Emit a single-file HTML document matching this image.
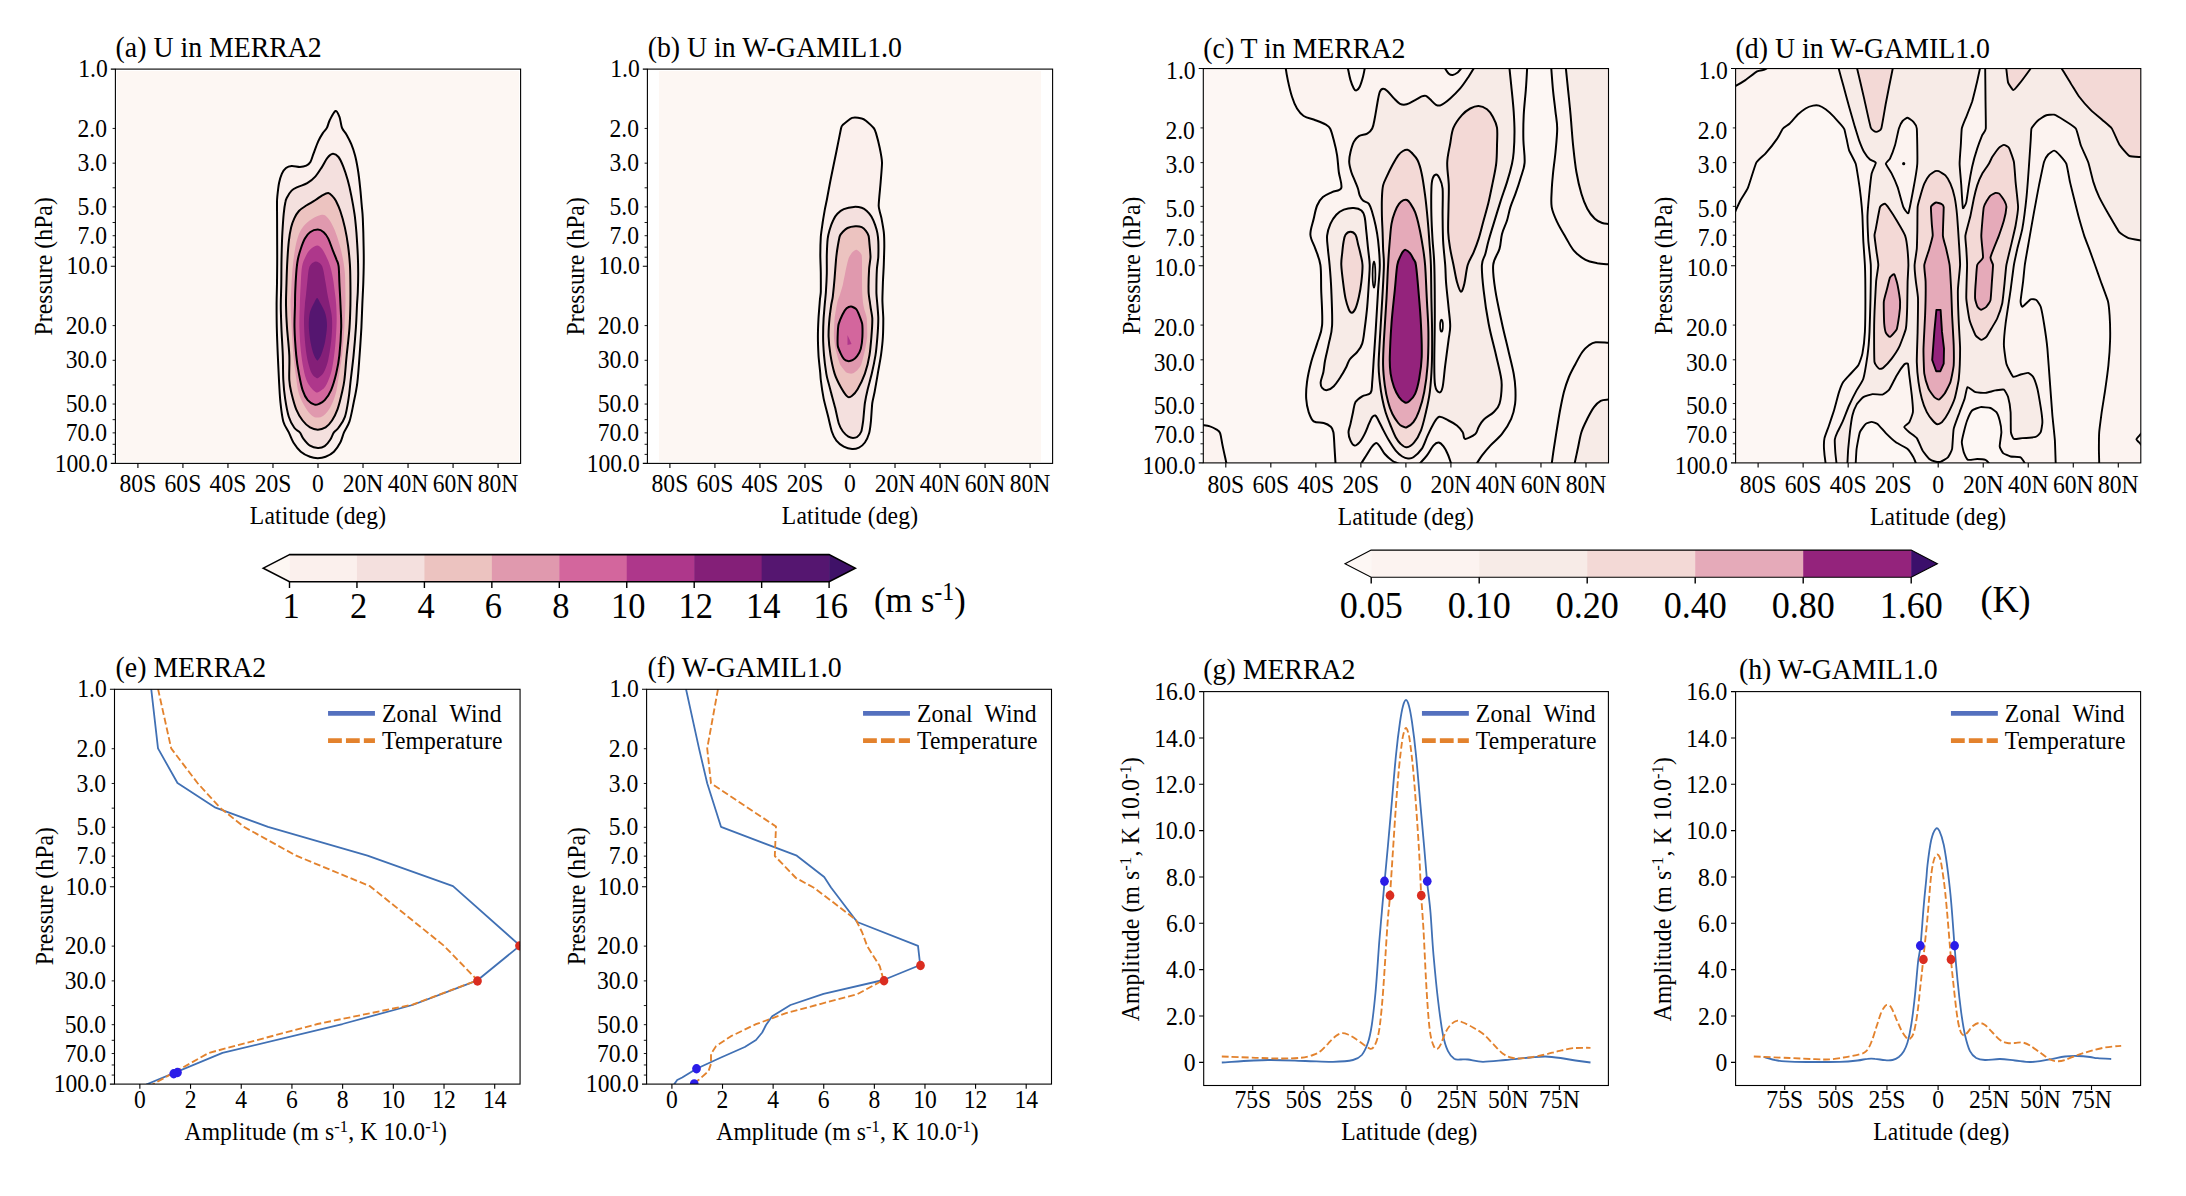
<!DOCTYPE html>
<html><head><meta charset="utf-8"><title>Figure</title>
<style>html,body{margin:0;padding:0;background:#fff}svg{display:block}</style></head>
<body>
<svg width="2186" height="1196" viewBox="0 0 2186 1196" font-family="Liberation Serif, serif" fill="#000">
<rect width="2186" height="1196" fill="#fff"/>
<clipPath id="clipa"><rect x="115.4" y="69.1" width="405.20000000000005" height="394.29999999999995"/></clipPath>
<g clip-path="url(#clipa)">
<rect x="117.05" y="71.05" width="401.90000000000003" height="390.65" fill="#fdf7f3"/>
<path d="M335.5,111.0C337.1,110.4 338.4,114.3 339.4,116.6C340.3,118.9 340.7,122.7 341.2,124.8C341.7,126.9 341.7,127.3 342.6,129.0C343.5,130.7 345.2,132.4 346.7,134.9C348.1,137.4 349.9,140.7 351.3,144.1C352.7,147.5 353.9,151.0 355.0,155.2C356.1,159.3 356.9,163.6 357.8,169.0C358.7,174.4 359.5,181.4 360.1,187.4C360.8,193.4 361.2,199.8 361.7,205.0C362.1,210.2 362.5,211.6 362.8,218.4C363.1,225.2 363.5,237.9 363.6,246.0C363.8,254.1 363.8,261.0 363.7,267.1C363.6,273.2 363.5,276.5 363.3,282.8C363.1,289.1 362.6,297.5 362.3,305.0C362.0,312.5 361.8,319.2 361.4,327.6C360.9,336.0 360.3,346.0 359.6,355.2C358.9,364.4 358.3,374.8 357.3,382.8C356.3,390.8 354.9,396.6 353.6,403.0C352.3,409.4 351.1,416.5 349.5,421.4C347.9,426.3 345.5,428.9 344.0,432.4C342.5,435.9 342.0,439.3 340.3,442.5C338.6,445.7 336.3,449.3 333.9,451.7C331.4,454.1 328.3,455.7 325.6,456.8C322.9,457.9 320.4,458.2 317.8,458.2C315.2,458.2 312.8,457.9 310.0,456.8C307.2,455.7 303.6,454.1 300.8,451.7C298.0,449.3 295.4,445.7 293.4,442.5C291.4,439.3 290.5,435.9 288.8,432.4C287.1,428.9 284.7,426.3 283.3,421.4C281.9,416.5 281.2,409.4 280.5,403.0C279.8,396.6 279.6,390.8 279.1,382.8C278.7,374.8 278.2,364.4 277.8,355.2C277.4,346.0 277.0,336.0 276.8,327.6C276.6,319.2 276.6,312.5 276.6,305.0C276.6,297.5 276.9,291.1 277.0,282.8C277.1,274.5 277.2,264.4 277.2,255.2C277.2,246.0 277.1,236.0 277.1,227.6C277.1,219.2 277.0,210.2 277.0,205.0C277.0,199.8 276.9,200.3 277.3,196.6C277.7,192.9 278.3,186.6 279.1,182.8C279.9,179.0 280.8,176.1 281.9,173.6C283.0,171.1 284.4,169.3 286.0,168.0C287.6,166.7 289.3,166.1 291.6,165.9C293.9,165.7 297.4,166.9 299.8,166.9C302.2,166.9 304.5,166.5 306.3,165.7C308.1,164.9 309.2,164.2 310.4,162.1C311.6,160.0 312.3,156.8 313.6,153.3C314.9,149.9 316.7,144.8 318.2,141.4C319.7,138.0 321.3,135.4 322.8,133.1C324.3,130.8 325.9,129.8 327.0,127.6C328.1,125.4 328.3,123.0 329.7,120.2C331.1,117.4 333.9,111.6 335.5,111.0Z" fill="#fbf0ed" stroke="#000" stroke-width="2" stroke-linejoin="round"/>
<path d="M332.9,153.8C334.8,153.7 336.8,154.9 338.5,157.0C340.2,159.1 341.6,162.4 343.1,166.2C344.6,170.0 346.3,175.1 347.7,180.0C349.1,184.9 350.2,190.0 351.3,195.6C352.4,201.2 353.6,207.7 354.5,213.8C355.4,219.9 355.8,225.3 356.4,232.2C356.9,239.1 357.5,248.3 357.8,255.2C358.1,262.1 358.2,267.5 358.2,273.6C358.2,279.7 358.0,286.8 357.8,292.0C357.6,297.2 357.3,299.1 357.0,305.0C356.7,310.9 356.5,319.2 355.9,327.6C355.3,336.0 354.5,346.0 353.6,355.2C352.7,364.4 351.2,375.6 350.4,382.8C349.6,390.0 349.5,392.7 348.6,398.4C347.7,404.1 346.6,411.9 344.9,416.8C343.2,421.7 340.3,425.2 338.5,427.8C336.7,430.4 335.3,430.4 333.9,432.4C332.5,434.4 331.7,437.5 330.2,439.8C328.7,442.1 326.8,444.8 324.7,446.2C322.6,447.6 320.2,448.1 317.8,448.0C315.4,447.9 312.4,447.2 310.0,445.7C307.6,444.2 305.2,441.1 303.5,438.9C301.8,436.7 301.3,434.2 299.8,432.4C298.3,430.5 296.1,430.4 294.3,427.8C292.5,425.2 290.3,421.7 288.8,416.8C287.3,411.9 286.0,404.5 285.1,398.4C284.2,392.3 283.7,387.2 283.3,380.0C282.9,372.8 283.1,363.9 282.8,355.2C282.5,346.5 281.7,336.0 281.4,327.6C281.1,319.2 280.8,312.5 280.8,305.0C280.8,297.5 281.2,291.1 281.3,282.8C281.4,274.5 281.4,263.6 281.6,255.2C281.8,246.8 282.0,239.1 282.4,232.2C282.8,225.3 283.2,218.8 283.7,213.8C284.2,208.8 284.8,204.7 285.4,202.0C285.9,199.3 286.0,199.4 287.0,197.5C288.0,195.6 289.8,192.4 291.6,190.6C293.4,188.8 295.4,188.1 298.0,186.9C300.6,185.7 304.3,185.0 307.2,183.2C310.1,181.4 313.1,179.0 315.5,176.3C317.9,173.6 319.9,170.2 321.9,167.1C323.9,164.0 325.6,160.1 327.4,157.9C329.2,155.7 331.0,154.0 332.9,153.8Z" fill="#f4e0de" stroke="#000" stroke-width="2" stroke-linejoin="round"/>
<path d="M328.3,192.9C330.1,193.1 331.6,195.2 332.9,196.6C334.2,197.9 334.8,198.6 336.0,201.0C337.2,203.4 338.8,206.6 340.3,211.0C341.8,215.4 343.6,221.8 344.9,227.6C346.2,233.4 347.3,239.9 348.1,246.0C348.9,252.1 349.5,258.3 349.9,264.4C350.3,270.5 350.3,276.0 350.4,282.8C350.5,289.6 350.5,297.5 350.4,305.0C350.2,312.5 350.1,319.2 349.5,327.6C348.9,336.0 347.6,346.5 346.7,355.2C345.8,363.9 345.2,373.6 344.4,380.0C343.6,386.4 342.8,388.9 341.7,393.8C340.6,398.7 339.1,404.9 337.5,409.4C335.9,413.8 334.0,417.5 332.0,420.5C330.0,423.5 328.0,425.9 325.6,427.4C323.2,428.9 320.4,429.7 317.8,429.7C315.2,429.7 312.5,428.9 310.0,427.4C307.5,425.9 304.9,423.5 302.6,420.5C300.3,417.5 298.0,413.8 296.2,409.4C294.4,404.9 292.8,398.7 291.6,393.8C290.5,388.9 289.7,386.4 289.3,380.0C288.9,373.6 289.7,363.9 289.3,355.2C288.9,346.5 287.6,336.0 287.0,327.6C286.4,319.2 286.1,312.5 286.0,305.0C285.9,297.5 286.3,290.3 286.5,282.8C286.7,275.3 287.0,266.7 287.4,259.8C287.8,252.9 288.2,246.8 288.8,241.4C289.4,236.0 290.2,231.4 291.1,227.6C292.0,223.8 293.0,221.2 294.3,218.4C295.6,215.6 296.9,213.2 298.9,211.0C300.9,208.8 303.5,207.3 306.3,205.5C309.1,203.7 312.9,201.7 315.5,200.0C318.1,198.3 319.8,196.8 321.9,195.6C324.0,194.4 326.5,192.7 328.3,192.9Z" fill="#ecc3c0" stroke="#000" stroke-width="2" stroke-linejoin="round"/>
<path d="M321.9,214.7C324.9,214.4 326.1,215.8 328.3,218.4C330.5,221.0 333.0,226.0 334.8,230.3C336.6,234.6 338.0,239.2 339.4,244.1C340.8,249.0 342.2,254.9 343.1,259.8C344.0,264.7 344.5,268.2 344.9,273.6C345.3,279.0 345.3,286.8 345.4,292.0C345.5,297.2 345.6,299.1 345.4,305.0C345.2,310.9 344.9,319.2 344.4,327.6C343.8,336.0 343.1,346.8 342.1,355.2C341.1,363.6 339.6,371.8 338.5,378.2C337.4,384.6 337.1,388.9 335.7,393.8C334.3,398.7 332.2,404.0 330.2,407.6C328.2,411.2 325.8,413.8 323.7,415.4C321.6,417.0 319.3,417.5 317.3,417.5C315.3,417.5 313.8,417.0 311.8,415.4C309.8,413.8 307.5,411.2 305.4,407.6C303.2,404.0 300.4,398.7 298.9,393.8C297.4,388.9 297.1,384.6 296.2,378.2C295.3,371.8 294.2,363.6 293.4,355.2C292.6,346.8 292.1,336.0 291.6,327.6C291.1,319.2 290.7,310.9 290.6,305.0C290.5,299.1 290.8,298.0 291.1,292.0C291.4,286.0 291.9,275.9 292.5,269.0C293.1,262.1 293.9,256.0 294.8,250.6C295.7,245.2 296.7,240.6 298.0,236.8C299.3,233.0 300.6,230.4 302.6,227.6C304.6,224.8 306.8,222.3 310.0,220.2C313.2,218.0 318.8,215.0 321.9,214.7Z" fill="#e099ae" stroke="none"/>
<path d="M317.8,229.6C320.1,229.6 321.9,230.7 323.7,232.2C325.4,233.7 326.8,235.5 328.3,238.6C329.8,241.7 331.5,247.1 332.9,250.6C334.3,254.1 335.7,257.2 336.6,259.8C337.6,262.4 338.1,262.4 338.6,266.2C339.1,270.0 339.1,276.3 339.4,282.8C339.7,289.3 340.2,297.5 340.5,305.0C340.8,312.5 341.4,319.2 341.2,327.6C341.0,336.0 340.2,347.5 339.4,355.2C338.6,362.9 337.6,367.8 336.2,373.6C334.8,379.4 333.0,385.7 331.1,390.1C329.2,394.5 326.7,397.9 324.7,400.2C322.7,402.5 320.8,403.2 319.1,403.9C317.4,404.6 316.5,405.2 314.6,404.6C312.7,404.0 309.7,402.6 307.7,400.2C305.7,397.8 304.1,394.5 302.6,390.1C301.1,385.7 300.0,379.4 298.9,373.6C297.8,367.8 296.9,362.9 296.2,355.2C295.5,347.5 294.7,336.0 294.5,327.6C294.3,319.2 294.9,310.9 295.0,305.0C295.1,299.1 295.0,297.2 295.2,292.0C295.4,286.8 295.8,279.0 296.2,273.6C296.6,268.2 297.0,264.0 297.8,259.8C298.6,255.7 299.6,252.2 300.8,248.7C302.0,245.2 303.4,241.3 304.9,238.6C306.4,235.8 307.9,233.7 310.0,232.2C312.1,230.7 315.5,229.6 317.8,229.6Z" fill="#d3669d" stroke="#000" stroke-width="2" stroke-linejoin="round"/>
<path d="M316.9,245.5C318.9,245.3 320.3,246.8 321.9,248.7C323.5,250.6 325.1,254.1 326.5,257.0C327.9,259.9 329.1,262.7 330.2,266.2C331.3,269.7 332.1,273.9 332.9,278.2C333.7,282.5 334.2,287.5 334.8,292.0C335.4,296.5 335.9,299.8 336.2,305.0C336.5,310.2 336.8,316.2 336.6,323.0C336.4,329.8 336.0,338.3 335.2,346.0C334.4,353.7 333.4,362.6 332.0,369.0C330.6,375.4 328.3,381.0 326.5,384.6C324.7,388.2 322.8,389.4 321.0,390.6C319.2,391.8 317.7,393.3 315.5,392.0C313.3,390.7 309.7,386.6 307.7,382.8C305.7,379.0 304.6,374.4 303.5,369.0C302.4,363.6 301.5,357.5 300.8,350.6C300.1,343.7 299.6,335.2 299.4,327.6C299.2,320.0 299.6,312.5 299.8,305.0C300.0,297.5 300.4,289.3 300.8,282.8C301.2,276.3 301.3,270.5 302.1,266.2C302.9,261.9 304.1,259.8 305.4,257.0C306.7,254.2 308.1,251.6 310.0,249.7C311.9,247.8 314.9,245.7 316.9,245.5Z" fill="#ae378b" stroke="none"/>
<path d="M315.9,261.6C317.6,261.6 319.8,263.0 321.0,264.4C322.2,265.8 322.5,266.8 323.3,269.9C324.1,273.0 324.8,278.4 325.6,282.8C326.4,287.2 327.2,292.9 327.9,296.6C328.6,300.3 329.0,301.4 329.7,305.0C330.4,308.6 331.7,313.1 332.0,318.4C332.3,323.7 332.2,329.9 331.6,336.8C331.0,343.7 329.6,353.8 328.3,359.8C327.0,365.8 325.2,369.7 323.7,372.6C322.2,375.5 320.3,376.3 319.1,377.2C317.9,378.1 317.6,378.6 316.4,378.0C315.2,377.4 313.2,376.2 311.8,373.6C310.4,371.0 309.2,367.1 308.1,362.5C307.0,357.9 306.1,352.6 305.4,346.0C304.7,339.4 304.1,329.8 304.0,323.0C303.9,316.2 304.6,309.4 304.9,305.0C305.2,300.6 305.4,300.3 305.8,296.6C306.2,292.9 306.7,287.2 307.2,282.8C307.7,278.4 308.0,273.0 308.6,269.9C309.2,266.8 309.7,265.8 310.9,264.4C312.1,263.0 314.2,261.6 315.9,261.6Z" fill="#841f78" stroke="none"/>
<path d="M317.1,297.9C318.2,297.9 319.3,301.3 320.3,303.0C321.3,304.7 322.1,306.1 323.0,308.0C323.9,309.9 324.9,311.6 325.6,314.5C326.3,317.4 327.1,321.2 327.0,325.7C326.9,330.2 326.0,336.6 325.1,341.4C324.2,346.2 322.5,351.3 321.4,354.3C320.3,357.3 319.4,358.3 318.7,359.3C317.9,360.3 317.8,361.0 316.9,360.2C316.0,359.4 314.7,357.4 313.6,354.3C312.5,351.2 311.2,346.2 310.4,341.4C309.6,336.6 308.9,330.2 308.8,325.7C308.7,321.2 309.1,317.4 309.5,314.5C309.9,311.6 310.8,309.9 311.5,308.0C312.2,306.1 313.1,304.7 314.0,303.0C314.9,301.3 316.1,297.9 317.1,297.9Z" fill="#551670" stroke="none"/>
</g>
<rect x="115.40" y="69.10" width="405.20" height="394.30" fill="none" stroke="#000" stroke-width="1.1"/>
<text transform="translate(107.70,77.20) scale(1,1.03)" font-size="23.6" text-anchor="end" >1.0</text>
<text transform="translate(107.70,274.35) scale(1,1.03)" font-size="23.6" text-anchor="end" >10.0</text>
<text transform="translate(107.70,471.50) scale(1,1.03)" font-size="23.6" text-anchor="end" >100.0</text>
<path d="M115.40,69.10h-4.6M115.40,266.25h-4.6M115.40,463.40h-4.6" stroke="#000" stroke-width="1.1" fill="none"/>
<text transform="translate(107.00,136.55) scale(1,1.03)" font-size="23.6" text-anchor="end" >2.0</text>
<text transform="translate(107.00,171.26) scale(1,1.03)" font-size="23.6" text-anchor="end" >3.0</text>
<text transform="translate(107.00,215.00) scale(1,1.03)" font-size="23.6" text-anchor="end" >5.0</text>
<text transform="translate(107.00,243.81) scale(1,1.03)" font-size="23.6" text-anchor="end" >7.0</text>
<text transform="translate(107.00,333.70) scale(1,1.03)" font-size="23.6" text-anchor="end" >20.0</text>
<text transform="translate(107.00,368.41) scale(1,1.03)" font-size="23.6" text-anchor="end" >30.0</text>
<text transform="translate(107.00,412.15) scale(1,1.03)" font-size="23.6" text-anchor="end" >50.0</text>
<text transform="translate(107.00,440.96) scale(1,1.03)" font-size="23.6" text-anchor="end" >70.0</text>
<path d="M115.40,128.45h-2.8M115.40,163.16h-2.8M115.40,206.90h-2.8M115.40,235.71h-2.8M115.40,325.60h-2.8M115.40,360.31h-2.8M115.40,404.05h-2.8M115.40,432.86h-2.8M115.40,187.80h-2.8M115.40,222.51h-2.8M115.40,247.14h-2.8M115.40,257.23h-2.8M115.40,384.95h-2.8M115.40,419.66h-2.8M115.40,444.29h-2.8M115.40,454.38h-2.8" stroke="#000" stroke-width="0.9" fill="none"/>
<text transform="translate(137.91,491.70) scale(1,1.03)" font-size="23.6" text-anchor="middle" >80S</text>
<text transform="translate(182.93,491.70) scale(1,1.03)" font-size="23.6" text-anchor="middle" >60S</text>
<text transform="translate(227.96,491.70) scale(1,1.03)" font-size="23.6" text-anchor="middle" >40S</text>
<text transform="translate(272.98,491.70) scale(1,1.03)" font-size="23.6" text-anchor="middle" >20S</text>
<text transform="translate(318.00,491.70) scale(1,1.03)" font-size="23.6" text-anchor="middle" >0</text>
<text transform="translate(363.02,491.70) scale(1,1.03)" font-size="23.6" text-anchor="middle" >20N</text>
<text transform="translate(408.04,491.70) scale(1,1.03)" font-size="23.6" text-anchor="middle" >40N</text>
<text transform="translate(453.07,491.70) scale(1,1.03)" font-size="23.6" text-anchor="middle" >60N</text>
<text transform="translate(498.09,491.70) scale(1,1.03)" font-size="23.6" text-anchor="middle" >80N</text>
<path d="M137.91,463.40v4.6M182.93,463.40v4.6M227.96,463.40v4.6M272.98,463.40v4.6M318.00,463.40v4.6M363.02,463.40v4.6M408.04,463.40v4.6M453.07,463.40v4.6M498.09,463.40v4.6" stroke="#000" stroke-width="1.1" fill="none"/>
<text transform="translate(318.00,523.80) scale(1,1.03)" font-size="23.6" text-anchor="middle" letter-spacing="0.15">Latitude (deg)</text>
<text transform="translate(115.60,57.30) scale(1,1.03)" font-size="27.8" text-anchor="start" >(a) U in MERRA2</text>
<text transform="translate(51.80,266.25) rotate(-90) scale(1,1.06)" font-size="23.6" text-anchor="middle" letter-spacing="0.1">Pressure (hPa)</text>
<clipPath id="clipb"><rect x="647.4" y="69.1" width="405.19999999999993" height="394.29999999999995"/></clipPath>
<g clip-path="url(#clipb)">
<rect x="659" y="71.05" width="382" height="390.65" fill="#fdf7f3"/>
<path d="M852.1,117.9C854.0,117.3 860.3,118.1 861.7,118.4C863.1,118.7 864.7,119.7 865.9,120.7C867.1,121.7 872.7,126.8 873.7,128.0C874.7,129.2 875.4,131.1 876.0,133.1C876.6,135.1 879.1,144.9 879.7,147.8C880.3,150.7 881.9,159.0 882.0,162.5C882.1,166.0 880.9,178.5 880.6,182.8C880.3,187.1 878.6,202.1 878.7,205.7C878.8,209.3 881.0,215.8 881.5,218.4C882.0,221.1 883.5,229.4 883.8,232.2C884.1,235.0 884.3,242.8 884.3,246.0C884.3,249.2 883.9,260.7 883.8,264.4C883.7,268.1 883.0,279.2 882.9,282.8C882.8,286.4 882.4,296.4 882.4,300.0C882.4,303.6 883.2,314.7 883.3,318.4C883.3,322.1 883.1,333.1 882.9,336.8C882.7,340.5 881.5,351.5 881.0,355.2C880.5,358.9 878.4,369.9 877.8,373.6C877.2,377.3 875.1,389.1 874.6,392.0C874.1,394.9 872.7,400.1 872.3,403.0C871.9,405.9 871.2,418.4 870.9,421.4C870.6,424.4 869.7,431.2 869.1,433.3C868.5,435.4 865.9,441.1 864.9,442.5C863.9,443.9 860.3,447.0 859.0,447.6C857.7,448.2 853.6,449.1 852.1,449.0C850.6,448.9 845.4,447.5 843.8,446.7C842.2,445.9 837.6,442.2 836.4,440.7C835.2,439.2 832.6,433.9 831.8,431.5C831.0,429.1 829.0,420.1 828.2,416.8C827.4,413.5 824.3,402.1 823.6,398.4C822.9,394.7 821.1,382.5 820.8,380.0C820.5,377.5 820.5,376.1 820.3,373.6C820.1,371.1 818.7,358.9 818.5,355.2C818.3,351.5 817.9,340.5 817.9,336.8C817.9,333.1 818.3,322.1 818.5,318.4C818.7,314.7 819.7,302.6 819.9,300.0C820.1,297.4 820.7,294.6 820.8,292.0C820.9,289.4 820.8,277.3 820.8,273.6C820.8,269.9 820.3,258.9 820.3,255.2C820.3,251.5 820.6,240.0 820.8,236.8C821.0,233.6 822.2,225.8 822.6,223.0C823.0,220.2 824.5,211.5 824.9,209.2C825.3,206.9 826.2,203.1 826.8,200.0C827.4,196.9 829.9,183.0 830.9,178.2C831.9,173.3 835.4,156.5 836.4,151.5C837.4,146.5 840.4,131.2 841.0,128.5C841.6,125.8 841.8,125.9 842.9,124.8C844.0,123.7 850.2,118.5 852.1,117.9Z" fill="#fbf0ed" stroke="#000" stroke-width="2" stroke-linejoin="round"/>
<path d="M853.9,206.9C855.7,206.8 860.4,207.4 861.7,207.8C863.0,208.2 865.8,210.1 866.8,211.0C867.8,211.9 870.6,215.2 871.4,216.6C872.2,218.0 874.5,223.2 875.1,224.8C875.7,226.5 877.1,231.4 877.4,233.1C877.7,234.8 878.2,239.0 878.3,241.4C878.4,243.8 878.4,254.2 878.3,257.0C878.2,259.8 877.1,265.5 876.9,269.0C876.7,272.5 876.4,288.4 876.4,292.0C876.4,295.6 877.2,302.4 877.4,305.0C877.6,307.6 878.3,315.2 878.3,318.4C878.3,321.6 877.7,333.1 877.4,336.8C877.1,340.5 876.1,351.5 875.5,355.2C874.9,358.9 872.6,370.2 871.8,373.6C871.0,377.0 868.4,386.3 867.7,389.2C867.0,392.1 865.4,399.8 864.9,403.0C864.4,406.2 863.5,418.5 863.1,421.4C862.7,424.2 861.9,429.9 861.3,431.5C860.7,433.1 857.9,436.4 857.1,437.0C856.3,437.6 853.9,437.9 853.0,437.9C852.1,437.9 849.4,437.2 848.4,436.6C847.4,436.0 843.9,432.8 842.9,431.5C841.9,430.2 839.5,425.6 838.7,423.2C837.9,420.8 835.9,410.7 835.1,407.6C834.3,404.5 831.6,394.8 830.9,392.0C830.2,389.2 828.2,381.8 827.7,380.0C827.2,378.2 826.7,376.1 826.3,373.6C825.9,371.1 824.3,358.9 824.0,355.2C823.7,351.5 823.1,340.5 823.1,336.8C823.1,333.1 823.4,321.6 823.6,318.4C823.8,315.2 824.5,307.6 824.7,305.0C824.9,302.4 825.7,295.1 825.9,292.0C826.1,288.9 826.7,277.3 826.8,273.6C826.9,269.9 826.7,258.7 826.8,255.2C826.9,251.7 827.4,241.1 827.7,238.6C828.0,236.1 829.0,232.1 829.5,230.3C830.0,228.5 832.4,221.8 833.2,220.2C834.0,218.5 836.3,214.9 837.4,213.8C838.5,212.7 842.1,209.9 843.8,209.2C845.4,208.5 852.1,207.0 853.9,206.9Z" fill="#f4e0de" stroke="#000" stroke-width="2" stroke-linejoin="round"/>
<path d="M855.3,226.2C856.7,226.1 860.6,226.6 861.7,227.1C862.8,227.6 865.2,229.9 865.9,230.8C866.6,231.7 868.2,234.6 868.6,235.9C869.0,237.2 869.3,242.0 869.5,244.1C869.7,246.2 870.5,254.5 870.5,257.0C870.5,259.5 869.3,265.5 869.1,269.0C868.9,272.5 868.5,288.6 868.6,292.0C868.7,295.4 869.8,301.4 870.0,303.0C870.2,304.6 870.5,306.5 870.7,308.0C870.9,309.5 872.2,315.5 872.3,318.4C872.4,321.3 871.7,333.1 871.4,336.8C871.1,340.5 870.1,351.5 869.5,355.2C868.9,358.9 866.1,370.2 864.9,373.6C863.7,377.0 858.9,387.0 857.6,389.2C856.3,391.4 853.1,395.0 852.1,395.8C851.1,396.6 848.8,397.6 847.7,396.8C846.6,396.0 842.3,389.7 841.0,387.4C839.7,385.1 835.6,376.8 834.6,373.6C833.6,370.4 831.1,358.9 830.5,355.2C829.9,351.5 828.7,340.5 828.6,336.8C828.5,333.1 829.2,321.6 829.5,318.4C829.8,315.2 830.9,307.2 831.2,305.0C831.5,302.8 832.5,299.3 832.8,296.6C833.1,293.9 834.3,281.9 834.6,278.2C834.9,274.5 835.7,263.0 836.0,259.8C836.3,256.6 837.4,248.3 837.8,246.0C838.2,243.7 839.2,237.7 839.7,236.3C840.2,234.9 842.1,232.5 842.9,231.7C843.7,230.9 846.3,228.6 847.5,228.0C848.7,227.4 853.9,226.3 855.3,226.2Z" fill="#ecc3c0" stroke="#000" stroke-width="2" stroke-linejoin="round"/>
<path d="M856.7,249.7C857.7,250.0 861.2,252.8 861.7,255.2C862.2,257.6 862.0,269.9 862.0,273.6C862.0,277.3 862.1,289.1 862.2,292.0C862.3,294.9 862.9,301.2 863.1,303.0C863.3,304.8 864.1,308.5 864.5,310.0C864.9,311.5 866.5,315.7 866.8,318.4C867.1,321.1 867.4,333.6 867.2,336.8C867.0,340.0 865.5,347.8 864.9,350.6C864.3,353.4 862.1,362.4 861.3,364.4C860.5,366.4 857.6,369.9 856.7,370.8C855.8,371.7 853.1,373.4 852.1,373.6C851.1,373.8 847.8,373.5 846.6,372.6C845.4,371.7 841.2,366.6 840.1,364.4C839.0,362.2 836.6,353.4 836.0,350.6C835.4,347.8 834.0,340.0 833.9,336.8C833.8,333.6 834.2,321.9 834.6,318.4C835.0,314.9 836.9,304.4 837.4,302.0C837.9,299.6 839.6,296.0 840.1,294.3C840.6,292.6 842.4,287.0 842.9,284.6C843.4,282.2 845.1,273.4 845.6,270.8C846.1,268.2 847.8,260.7 848.4,258.9C849.0,257.1 851.3,253.3 852.1,252.4C852.9,251.5 855.7,249.4 856.7,249.7Z" fill="#e099ae" stroke="none"/>
<path d="M851.1,306.4C852.1,306.5 855.4,308.3 856.2,309.2C857.0,310.1 858.8,314.1 859.4,315.6C860.0,317.1 861.9,321.8 862.2,323.9C862.5,326.0 862.5,334.3 862.4,336.8C862.3,339.3 861.3,346.8 860.8,348.7C860.3,350.6 857.9,355.0 857.1,356.1C856.3,357.2 853.4,359.7 852.5,360.2C851.6,360.7 848.8,361.2 847.9,361.1C847.0,361.0 844.5,359.7 843.8,358.9C843.1,358.1 841.2,354.6 840.6,353.3C840.0,352.0 838.1,348.1 837.8,346.0C837.5,343.9 837.7,334.4 837.8,332.2C837.9,330.0 838.2,325.6 838.7,323.9C839.2,322.1 841.6,316.3 842.4,314.7C843.2,313.1 845.7,309.1 846.6,308.3C847.5,307.5 850.1,306.3 851.1,306.4Z" fill="#d3669d" stroke="#000" stroke-width="2" stroke-linejoin="round"/>
<path d="M847.5,334.9C847.5,334.9 851.6,344.1 851.6,344.1C851.6,344.1 847.5,345.1 847.5,345.1C847.5,345.1 847.5,334.9 847.5,334.9Z" fill="#ae378b" stroke="none"/>
</g>
<rect x="647.40" y="69.10" width="405.20" height="394.30" fill="none" stroke="#000" stroke-width="1.1"/>
<text transform="translate(639.70,77.20) scale(1,1.03)" font-size="23.6" text-anchor="end" >1.0</text>
<text transform="translate(639.70,274.35) scale(1,1.03)" font-size="23.6" text-anchor="end" >10.0</text>
<text transform="translate(639.70,471.50) scale(1,1.03)" font-size="23.6" text-anchor="end" >100.0</text>
<path d="M647.40,69.10h-4.6M647.40,266.25h-4.6M647.40,463.40h-4.6" stroke="#000" stroke-width="1.1" fill="none"/>
<text transform="translate(639.00,136.55) scale(1,1.03)" font-size="23.6" text-anchor="end" >2.0</text>
<text transform="translate(639.00,171.26) scale(1,1.03)" font-size="23.6" text-anchor="end" >3.0</text>
<text transform="translate(639.00,215.00) scale(1,1.03)" font-size="23.6" text-anchor="end" >5.0</text>
<text transform="translate(639.00,243.81) scale(1,1.03)" font-size="23.6" text-anchor="end" >7.0</text>
<text transform="translate(639.00,333.70) scale(1,1.03)" font-size="23.6" text-anchor="end" >20.0</text>
<text transform="translate(639.00,368.41) scale(1,1.03)" font-size="23.6" text-anchor="end" >30.0</text>
<text transform="translate(639.00,412.15) scale(1,1.03)" font-size="23.6" text-anchor="end" >50.0</text>
<text transform="translate(639.00,440.96) scale(1,1.03)" font-size="23.6" text-anchor="end" >70.0</text>
<path d="M647.40,128.45h-2.8M647.40,163.16h-2.8M647.40,206.90h-2.8M647.40,235.71h-2.8M647.40,325.60h-2.8M647.40,360.31h-2.8M647.40,404.05h-2.8M647.40,432.86h-2.8M647.40,187.80h-2.8M647.40,222.51h-2.8M647.40,247.14h-2.8M647.40,257.23h-2.8M647.40,384.95h-2.8M647.40,419.66h-2.8M647.40,444.29h-2.8M647.40,454.38h-2.8" stroke="#000" stroke-width="0.9" fill="none"/>
<text transform="translate(669.91,491.70) scale(1,1.03)" font-size="23.6" text-anchor="middle" >80S</text>
<text transform="translate(714.93,491.70) scale(1,1.03)" font-size="23.6" text-anchor="middle" >60S</text>
<text transform="translate(759.96,491.70) scale(1,1.03)" font-size="23.6" text-anchor="middle" >40S</text>
<text transform="translate(804.98,491.70) scale(1,1.03)" font-size="23.6" text-anchor="middle" >20S</text>
<text transform="translate(850.00,491.70) scale(1,1.03)" font-size="23.6" text-anchor="middle" >0</text>
<text transform="translate(895.02,491.70) scale(1,1.03)" font-size="23.6" text-anchor="middle" >20N</text>
<text transform="translate(940.04,491.70) scale(1,1.03)" font-size="23.6" text-anchor="middle" >40N</text>
<text transform="translate(985.07,491.70) scale(1,1.03)" font-size="23.6" text-anchor="middle" >60N</text>
<text transform="translate(1030.09,491.70) scale(1,1.03)" font-size="23.6" text-anchor="middle" >80N</text>
<path d="M669.91,463.40v4.6M714.93,463.40v4.6M759.96,463.40v4.6M804.98,463.40v4.6M850.00,463.40v4.6M895.02,463.40v4.6M940.04,463.40v4.6M985.07,463.40v4.6M1030.09,463.40v4.6" stroke="#000" stroke-width="1.1" fill="none"/>
<text transform="translate(850.00,523.80) scale(1,1.03)" font-size="23.6" text-anchor="middle" letter-spacing="0.15">Latitude (deg)</text>
<text transform="translate(647.70,57.30) scale(1,1.03)" font-size="27.8" text-anchor="start" >(b) U in W-GAMIL1.0</text>
<text transform="translate(583.80,266.25) rotate(-90) scale(1,1.06)" font-size="23.6" text-anchor="middle" letter-spacing="0.1">Pressure (hPa)</text>
<clipPath id="clipc"><rect x="1203.3" y="68.55" width="405.20000000000005" height="394.34999999999997"/></clipPath>
<g clip-path="url(#clipc)">
<rect x="1203.3" y="68.55" width="405.20000000000005" height="394.34999999999997" fill="#fdf7f4"/>
<path d="M1285.8,66.0C1285.8,66.5 1285.5,66.4 1285.8,68.7C1286.1,71.0 1286.8,75.4 1287.8,80.1C1288.8,84.8 1290.5,92.1 1292.0,96.8C1293.5,101.5 1295.0,105.3 1297.0,108.5C1299.0,111.7 1300.6,114.0 1303.7,116.0C1306.8,118.0 1311.8,118.8 1315.4,120.2C1319.0,121.6 1323.0,123.0 1325.4,124.4C1327.9,125.8 1328.7,125.8 1330.1,128.5C1331.5,131.2 1332.6,135.8 1333.8,140.3C1335.0,144.8 1336.3,150.0 1337.1,155.3C1337.9,160.6 1338.1,166.6 1338.8,172.0C1339.5,177.4 1342.4,184.6 1341.3,187.9C1340.2,191.2 1335.2,190.6 1332.1,192.1C1329.0,193.6 1325.4,194.9 1322.9,197.1C1320.4,199.3 1318.6,201.9 1317.1,205.5C1315.6,209.1 1314.8,213.9 1313.7,218.8C1312.6,223.7 1310.1,229.7 1310.4,234.7C1310.7,239.7 1313.7,243.8 1315.4,248.9C1317.1,254.0 1319.4,258.1 1320.4,265.0C1321.4,271.9 1320.9,280.1 1321.2,290.1C1321.5,300.1 1322.8,316.3 1322.1,325.2C1321.4,334.1 1318.9,337.5 1317.1,343.6C1315.3,349.7 1312.9,355.6 1311.2,362.0C1309.5,368.4 1307.8,376.0 1307.0,382.1C1306.2,388.2 1305.9,393.8 1306.2,398.8C1306.5,403.8 1307.5,408.4 1308.7,412.2C1310.0,416.0 1311.2,419.6 1313.7,421.4C1316.2,423.2 1320.9,422.2 1323.7,423.0C1326.5,423.8 1328.8,424.9 1330.4,426.4C1332.0,427.9 1332.7,428.4 1333.4,432.2C1334.1,435.9 1334.2,443.7 1334.6,448.9C1334.9,454.1 1335.3,460.3 1335.5,463.2C1335.7,466.1 1335.6,465.5 1335.6,466.0L1335.6,466.0L1475.0,466.0L1475.0,466.0C1475.3,465.5 1475.8,464.9 1476.9,463.2C1478.1,461.5 1479.7,458.6 1481.9,455.7C1484.1,452.8 1487.0,449.2 1490.3,445.6C1493.6,442.0 1498.5,438.4 1502.0,433.9C1505.5,429.4 1509.0,423.8 1511.2,418.8C1513.4,413.8 1514.4,408.8 1515.1,403.8C1515.8,398.8 1515.6,393.7 1515.4,388.7C1515.2,383.7 1514.8,379.8 1513.7,373.7C1512.6,367.6 1510.7,360.4 1508.7,352.0C1506.8,343.6 1504.2,333.8 1502.0,323.5C1499.8,313.2 1496.8,299.9 1495.3,290.1C1493.8,280.4 1492.5,271.9 1493.2,265.0C1493.9,258.1 1498.0,254.1 1499.5,248.9C1501.0,243.7 1500.8,238.6 1502.0,233.9C1503.2,229.2 1505.6,225.0 1507.0,220.5C1508.4,216.0 1509.0,211.5 1510.4,207.1C1511.8,202.7 1513.7,198.5 1515.4,193.8C1517.1,189.1 1518.9,183.9 1520.4,178.7C1521.9,173.5 1524.1,169.2 1524.6,162.8C1525.1,156.4 1523.6,148.2 1523.4,140.3C1523.2,132.4 1523.3,123.6 1523.7,115.2C1524.1,106.8 1525.2,97.8 1525.8,90.1C1526.4,82.3 1526.9,72.7 1527.1,68.7C1527.3,64.7 1527.2,66.5 1527.2,66.0Z" fill="#fcf3f0"/>
<path d="M1347.5,66.0C1347.6,66.5 1347.5,66.4 1348.0,68.7C1348.5,71.0 1349.5,76.8 1350.5,80.1C1351.5,83.4 1352.8,86.7 1353.8,88.4C1354.8,90.1 1355.4,90.7 1356.4,90.4C1357.4,90.1 1358.6,89.0 1359.7,86.7C1360.8,84.4 1362.2,79.7 1363.0,76.7C1363.8,73.7 1364.3,70.5 1364.7,68.7C1365.1,66.9 1365.1,66.5 1365.2,66.0Z" fill="#fdf7f4"/>
<path d="M1443.0,66.0C1443.4,66.5 1444.3,67.5 1445.2,68.7C1446.1,69.9 1447.2,72.4 1448.5,73.4C1449.8,74.5 1451.2,75.2 1452.7,75.0C1454.2,74.8 1456.3,73.5 1457.7,72.5C1459.1,71.5 1460.1,69.8 1461.0,68.7C1461.9,67.6 1462.7,66.5 1463.0,66.0Z" fill="#fdf7f4"/>
<path d="M1359.5,466.0C1359.8,465.5 1360.1,465.2 1361.4,463.2C1362.7,461.2 1365.4,456.8 1367.2,454.0C1369.0,451.2 1370.7,448.2 1372.2,446.4C1373.7,444.6 1375.1,443.1 1376.4,443.1C1377.7,443.1 1378.4,444.6 1379.8,446.4C1381.2,448.2 1382.7,451.6 1384.8,454.0C1386.9,456.4 1390.2,459.2 1392.3,460.7C1394.4,462.2 1395.7,462.4 1397.3,463.2C1398.9,464.0 1401.2,465.1 1402.0,465.5Z" fill="#fdf7f4"/>
<path d="M1417.5,466.0C1417.9,465.5 1418.5,464.9 1420.1,463.2C1421.6,461.5 1424.6,458.6 1426.8,455.7C1429.0,452.8 1431.5,447.8 1433.4,445.6C1435.4,443.4 1436.8,442.5 1438.5,442.6C1440.2,442.7 1442.0,444.5 1443.5,446.4C1445.0,448.3 1446.5,451.2 1447.7,454.0C1449.0,456.8 1450.3,461.2 1451.0,463.2C1451.7,465.2 1451.8,465.5 1452.0,466.0Z" fill="#fdf7f4"/>
<path d="M1551.1,66.0C1551.1,66.5 1551.0,64.7 1551.3,68.7C1551.6,72.7 1552.3,82.9 1553.0,90.1C1553.7,97.3 1554.8,105.4 1555.5,111.8C1556.2,118.2 1557.2,121.8 1557.2,128.5C1557.2,135.2 1556.2,144.5 1555.5,152.0C1554.8,159.5 1553.6,167.3 1553.0,173.7C1552.4,180.1 1551.9,184.8 1551.7,190.4C1551.5,196.0 1550.8,201.8 1551.7,207.1C1552.6,212.4 1554.9,217.2 1557.2,222.2C1559.5,227.2 1562.8,232.5 1565.6,237.2C1568.4,241.9 1570.6,246.8 1573.9,250.6C1577.2,254.4 1581.7,257.7 1585.6,259.8C1589.5,261.9 1593.5,262.4 1597.3,263.2C1601.1,263.9 1605.8,264.1 1608.2,264.3C1610.7,264.5 1611.4,264.5 1612.0,264.5L1612.0,60.0Z" fill="#fcf3f0"/>
<path d="M1612.0,342.9C1611.4,342.9 1610.9,342.9 1608.2,342.8C1605.5,342.7 1598.9,341.9 1595.7,342.3C1592.5,342.7 1591.2,343.7 1589.0,345.3C1586.8,346.9 1584.5,348.9 1582.3,352.0C1580.1,355.1 1577.8,359.5 1575.6,363.7C1573.4,367.9 1570.9,372.3 1568.9,377.0C1567.0,381.7 1565.4,386.2 1563.9,392.1C1562.4,398.0 1561.0,405.5 1559.7,412.2C1558.5,418.9 1557.4,426.1 1556.4,432.2C1555.4,438.3 1554.6,443.7 1553.8,448.9C1553.0,454.1 1552.2,460.3 1551.8,463.2C1551.4,466.1 1551.5,465.5 1551.4,466.0L1612.0,466.0Z" fill="#fcf3f0"/>
<path d="M1200.0,425.0C1200.6,425.0 1202.0,425.0 1203.7,425.2C1205.4,425.4 1207.8,425.6 1210.0,426.4C1212.2,427.1 1215.0,428.6 1216.7,429.7C1218.4,430.8 1219.1,430.5 1220.1,433.1C1221.1,435.8 1221.5,440.6 1222.6,445.6C1223.6,450.6 1225.7,459.8 1226.4,463.2C1227.1,466.6 1226.9,465.5 1227.0,466.0L1200.0,466.0Z" fill="#fcf3f0"/>
<path d="M1475.5,66.0C1475.2,66.5 1474.8,66.9 1473.6,68.7C1472.4,70.5 1470.8,73.4 1468.6,76.7C1466.4,80.0 1463.3,84.8 1460.2,88.4C1457.1,92.0 1453.4,95.6 1450.2,98.4C1447.0,101.2 1443.4,104.0 1441.0,105.1C1438.6,106.2 1437.8,105.8 1436.0,104.8C1434.2,103.8 1431.8,100.8 1430.1,99.3C1428.4,97.8 1427.3,96.4 1425.9,95.9C1424.5,95.4 1423.5,95.7 1421.7,96.4C1419.9,97.1 1417.6,98.8 1415.1,100.1C1412.6,101.4 1409.2,103.7 1406.7,104.3C1404.2,104.9 1402.1,104.8 1400.0,103.8C1397.9,102.8 1396.1,100.6 1394.0,98.4C1391.9,96.2 1389.1,92.5 1387.3,90.9C1385.5,89.3 1384.3,88.6 1383.1,88.7C1381.8,88.8 1380.8,89.3 1379.8,91.8C1378.8,94.3 1378.1,99.0 1377.3,103.5C1376.5,108.0 1375.5,114.3 1374.7,118.5C1373.9,122.7 1373.5,126.0 1372.2,128.5C1371.0,131.0 1369.4,132.3 1367.2,133.6C1365.0,134.9 1361.1,134.7 1358.9,136.1C1356.7,137.5 1355.2,139.2 1353.8,141.9C1352.4,144.6 1351.3,148.7 1350.5,152.0C1349.7,155.3 1349.1,158.7 1349.2,162.0C1349.3,165.3 1350.4,168.9 1351.3,172.0C1352.2,175.1 1353.6,177.6 1354.7,180.4C1355.8,183.2 1357.2,186.2 1358.0,188.7C1358.8,191.2 1358.9,193.4 1359.7,195.4C1360.5,197.4 1361.5,199.1 1363.0,200.5C1364.5,201.9 1367.4,201.9 1368.9,203.8C1370.4,205.8 1371.1,208.6 1372.2,212.2C1373.3,215.8 1374.6,220.8 1375.6,225.5C1376.6,230.2 1377.4,234.0 1378.1,240.6C1378.8,247.2 1379.8,256.8 1379.8,265.0C1379.8,273.2 1378.8,279.0 1378.1,290.1C1377.4,301.2 1376.3,320.8 1375.6,331.9C1374.9,343.0 1374.5,348.6 1373.9,357.0C1373.3,365.4 1372.8,376.1 1372.2,382.1C1371.7,388.1 1372.3,390.5 1370.6,392.9C1368.9,395.3 1364.7,394.8 1362.2,396.3C1359.7,397.8 1357.0,399.5 1355.5,402.1C1354.0,404.8 1353.8,408.6 1353.0,412.2C1352.2,415.8 1351.2,420.6 1350.5,423.9C1349.8,427.2 1348.5,429.4 1348.5,432.2C1348.5,435.0 1349.5,438.4 1350.5,440.6C1351.5,442.8 1353.2,445.3 1354.7,445.6C1356.2,445.9 1358.0,444.1 1359.7,442.2C1361.4,440.2 1363.2,436.9 1364.7,433.9C1366.2,430.8 1367.7,426.7 1368.9,423.9C1370.2,421.1 1371.1,418.6 1372.2,417.2C1373.3,415.8 1374.3,415.1 1375.3,415.5C1376.3,415.9 1376.8,417.3 1378.1,419.7C1379.4,422.1 1381.3,426.2 1383.1,429.7C1384.9,433.2 1386.9,437.1 1389.0,440.6C1391.1,444.1 1393.5,448.0 1395.7,450.6C1397.9,453.2 1400.2,455.2 1402.3,456.5C1404.3,457.8 1406.2,458.4 1408.0,458.5C1409.8,458.6 1411.1,458.9 1413.4,457.3C1415.7,455.7 1419.3,452.5 1421.7,448.9C1424.1,445.3 1425.6,439.8 1427.6,435.6C1429.5,431.4 1431.5,427.0 1433.4,423.9C1435.4,420.8 1436.8,417.4 1439.3,416.8C1441.8,416.2 1445.6,419.1 1448.5,420.5C1451.4,421.9 1454.5,423.6 1456.9,425.5C1459.3,427.4 1461.3,430.0 1462.7,432.2C1464.1,434.4 1463.1,438.6 1465.2,438.9C1467.3,439.2 1473.1,435.8 1475.3,433.9C1477.5,431.9 1477.2,429.6 1478.6,427.2C1480.0,424.8 1481.1,422.2 1483.6,419.7C1486.1,417.2 1490.9,414.8 1493.6,412.2C1496.2,409.6 1498.2,408.3 1499.5,403.8C1500.8,399.3 1501.6,390.4 1501.7,385.4C1501.8,380.4 1501.4,379.3 1500.3,373.7C1499.2,368.1 1497.2,360.4 1495.3,352.0C1493.3,343.6 1490.5,333.8 1488.6,323.5C1486.6,313.2 1484.7,299.9 1483.6,290.1C1482.5,280.4 1481.6,271.0 1481.9,265.0C1482.2,259.0 1484.2,258.1 1485.3,254.0C1486.4,249.9 1487.2,245.6 1488.6,240.6C1490.0,235.6 1491.6,230.3 1493.6,223.9C1495.5,217.5 1498.1,209.1 1500.3,202.1C1502.5,195.1 1505.0,188.5 1507.0,182.1C1509.0,175.7 1510.9,168.7 1512.0,163.7C1513.1,158.7 1513.3,157.3 1513.7,152.0C1514.1,146.7 1514.5,138.6 1514.5,131.9C1514.5,125.2 1514.2,119.6 1513.7,111.8C1513.2,104.0 1511.9,92.3 1511.2,85.1C1510.5,77.9 1509.8,71.9 1509.5,68.7C1509.2,65.5 1509.3,66.5 1509.3,66.0Z" fill="#f7ebe7"/>
<path d="M1436.0,174.5C1437.1,174.4 1438.2,175.5 1439.3,177.9C1440.4,180.3 1442.0,182.4 1442.6,188.7C1443.1,195.0 1442.5,206.8 1442.6,215.5C1442.7,224.2 1442.7,232.3 1443.1,240.6C1443.5,248.8 1444.7,258.1 1445.2,265.0C1445.7,271.9 1445.5,274.7 1446.0,281.7C1446.5,288.7 1447.8,299.4 1448.5,306.8C1449.2,314.2 1450.2,320.4 1450.2,326.0C1450.2,331.6 1449.3,333.8 1448.5,340.3C1447.7,346.9 1446.2,357.5 1445.2,365.3C1444.2,373.1 1443.6,382.6 1442.6,387.1C1441.6,391.6 1440.5,392.7 1439.3,392.4C1438.0,392.1 1435.9,389.9 1435.1,385.4C1434.3,380.9 1434.3,377.0 1434.3,365.3C1434.2,353.6 1434.8,331.9 1434.8,315.2C1434.8,298.5 1434.7,277.4 1434.3,265.0C1433.9,252.6 1433.1,248.8 1432.6,240.6C1432.1,232.3 1431.6,224.2 1431.4,215.5C1431.2,206.8 1431.2,194.8 1431.4,188.7C1431.6,182.6 1431.8,181.1 1432.6,178.7C1433.4,176.3 1434.9,174.6 1436.0,174.5Z" fill="#fcf3f0"/>
<path d="M1353.8,208.0C1356.7,208.2 1359.6,209.0 1361.4,210.5C1363.2,212.0 1363.9,213.6 1364.7,217.2C1365.5,220.8 1365.8,226.9 1366.4,232.2C1367.0,237.5 1367.5,243.4 1368.1,248.9C1368.6,254.4 1369.6,259.5 1369.7,265.0C1369.8,270.5 1369.3,274.7 1368.9,281.7C1368.5,288.7 1367.9,299.0 1367.2,306.8C1366.5,314.6 1365.5,322.4 1364.7,328.5C1363.9,334.6 1363.5,339.7 1362.2,343.6C1361.0,347.5 1359.3,349.4 1357.2,352.0C1355.1,354.6 1351.5,357.0 1349.7,359.5C1347.9,362.0 1347.8,364.1 1346.3,367.0C1344.8,369.9 1342.6,373.8 1340.5,377.0C1338.4,380.2 1336.0,384.0 1333.8,386.2C1331.6,388.4 1329.0,389.8 1327.1,390.1C1325.1,390.4 1323.2,389.2 1322.1,387.9C1321.0,386.6 1320.5,384.8 1320.7,382.1C1320.9,379.5 1322.7,375.6 1323.4,372.0C1324.1,368.4 1324.2,365.0 1325.1,360.3C1326.0,355.6 1327.6,349.5 1328.8,343.6C1330.0,337.8 1331.7,334.1 1332.1,325.2C1332.5,316.3 1331.7,300.1 1331.3,290.1C1330.9,280.1 1330.2,271.9 1329.6,265.0C1329.0,258.1 1328.3,253.8 1327.9,248.9C1327.5,244.0 1326.7,239.8 1327.1,235.6C1327.5,231.4 1328.9,227.4 1330.4,223.9C1331.9,220.4 1334.1,217.1 1336.3,214.7C1338.5,212.3 1340.9,210.7 1343.8,209.6C1346.7,208.5 1350.9,207.8 1353.8,208.0Z" fill="#f7ebe7"/>
<path d="M1565.7,66.0C1565.7,66.5 1565.5,64.7 1565.9,68.7C1566.3,72.7 1567.3,82.3 1568.1,90.1C1568.9,97.8 1569.8,106.0 1570.6,115.2C1571.4,124.4 1572.1,135.8 1573.1,145.3C1574.1,154.8 1575.0,163.9 1576.4,172.0C1577.8,180.1 1579.6,187.7 1581.4,193.8C1583.2,199.9 1585.1,204.6 1587.3,208.8C1589.5,213.0 1592.3,216.4 1594.8,218.8C1597.3,221.2 1600.1,222.2 1602.3,223.0C1604.5,223.8 1606.6,223.7 1608.2,223.9C1609.8,224.1 1611.4,224.0 1612.0,224.0L1612.0,60.0Z" fill="#f7ebe7"/>
<path d="M1612.0,399.4C1611.4,399.4 1610.1,399.4 1608.2,399.6C1606.3,399.8 1603.1,399.6 1600.7,400.8C1598.3,402.1 1596.2,404.1 1594.0,407.1C1591.8,410.1 1589.4,414.6 1587.3,418.8C1585.2,423.0 1582.9,427.4 1581.4,432.2C1579.9,436.9 1579.2,442.1 1578.1,447.3C1577.0,452.5 1575.3,460.1 1574.7,463.2C1574.1,466.3 1574.4,465.5 1574.3,466.0L1612.0,466.0Z" fill="#f7ebe7"/>
<path d="M1407.5,149.8C1409.0,150.1 1410.0,151.1 1411.7,152.8C1413.4,154.6 1415.9,156.8 1417.6,160.3C1419.3,163.8 1420.5,167.8 1421.7,173.7C1423.0,179.5 1424.1,187.9 1425.1,195.4C1426.1,202.9 1426.9,211.3 1427.6,218.8C1428.3,226.3 1428.8,232.9 1429.3,240.6C1429.8,248.3 1430.6,255.4 1430.9,265.0C1431.2,274.6 1431.2,287.2 1431.4,298.4C1431.6,309.5 1432.0,320.8 1432.1,331.9C1432.2,343.0 1432.2,355.3 1431.8,365.3C1431.4,375.3 1430.8,384.3 1429.8,392.1C1428.8,399.9 1427.4,405.8 1425.9,412.2C1424.4,418.6 1422.9,425.6 1420.9,430.6C1419.0,435.6 1416.6,439.5 1414.2,442.3C1411.8,445.1 1409.0,447.0 1406.7,447.3C1404.5,447.6 1402.5,445.6 1400.7,443.9C1398.9,442.2 1397.4,440.3 1395.7,437.2C1394.0,434.1 1392.3,429.7 1390.6,425.5C1388.9,421.3 1387.0,416.6 1385.6,412.2C1384.2,407.8 1383.3,403.8 1382.3,398.8C1381.3,393.8 1380.4,387.7 1379.8,382.1C1379.2,376.5 1378.6,372.3 1378.6,365.3C1378.6,358.3 1379.2,351.5 1379.8,340.3C1380.4,329.1 1381.6,310.9 1382.3,298.4C1383.0,285.8 1383.8,273.2 1383.9,265.0C1384.0,256.8 1383.3,254.4 1383.1,248.9C1382.9,243.4 1382.8,237.8 1382.6,232.2C1382.4,226.6 1382.0,221.1 1381.9,215.5C1381.8,209.9 1381.7,203.8 1381.9,198.8C1382.1,193.8 1382.2,189.3 1383.1,185.4C1384.0,181.5 1385.8,178.8 1387.3,175.4C1388.8,172.1 1390.5,168.7 1392.3,165.3C1394.1,162.0 1396.4,157.7 1398.2,155.3C1400.0,152.9 1401.5,151.9 1403.0,151.0C1404.5,150.1 1406.0,149.5 1407.5,149.8Z" fill="#f3d9d6"/>
<path d="M1478.6,106.0C1481.4,106.1 1484.6,107.5 1487.0,109.3C1489.4,111.1 1491.1,113.7 1492.8,116.8C1494.5,119.9 1496.3,123.0 1497.0,127.7C1497.7,132.5 1497.1,139.3 1497.0,145.3C1496.9,151.3 1496.9,157.6 1496.2,163.7C1495.5,169.8 1494.1,175.7 1492.8,182.1C1491.5,188.5 1490.1,195.7 1488.6,202.1C1487.1,208.5 1485.3,214.4 1483.6,220.5C1481.9,226.6 1480.3,233.6 1478.6,238.9C1476.9,244.2 1475.4,248.0 1473.6,252.3C1471.8,256.7 1469.2,259.8 1467.7,265.0C1466.2,270.2 1465.5,278.9 1464.4,283.4C1463.3,287.9 1462.2,292.1 1461.0,291.8C1459.8,291.5 1458.2,286.2 1456.9,281.7C1455.7,277.2 1454.6,270.5 1453.5,265.0C1452.4,259.5 1451.1,254.4 1450.2,248.9C1449.3,243.4 1448.5,239.2 1448.2,232.2C1447.9,225.2 1448.4,214.9 1448.5,207.1C1448.6,199.3 1449.0,192.8 1448.8,185.4C1448.6,178.0 1447.0,169.8 1447.2,162.8C1447.4,155.8 1449.2,149.4 1450.2,143.6C1451.2,137.8 1451.5,132.4 1453.5,127.7C1455.5,123.0 1459.1,118.4 1461.9,115.2C1464.7,112.0 1467.4,110.0 1470.2,108.5C1473.0,107.0 1475.8,105.9 1478.6,106.0Z" fill="#f3d9d6"/>
<path d="M1350.5,231.7C1352.2,231.7 1354.2,232.7 1355.5,234.7C1356.8,236.7 1357.2,240.7 1358.0,243.9C1358.8,247.1 1359.8,250.5 1360.5,254.0C1361.2,257.5 1362.3,260.4 1362.5,265.0C1362.7,269.6 1362.0,276.4 1361.4,281.7C1360.8,287.0 1359.9,292.3 1358.9,296.8C1357.9,301.3 1356.7,305.9 1355.5,308.5C1354.3,311.1 1352.9,312.6 1351.8,312.7C1350.7,312.8 1349.8,311.7 1348.8,309.3C1347.8,306.9 1346.5,303.0 1345.5,298.4C1344.5,293.8 1343.7,287.3 1343.0,281.7C1342.3,276.1 1341.5,269.6 1341.3,265.0C1341.1,260.4 1341.7,257.8 1342.1,254.0C1342.5,250.2 1342.9,245.5 1343.5,242.3C1344.1,239.1 1344.3,236.5 1345.5,234.7C1346.7,232.9 1348.8,231.7 1350.5,231.7Z" fill="#f3d9d6"/>
<path d="M1407.0,200.0C1408.1,200.5 1408.7,201.0 1410.0,203.0C1411.3,205.0 1413.6,208.2 1415.1,212.2C1416.6,216.2 1418.0,221.6 1419.2,227.2C1420.5,232.8 1421.6,239.3 1422.6,245.6C1423.6,251.9 1424.4,256.2 1425.1,265.0C1425.8,273.8 1426.2,287.2 1426.8,298.4C1427.3,309.5 1428.3,320.8 1428.4,331.9C1428.5,343.0 1428.3,355.3 1427.6,365.3C1426.9,375.3 1425.6,384.6 1424.2,392.1C1422.8,399.6 1421.0,405.5 1419.2,410.5C1417.4,415.5 1415.5,419.4 1413.4,422.2C1411.3,425.0 1408.6,426.5 1406.7,427.2C1404.8,427.9 1403.4,426.9 1402.0,426.2C1400.6,425.5 1399.8,425.1 1398.2,423.0C1396.6,420.9 1394.0,417.3 1392.3,413.8C1390.6,410.3 1389.3,406.8 1388.1,402.1C1386.8,397.4 1385.6,391.5 1384.8,385.4C1384.0,379.3 1383.2,372.8 1383.1,365.3C1382.9,357.8 1383.3,351.5 1383.9,340.3C1384.5,329.1 1385.8,310.9 1386.5,298.4C1387.2,285.8 1387.5,274.6 1388.1,265.0C1388.6,255.4 1389.2,247.4 1389.8,240.6C1390.4,233.8 1390.7,228.6 1391.5,223.9C1392.3,219.2 1393.5,215.5 1394.8,212.2C1396.0,208.8 1397.5,205.8 1399.0,203.8C1400.5,201.8 1402.2,200.8 1403.5,200.2C1404.8,199.6 1405.9,199.5 1407.0,200.0Z" fill="#e5aab9"/>
<path d="M1405.5,249.9C1406.7,250.2 1408.7,251.6 1410.0,253.1C1411.3,254.6 1412.4,257.0 1413.4,259.0C1414.4,261.0 1415.1,259.8 1415.9,265.0C1416.7,270.2 1417.6,280.4 1418.4,290.1C1419.2,299.9 1420.4,312.4 1420.9,323.5C1421.5,334.6 1422.0,347.8 1421.7,357.0C1421.4,366.2 1420.3,372.6 1419.2,378.7C1418.1,384.8 1416.8,390.0 1415.1,393.8C1413.4,397.6 1410.9,399.9 1409.2,401.3C1407.5,402.8 1406.7,403.2 1405.0,402.5C1403.3,401.8 1400.8,399.7 1399.0,397.1C1397.2,394.5 1395.4,391.0 1394.0,387.1C1392.6,383.2 1391.3,378.7 1390.6,373.7C1389.9,368.7 1389.6,365.4 1389.8,357.0C1390.0,348.6 1390.7,334.6 1391.5,323.5C1392.3,312.4 1393.8,299.9 1394.8,290.1C1395.8,280.4 1396.3,270.8 1397.3,265.0C1398.3,259.2 1399.8,257.9 1400.7,255.6C1401.7,253.3 1402.2,252.4 1403.0,251.5C1403.8,250.6 1404.3,249.6 1405.5,249.9Z" fill="#94237c"/>
<path d="M1285.8,66.0C1285.8,66.5 1285.5,66.4 1285.8,68.7C1286.1,71.0 1286.8,75.4 1287.8,80.1C1288.8,84.8 1290.5,92.1 1292.0,96.8C1293.5,101.5 1295.0,105.3 1297.0,108.5C1299.0,111.7 1300.6,114.0 1303.7,116.0C1306.8,118.0 1311.8,118.8 1315.4,120.2C1319.0,121.6 1323.0,123.0 1325.4,124.4C1327.9,125.8 1328.7,125.8 1330.1,128.5C1331.5,131.2 1332.6,135.8 1333.8,140.3C1335.0,144.8 1336.3,150.0 1337.1,155.3C1337.9,160.6 1338.1,166.6 1338.8,172.0C1339.5,177.4 1342.4,184.6 1341.3,187.9C1340.2,191.2 1335.2,190.6 1332.1,192.1C1329.0,193.6 1325.4,194.9 1322.9,197.1C1320.4,199.3 1318.6,201.9 1317.1,205.5C1315.6,209.1 1314.8,213.9 1313.7,218.8C1312.6,223.7 1310.1,229.7 1310.4,234.7C1310.7,239.7 1313.7,243.8 1315.4,248.9C1317.1,254.0 1319.4,258.1 1320.4,265.0C1321.4,271.9 1320.9,280.1 1321.2,290.1C1321.5,300.1 1322.8,316.3 1322.1,325.2C1321.4,334.1 1318.9,337.5 1317.1,343.6C1315.3,349.7 1312.9,355.6 1311.2,362.0C1309.5,368.4 1307.8,376.0 1307.0,382.1C1306.2,388.2 1305.9,393.8 1306.2,398.8C1306.5,403.8 1307.5,408.4 1308.7,412.2C1310.0,416.0 1311.2,419.6 1313.7,421.4C1316.2,423.2 1320.9,422.2 1323.7,423.0C1326.5,423.8 1328.8,424.9 1330.4,426.4C1332.0,427.9 1332.7,428.4 1333.4,432.2C1334.1,435.9 1334.2,443.7 1334.6,448.9C1334.9,454.1 1335.3,460.3 1335.5,463.2C1335.7,466.1 1335.6,465.5 1335.6,466.0" fill="none" stroke="#000" stroke-width="2.0" stroke-linejoin="round" stroke-linecap="butt"/>
<path d="M1527.2,66.0C1527.2,66.5 1527.3,64.7 1527.1,68.7C1526.9,72.7 1526.4,82.3 1525.8,90.1C1525.2,97.8 1524.1,106.8 1523.7,115.2C1523.3,123.6 1523.2,132.4 1523.4,140.3C1523.6,148.2 1525.1,156.4 1524.6,162.8C1524.1,169.2 1521.9,173.5 1520.4,178.7C1518.9,183.9 1517.1,189.1 1515.4,193.8C1513.7,198.5 1511.8,202.7 1510.4,207.1C1509.0,211.5 1508.4,216.0 1507.0,220.5C1505.6,225.0 1503.2,229.2 1502.0,233.9C1500.8,238.6 1501.0,243.7 1499.5,248.9C1498.0,254.1 1493.9,258.1 1493.2,265.0C1492.5,271.9 1493.8,280.4 1495.3,290.1C1496.8,299.9 1499.8,313.2 1502.0,323.5C1504.2,333.8 1506.8,343.6 1508.7,352.0C1510.7,360.4 1512.6,367.6 1513.7,373.7C1514.8,379.8 1515.2,383.7 1515.4,388.7C1515.6,393.7 1515.8,398.8 1515.1,403.8C1514.4,408.8 1513.4,413.8 1511.2,418.8C1509.0,423.8 1505.5,429.4 1502.0,433.9C1498.5,438.4 1493.6,442.0 1490.3,445.6C1487.0,449.2 1484.1,452.8 1481.9,455.7C1479.7,458.6 1478.1,461.5 1476.9,463.2C1475.8,464.9 1475.3,465.5 1475.0,466.0" fill="none" stroke="#000" stroke-width="2.0" stroke-linejoin="round" stroke-linecap="butt"/>
<path d="M1347.5,66.0C1347.6,66.5 1347.5,66.4 1348.0,68.7C1348.5,71.0 1349.5,76.8 1350.5,80.1C1351.5,83.4 1352.8,86.7 1353.8,88.4C1354.8,90.1 1355.4,90.7 1356.4,90.4C1357.4,90.1 1358.6,89.0 1359.7,86.7C1360.8,84.4 1362.2,79.7 1363.0,76.7C1363.8,73.7 1364.3,70.5 1364.7,68.7C1365.1,66.9 1365.1,66.5 1365.2,66.0" fill="none" stroke="#000" stroke-width="2.0" stroke-linejoin="round" stroke-linecap="butt"/>
<path d="M1443.0,66.0C1443.4,66.5 1444.3,67.5 1445.2,68.7C1446.1,69.9 1447.2,72.4 1448.5,73.4C1449.8,74.5 1451.2,75.2 1452.7,75.0C1454.2,74.8 1456.3,73.5 1457.7,72.5C1459.1,71.5 1460.1,69.8 1461.0,68.7C1461.9,67.6 1462.7,66.5 1463.0,66.0" fill="none" stroke="#000" stroke-width="2.0" stroke-linejoin="round" stroke-linecap="butt"/>
<path d="M1359.5,466.0C1359.8,465.5 1360.1,465.2 1361.4,463.2C1362.7,461.2 1365.4,456.8 1367.2,454.0C1369.0,451.2 1370.7,448.2 1372.2,446.4C1373.7,444.6 1375.1,443.1 1376.4,443.1C1377.7,443.1 1378.4,444.6 1379.8,446.4C1381.2,448.2 1382.7,451.6 1384.8,454.0C1386.9,456.4 1390.2,459.2 1392.3,460.7C1394.4,462.2 1395.7,462.4 1397.3,463.2C1398.9,464.0 1401.2,465.1 1402.0,465.5" fill="none" stroke="#000" stroke-width="2.0" stroke-linejoin="round" stroke-linecap="butt"/>
<path d="M1417.5,466.0C1417.9,465.5 1418.5,464.9 1420.1,463.2C1421.6,461.5 1424.6,458.6 1426.8,455.7C1429.0,452.8 1431.5,447.8 1433.4,445.6C1435.4,443.4 1436.8,442.5 1438.5,442.6C1440.2,442.7 1442.0,444.5 1443.5,446.4C1445.0,448.3 1446.5,451.2 1447.7,454.0C1449.0,456.8 1450.3,461.2 1451.0,463.2C1451.7,465.2 1451.8,465.5 1452.0,466.0" fill="none" stroke="#000" stroke-width="2.0" stroke-linejoin="round" stroke-linecap="butt"/>
<path d="M1551.1,66.0C1551.1,66.5 1551.0,64.7 1551.3,68.7C1551.6,72.7 1552.3,82.9 1553.0,90.1C1553.7,97.3 1554.8,105.4 1555.5,111.8C1556.2,118.2 1557.2,121.8 1557.2,128.5C1557.2,135.2 1556.2,144.5 1555.5,152.0C1554.8,159.5 1553.6,167.3 1553.0,173.7C1552.4,180.1 1551.9,184.8 1551.7,190.4C1551.5,196.0 1550.8,201.8 1551.7,207.1C1552.6,212.4 1554.9,217.2 1557.2,222.2C1559.5,227.2 1562.8,232.5 1565.6,237.2C1568.4,241.9 1570.6,246.8 1573.9,250.6C1577.2,254.4 1581.7,257.7 1585.6,259.8C1589.5,261.9 1593.5,262.4 1597.3,263.2C1601.1,263.9 1605.8,264.1 1608.2,264.3C1610.7,264.5 1611.4,264.5 1612.0,264.5" fill="none" stroke="#000" stroke-width="2.0" stroke-linejoin="round" stroke-linecap="butt"/>
<path d="M1612.0,342.9C1611.4,342.9 1610.9,342.9 1608.2,342.8C1605.5,342.7 1598.9,341.9 1595.7,342.3C1592.5,342.7 1591.2,343.7 1589.0,345.3C1586.8,346.9 1584.5,348.9 1582.3,352.0C1580.1,355.1 1577.8,359.5 1575.6,363.7C1573.4,367.9 1570.9,372.3 1568.9,377.0C1567.0,381.7 1565.4,386.2 1563.9,392.1C1562.4,398.0 1561.0,405.5 1559.7,412.2C1558.5,418.9 1557.4,426.1 1556.4,432.2C1555.4,438.3 1554.6,443.7 1553.8,448.9C1553.0,454.1 1552.2,460.3 1551.8,463.2C1551.4,466.1 1551.5,465.5 1551.4,466.0" fill="none" stroke="#000" stroke-width="2.0" stroke-linejoin="round" stroke-linecap="butt"/>
<path d="M1200.0,425.0C1200.6,425.0 1202.0,425.0 1203.7,425.2C1205.4,425.4 1207.8,425.6 1210.0,426.4C1212.2,427.1 1215.0,428.6 1216.7,429.7C1218.4,430.8 1219.1,430.5 1220.1,433.1C1221.1,435.8 1221.5,440.6 1222.6,445.6C1223.6,450.6 1225.7,459.8 1226.4,463.2C1227.1,466.6 1226.9,465.5 1227.0,466.0" fill="none" stroke="#000" stroke-width="2.0" stroke-linejoin="round" stroke-linecap="butt"/>
<path d="M1475.5,66.0C1475.2,66.5 1474.8,66.9 1473.6,68.7C1472.4,70.5 1470.8,73.4 1468.6,76.7C1466.4,80.0 1463.3,84.8 1460.2,88.4C1457.1,92.0 1453.4,95.6 1450.2,98.4C1447.0,101.2 1443.4,104.0 1441.0,105.1C1438.6,106.2 1437.8,105.8 1436.0,104.8C1434.2,103.8 1431.8,100.8 1430.1,99.3C1428.4,97.8 1427.3,96.4 1425.9,95.9C1424.5,95.4 1423.5,95.7 1421.7,96.4C1419.9,97.1 1417.6,98.8 1415.1,100.1C1412.6,101.4 1409.2,103.7 1406.7,104.3C1404.2,104.9 1402.1,104.8 1400.0,103.8C1397.9,102.8 1396.1,100.6 1394.0,98.4C1391.9,96.2 1389.1,92.5 1387.3,90.9C1385.5,89.3 1384.3,88.6 1383.1,88.7C1381.8,88.8 1380.8,89.3 1379.8,91.8C1378.8,94.3 1378.1,99.0 1377.3,103.5C1376.5,108.0 1375.5,114.3 1374.7,118.5C1373.9,122.7 1373.5,126.0 1372.2,128.5C1371.0,131.0 1369.4,132.3 1367.2,133.6C1365.0,134.9 1361.1,134.7 1358.9,136.1C1356.7,137.5 1355.2,139.2 1353.8,141.9C1352.4,144.6 1351.3,148.7 1350.5,152.0C1349.7,155.3 1349.1,158.7 1349.2,162.0C1349.3,165.3 1350.4,168.9 1351.3,172.0C1352.2,175.1 1353.6,177.6 1354.7,180.4C1355.8,183.2 1357.2,186.2 1358.0,188.7C1358.8,191.2 1358.9,193.4 1359.7,195.4C1360.5,197.4 1361.5,199.1 1363.0,200.5C1364.5,201.9 1367.4,201.9 1368.9,203.8C1370.4,205.8 1371.1,208.6 1372.2,212.2C1373.3,215.8 1374.6,220.8 1375.6,225.5C1376.6,230.2 1377.4,234.0 1378.1,240.6C1378.8,247.2 1379.8,256.8 1379.8,265.0C1379.8,273.2 1378.8,279.0 1378.1,290.1C1377.4,301.2 1376.3,320.8 1375.6,331.9C1374.9,343.0 1374.5,348.6 1373.9,357.0C1373.3,365.4 1372.8,376.1 1372.2,382.1C1371.7,388.1 1372.3,390.5 1370.6,392.9C1368.9,395.3 1364.7,394.8 1362.2,396.3C1359.7,397.8 1357.0,399.5 1355.5,402.1C1354.0,404.8 1353.8,408.6 1353.0,412.2C1352.2,415.8 1351.2,420.6 1350.5,423.9C1349.8,427.2 1348.5,429.4 1348.5,432.2C1348.5,435.0 1349.5,438.4 1350.5,440.6C1351.5,442.8 1353.2,445.3 1354.7,445.6C1356.2,445.9 1358.0,444.1 1359.7,442.2C1361.4,440.2 1363.2,436.9 1364.7,433.9C1366.2,430.8 1367.7,426.7 1368.9,423.9C1370.2,421.1 1371.1,418.6 1372.2,417.2C1373.3,415.8 1374.3,415.1 1375.3,415.5C1376.3,415.9 1376.8,417.3 1378.1,419.7C1379.4,422.1 1381.3,426.2 1383.1,429.7C1384.9,433.2 1386.9,437.1 1389.0,440.6C1391.1,444.1 1393.5,448.0 1395.7,450.6C1397.9,453.2 1400.2,455.2 1402.3,456.5C1404.3,457.8 1406.2,458.4 1408.0,458.5C1409.8,458.6 1411.1,458.9 1413.4,457.3C1415.7,455.7 1419.3,452.5 1421.7,448.9C1424.1,445.3 1425.6,439.8 1427.6,435.6C1429.5,431.4 1431.5,427.0 1433.4,423.9C1435.4,420.8 1436.8,417.4 1439.3,416.8C1441.8,416.2 1445.6,419.1 1448.5,420.5C1451.4,421.9 1454.5,423.6 1456.9,425.5C1459.3,427.4 1461.3,430.0 1462.7,432.2C1464.1,434.4 1463.1,438.6 1465.2,438.9C1467.3,439.2 1473.1,435.8 1475.3,433.9C1477.5,431.9 1477.2,429.6 1478.6,427.2C1480.0,424.8 1481.1,422.2 1483.6,419.7C1486.1,417.2 1490.9,414.8 1493.6,412.2C1496.2,409.6 1498.2,408.3 1499.5,403.8C1500.8,399.3 1501.6,390.4 1501.7,385.4C1501.8,380.4 1501.4,379.3 1500.3,373.7C1499.2,368.1 1497.2,360.4 1495.3,352.0C1493.3,343.6 1490.5,333.8 1488.6,323.5C1486.6,313.2 1484.7,299.9 1483.6,290.1C1482.5,280.4 1481.6,271.0 1481.9,265.0C1482.2,259.0 1484.2,258.1 1485.3,254.0C1486.4,249.9 1487.2,245.6 1488.6,240.6C1490.0,235.6 1491.6,230.3 1493.6,223.9C1495.5,217.5 1498.1,209.1 1500.3,202.1C1502.5,195.1 1505.0,188.5 1507.0,182.1C1509.0,175.7 1510.9,168.7 1512.0,163.7C1513.1,158.7 1513.3,157.3 1513.7,152.0C1514.1,146.7 1514.5,138.6 1514.5,131.9C1514.5,125.2 1514.2,119.6 1513.7,111.8C1513.2,104.0 1511.9,92.3 1511.2,85.1C1510.5,77.9 1509.8,71.9 1509.5,68.7C1509.2,65.5 1509.3,66.5 1509.3,66.0" fill="none" stroke="#000" stroke-width="2.0" stroke-linejoin="round" stroke-linecap="butt"/>
<path d="M1436.0,174.5C1437.1,174.4 1438.2,175.5 1439.3,177.9C1440.4,180.3 1442.0,182.4 1442.6,188.7C1443.1,195.0 1442.5,206.8 1442.6,215.5C1442.7,224.2 1442.7,232.3 1443.1,240.6C1443.5,248.8 1444.7,258.1 1445.2,265.0C1445.7,271.9 1445.5,274.7 1446.0,281.7C1446.5,288.7 1447.8,299.4 1448.5,306.8C1449.2,314.2 1450.2,320.4 1450.2,326.0C1450.2,331.6 1449.3,333.8 1448.5,340.3C1447.7,346.9 1446.2,357.5 1445.2,365.3C1444.2,373.1 1443.6,382.6 1442.6,387.1C1441.6,391.6 1440.5,392.7 1439.3,392.4C1438.0,392.1 1435.9,389.9 1435.1,385.4C1434.3,380.9 1434.3,377.0 1434.3,365.3C1434.2,353.6 1434.8,331.9 1434.8,315.2C1434.8,298.5 1434.7,277.4 1434.3,265.0C1433.9,252.6 1433.1,248.8 1432.6,240.6C1432.1,232.3 1431.6,224.2 1431.4,215.5C1431.2,206.8 1431.2,194.8 1431.4,188.7C1431.6,182.6 1431.8,181.1 1432.6,178.7C1433.4,176.3 1434.9,174.6 1436.0,174.5Z" fill="none" stroke="#000" stroke-width="2.0" stroke-linejoin="round" stroke-linecap="butt"/>
<path d="M1353.8,208.0C1356.7,208.2 1359.6,209.0 1361.4,210.5C1363.2,212.0 1363.9,213.6 1364.7,217.2C1365.5,220.8 1365.8,226.9 1366.4,232.2C1367.0,237.5 1367.5,243.4 1368.1,248.9C1368.6,254.4 1369.6,259.5 1369.7,265.0C1369.8,270.5 1369.3,274.7 1368.9,281.7C1368.5,288.7 1367.9,299.0 1367.2,306.8C1366.5,314.6 1365.5,322.4 1364.7,328.5C1363.9,334.6 1363.5,339.7 1362.2,343.6C1361.0,347.5 1359.3,349.4 1357.2,352.0C1355.1,354.6 1351.5,357.0 1349.7,359.5C1347.9,362.0 1347.8,364.1 1346.3,367.0C1344.8,369.9 1342.6,373.8 1340.5,377.0C1338.4,380.2 1336.0,384.0 1333.8,386.2C1331.6,388.4 1329.0,389.8 1327.1,390.1C1325.1,390.4 1323.2,389.2 1322.1,387.9C1321.0,386.6 1320.5,384.8 1320.7,382.1C1320.9,379.5 1322.7,375.6 1323.4,372.0C1324.1,368.4 1324.2,365.0 1325.1,360.3C1326.0,355.6 1327.6,349.5 1328.8,343.6C1330.0,337.8 1331.7,334.1 1332.1,325.2C1332.5,316.3 1331.7,300.1 1331.3,290.1C1330.9,280.1 1330.2,271.9 1329.6,265.0C1329.0,258.1 1328.3,253.8 1327.9,248.9C1327.5,244.0 1326.7,239.8 1327.1,235.6C1327.5,231.4 1328.9,227.4 1330.4,223.9C1331.9,220.4 1334.1,217.1 1336.3,214.7C1338.5,212.3 1340.9,210.7 1343.8,209.6C1346.7,208.5 1350.9,207.8 1353.8,208.0Z" fill="none" stroke="#000" stroke-width="2.0" stroke-linejoin="round" stroke-linecap="butt"/>
<path d="M1565.7,66.0C1565.7,66.5 1565.5,64.7 1565.9,68.7C1566.3,72.7 1567.3,82.3 1568.1,90.1C1568.9,97.8 1569.8,106.0 1570.6,115.2C1571.4,124.4 1572.1,135.8 1573.1,145.3C1574.1,154.8 1575.0,163.9 1576.4,172.0C1577.8,180.1 1579.6,187.7 1581.4,193.8C1583.2,199.9 1585.1,204.6 1587.3,208.8C1589.5,213.0 1592.3,216.4 1594.8,218.8C1597.3,221.2 1600.1,222.2 1602.3,223.0C1604.5,223.8 1606.6,223.7 1608.2,223.9C1609.8,224.1 1611.4,224.0 1612.0,224.0" fill="none" stroke="#000" stroke-width="2.0" stroke-linejoin="round" stroke-linecap="butt"/>
<path d="M1612.0,399.4C1611.4,399.4 1610.1,399.4 1608.2,399.6C1606.3,399.8 1603.1,399.6 1600.7,400.8C1598.3,402.1 1596.2,404.1 1594.0,407.1C1591.8,410.1 1589.4,414.6 1587.3,418.8C1585.2,423.0 1582.9,427.4 1581.4,432.2C1579.9,436.9 1579.2,442.1 1578.1,447.3C1577.0,452.5 1575.3,460.1 1574.7,463.2C1574.1,466.3 1574.4,465.5 1574.3,466.0" fill="none" stroke="#000" stroke-width="2.0" stroke-linejoin="round" stroke-linecap="butt"/>
<path d="M1407.5,149.8C1409.0,150.1 1410.0,151.1 1411.7,152.8C1413.4,154.6 1415.9,156.8 1417.6,160.3C1419.3,163.8 1420.5,167.8 1421.7,173.7C1423.0,179.5 1424.1,187.9 1425.1,195.4C1426.1,202.9 1426.9,211.3 1427.6,218.8C1428.3,226.3 1428.8,232.9 1429.3,240.6C1429.8,248.3 1430.6,255.4 1430.9,265.0C1431.2,274.6 1431.2,287.2 1431.4,298.4C1431.6,309.5 1432.0,320.8 1432.1,331.9C1432.2,343.0 1432.2,355.3 1431.8,365.3C1431.4,375.3 1430.8,384.3 1429.8,392.1C1428.8,399.9 1427.4,405.8 1425.9,412.2C1424.4,418.6 1422.9,425.6 1420.9,430.6C1419.0,435.6 1416.6,439.5 1414.2,442.3C1411.8,445.1 1409.0,447.0 1406.7,447.3C1404.5,447.6 1402.5,445.6 1400.7,443.9C1398.9,442.2 1397.4,440.3 1395.7,437.2C1394.0,434.1 1392.3,429.7 1390.6,425.5C1388.9,421.3 1387.0,416.6 1385.6,412.2C1384.2,407.8 1383.3,403.8 1382.3,398.8C1381.3,393.8 1380.4,387.7 1379.8,382.1C1379.2,376.5 1378.6,372.3 1378.6,365.3C1378.6,358.3 1379.2,351.5 1379.8,340.3C1380.4,329.1 1381.6,310.9 1382.3,298.4C1383.0,285.8 1383.8,273.2 1383.9,265.0C1384.0,256.8 1383.3,254.4 1383.1,248.9C1382.9,243.4 1382.8,237.8 1382.6,232.2C1382.4,226.6 1382.0,221.1 1381.9,215.5C1381.8,209.9 1381.7,203.8 1381.9,198.8C1382.1,193.8 1382.2,189.3 1383.1,185.4C1384.0,181.5 1385.8,178.8 1387.3,175.4C1388.8,172.1 1390.5,168.7 1392.3,165.3C1394.1,162.0 1396.4,157.7 1398.2,155.3C1400.0,152.9 1401.5,151.9 1403.0,151.0C1404.5,150.1 1406.0,149.5 1407.5,149.8Z" fill="none" stroke="#000" stroke-width="2.0" stroke-linejoin="round" stroke-linecap="butt"/>
<path d="M1478.6,106.0C1481.4,106.1 1484.6,107.5 1487.0,109.3C1489.4,111.1 1491.1,113.7 1492.8,116.8C1494.5,119.9 1496.3,123.0 1497.0,127.7C1497.7,132.5 1497.1,139.3 1497.0,145.3C1496.9,151.3 1496.9,157.6 1496.2,163.7C1495.5,169.8 1494.1,175.7 1492.8,182.1C1491.5,188.5 1490.1,195.7 1488.6,202.1C1487.1,208.5 1485.3,214.4 1483.6,220.5C1481.9,226.6 1480.3,233.6 1478.6,238.9C1476.9,244.2 1475.4,248.0 1473.6,252.3C1471.8,256.7 1469.2,259.8 1467.7,265.0C1466.2,270.2 1465.5,278.9 1464.4,283.4C1463.3,287.9 1462.2,292.1 1461.0,291.8C1459.8,291.5 1458.2,286.2 1456.9,281.7C1455.7,277.2 1454.6,270.5 1453.5,265.0C1452.4,259.5 1451.1,254.4 1450.2,248.9C1449.3,243.4 1448.5,239.2 1448.2,232.2C1447.9,225.2 1448.4,214.9 1448.5,207.1C1448.6,199.3 1449.0,192.8 1448.8,185.4C1448.6,178.0 1447.0,169.8 1447.2,162.8C1447.4,155.8 1449.2,149.4 1450.2,143.6C1451.2,137.8 1451.5,132.4 1453.5,127.7C1455.5,123.0 1459.1,118.4 1461.9,115.2C1464.7,112.0 1467.4,110.0 1470.2,108.5C1473.0,107.0 1475.8,105.9 1478.6,106.0Z" fill="none" stroke="#000" stroke-width="2.0" stroke-linejoin="round" stroke-linecap="butt"/>
<path d="M1350.5,231.7C1352.2,231.7 1354.2,232.7 1355.5,234.7C1356.8,236.7 1357.2,240.7 1358.0,243.9C1358.8,247.1 1359.8,250.5 1360.5,254.0C1361.2,257.5 1362.3,260.4 1362.5,265.0C1362.7,269.6 1362.0,276.4 1361.4,281.7C1360.8,287.0 1359.9,292.3 1358.9,296.8C1357.9,301.3 1356.7,305.9 1355.5,308.5C1354.3,311.1 1352.9,312.6 1351.8,312.7C1350.7,312.8 1349.8,311.7 1348.8,309.3C1347.8,306.9 1346.5,303.0 1345.5,298.4C1344.5,293.8 1343.7,287.3 1343.0,281.7C1342.3,276.1 1341.5,269.6 1341.3,265.0C1341.1,260.4 1341.7,257.8 1342.1,254.0C1342.5,250.2 1342.9,245.5 1343.5,242.3C1344.1,239.1 1344.3,236.5 1345.5,234.7C1346.7,232.9 1348.8,231.7 1350.5,231.7Z" fill="none" stroke="#000" stroke-width="2.0" stroke-linejoin="round" stroke-linecap="butt"/>
<path d="M1407.0,200.0C1408.1,200.5 1408.7,201.0 1410.0,203.0C1411.3,205.0 1413.6,208.2 1415.1,212.2C1416.6,216.2 1418.0,221.6 1419.2,227.2C1420.5,232.8 1421.6,239.3 1422.6,245.6C1423.6,251.9 1424.4,256.2 1425.1,265.0C1425.8,273.8 1426.2,287.2 1426.8,298.4C1427.3,309.5 1428.3,320.8 1428.4,331.9C1428.5,343.0 1428.3,355.3 1427.6,365.3C1426.9,375.3 1425.6,384.6 1424.2,392.1C1422.8,399.6 1421.0,405.5 1419.2,410.5C1417.4,415.5 1415.5,419.4 1413.4,422.2C1411.3,425.0 1408.6,426.5 1406.7,427.2C1404.8,427.9 1403.4,426.9 1402.0,426.2C1400.6,425.5 1399.8,425.1 1398.2,423.0C1396.6,420.9 1394.0,417.3 1392.3,413.8C1390.6,410.3 1389.3,406.8 1388.1,402.1C1386.8,397.4 1385.6,391.5 1384.8,385.4C1384.0,379.3 1383.2,372.8 1383.1,365.3C1382.9,357.8 1383.3,351.5 1383.9,340.3C1384.5,329.1 1385.8,310.9 1386.5,298.4C1387.2,285.8 1387.5,274.6 1388.1,265.0C1388.6,255.4 1389.2,247.4 1389.8,240.6C1390.4,233.8 1390.7,228.6 1391.5,223.9C1392.3,219.2 1393.5,215.5 1394.8,212.2C1396.0,208.8 1397.5,205.8 1399.0,203.8C1400.5,201.8 1402.2,200.8 1403.5,200.2C1404.8,199.6 1405.9,199.5 1407.0,200.0Z" fill="none" stroke="#000" stroke-width="2.0" stroke-linejoin="round" stroke-linecap="butt"/>
<path d="M1405.5,249.9C1406.7,250.2 1408.7,251.6 1410.0,253.1C1411.3,254.6 1412.4,257.0 1413.4,259.0C1414.4,261.0 1415.1,259.8 1415.9,265.0C1416.7,270.2 1417.6,280.4 1418.4,290.1C1419.2,299.9 1420.4,312.4 1420.9,323.5C1421.5,334.6 1422.0,347.8 1421.7,357.0C1421.4,366.2 1420.3,372.6 1419.2,378.7C1418.1,384.8 1416.8,390.0 1415.1,393.8C1413.4,397.6 1410.9,399.9 1409.2,401.3C1407.5,402.8 1406.7,403.2 1405.0,402.5C1403.3,401.8 1400.8,399.7 1399.0,397.1C1397.2,394.5 1395.4,391.0 1394.0,387.1C1392.6,383.2 1391.3,378.7 1390.6,373.7C1389.9,368.7 1389.6,365.4 1389.8,357.0C1390.0,348.6 1390.7,334.6 1391.5,323.5C1392.3,312.4 1393.8,299.9 1394.8,290.1C1395.8,280.4 1396.3,270.8 1397.3,265.0C1398.3,259.2 1399.8,257.9 1400.7,255.6C1401.7,253.3 1402.2,252.4 1403.0,251.5C1403.8,250.6 1404.3,249.6 1405.5,249.9Z" fill="none" stroke="#000" stroke-width="2.0" stroke-linejoin="round" stroke-linecap="butt"/>
<ellipse cx="1374" cy="274.5" rx="1.4" ry="13.2" fill="none" stroke="#000" stroke-width="1.7"/>
<ellipse cx="1441.5" cy="325.7" rx="1.4" ry="6.0" fill="none" stroke="#000" stroke-width="1.7"/>
</g>
<rect x="1203.30" y="68.55" width="405.20" height="394.35" fill="none" stroke="#000" stroke-width="1.1"/>
<text transform="translate(1195.60,79.25) scale(1,1.03)" font-size="23.6" text-anchor="end" >1.0</text>
<text transform="translate(1195.60,276.42) scale(1,1.03)" font-size="23.6" text-anchor="end" >10.0</text>
<text transform="translate(1195.60,473.60) scale(1,1.03)" font-size="23.6" text-anchor="end" >100.0</text>
<path d="M1203.30,68.55h-4.6M1203.30,265.72h-4.6M1203.30,462.90h-4.6" stroke="#000" stroke-width="1.1" fill="none"/>
<text transform="translate(1194.90,138.61) scale(1,1.03)" font-size="23.6" text-anchor="end" >2.0</text>
<text transform="translate(1194.90,173.33) scale(1,1.03)" font-size="23.6" text-anchor="end" >3.0</text>
<text transform="translate(1194.90,217.07) scale(1,1.03)" font-size="23.6" text-anchor="end" >5.0</text>
<text transform="translate(1194.90,245.88) scale(1,1.03)" font-size="23.6" text-anchor="end" >7.0</text>
<text transform="translate(1194.90,335.78) scale(1,1.03)" font-size="23.6" text-anchor="end" >20.0</text>
<text transform="translate(1194.90,370.50) scale(1,1.03)" font-size="23.6" text-anchor="end" >30.0</text>
<text transform="translate(1194.90,414.24) scale(1,1.03)" font-size="23.6" text-anchor="end" >50.0</text>
<text transform="translate(1194.90,443.06) scale(1,1.03)" font-size="23.6" text-anchor="end" >70.0</text>
<path d="M1203.30,127.91h-2.8M1203.30,162.63h-2.8M1203.30,206.37h-2.8M1203.30,235.18h-2.8M1203.30,325.08h-2.8M1203.30,359.80h-2.8M1203.30,403.54h-2.8M1203.30,432.36h-2.8M1203.30,187.26h-2.8M1203.30,221.98h-2.8M1203.30,246.62h-2.8M1203.30,256.70h-2.8M1203.30,384.44h-2.8M1203.30,419.16h-2.8M1203.30,443.79h-2.8M1203.30,453.88h-2.8" stroke="#000" stroke-width="0.9" fill="none"/>
<text transform="translate(1225.81,492.50) scale(1,1.03)" font-size="23.6" text-anchor="middle" >80S</text>
<text transform="translate(1270.83,492.50) scale(1,1.03)" font-size="23.6" text-anchor="middle" >60S</text>
<text transform="translate(1315.86,492.50) scale(1,1.03)" font-size="23.6" text-anchor="middle" >40S</text>
<text transform="translate(1360.88,492.50) scale(1,1.03)" font-size="23.6" text-anchor="middle" >20S</text>
<text transform="translate(1405.90,492.50) scale(1,1.03)" font-size="23.6" text-anchor="middle" >0</text>
<text transform="translate(1450.92,492.50) scale(1,1.03)" font-size="23.6" text-anchor="middle" >20N</text>
<text transform="translate(1495.94,492.50) scale(1,1.03)" font-size="23.6" text-anchor="middle" >40N</text>
<text transform="translate(1540.97,492.50) scale(1,1.03)" font-size="23.6" text-anchor="middle" >60N</text>
<text transform="translate(1585.99,492.50) scale(1,1.03)" font-size="23.6" text-anchor="middle" >80N</text>
<path d="M1225.81,462.90v4.6M1270.83,462.90v4.6M1315.86,462.90v4.6M1360.88,462.90v4.6M1405.90,462.90v4.6M1450.92,462.90v4.6M1495.94,462.90v4.6M1540.97,462.90v4.6M1585.99,462.90v4.6" stroke="#000" stroke-width="1.1" fill="none"/>
<text transform="translate(1405.90,524.80) scale(1,1.03)" font-size="23.6" text-anchor="middle" letter-spacing="0.15">Latitude (deg)</text>
<text transform="translate(1203.30,57.80) scale(1,1.03)" font-size="27.8" text-anchor="start" >(c) T in MERRA2</text>
<text transform="translate(1139.70,265.72) rotate(-90) scale(1,1.06)" font-size="23.6" text-anchor="middle" letter-spacing="0.1">Pressure (hPa)</text>
<clipPath id="clipd"><rect x="1735.6" y="68.55" width="405.2000000000003" height="394.34999999999997"/></clipPath>
<g clip-path="url(#clipd)">
<rect x="1735.6" y="68.55" width="405.2000000000003" height="394.34999999999997" fill="#fcf3f0"/>
<path d="M1731.0,220.0C1731.4,219.3 1735.0,212.0 1735.7,210.5C1736.4,209.0 1739.5,202.2 1740.4,200.5C1741.3,198.8 1746.7,190.7 1747.9,187.9C1749.1,185.1 1754.9,165.4 1756.2,162.8C1757.5,160.2 1763.8,155.4 1765.4,153.6C1767.0,151.8 1775.9,140.5 1777.2,138.6C1778.5,136.7 1782.1,129.6 1783.0,128.5C1783.9,127.4 1788.6,124.6 1789.7,123.5C1790.8,122.4 1796.9,115.4 1798.1,114.3C1799.3,113.2 1804.5,109.2 1805.6,108.5C1806.7,107.8 1812.1,105.8 1813.1,105.6C1814.1,105.4 1818.1,105.3 1819.0,105.6C1819.9,105.9 1824.5,108.5 1825.6,109.3C1826.7,110.1 1832.9,115.7 1834.0,116.8C1835.1,117.9 1839.9,123.5 1840.7,124.4C1841.5,125.3 1844.0,128.3 1844.4,129.4C1844.8,130.5 1846.1,137.0 1846.5,138.6C1846.9,140.2 1848.4,148.4 1849.1,150.3C1849.8,152.2 1855.0,161.6 1855.7,163.7C1856.4,165.8 1857.9,176.2 1858.3,178.7C1858.7,181.2 1860.5,194.3 1860.8,197.1C1861.1,199.9 1862.2,212.2 1862.4,215.5C1862.6,218.8 1863.1,236.9 1863.3,240.6C1863.5,244.3 1864.7,260.7 1864.9,265.0C1865.1,269.3 1865.4,293.4 1865.4,298.4C1865.4,303.4 1865.1,327.8 1864.9,331.9C1864.7,336.0 1862.9,351.1 1862.4,353.6C1861.9,356.1 1859.3,363.7 1858.3,365.3C1857.3,366.9 1850.2,374.1 1849.1,375.4C1848.0,376.7 1844.0,380.8 1843.2,382.1C1842.4,383.4 1839.7,390.0 1839.0,392.1C1838.3,394.2 1834.8,408.0 1834.0,410.5C1833.2,413.0 1829.7,423.4 1829.0,425.5C1828.3,427.6 1824.9,436.3 1824.5,438.1C1824.1,439.9 1823.9,447.0 1824.0,448.9C1824.1,450.8 1825.4,461.9 1825.6,463.2C1825.8,464.5 1826.0,465.8 1826.0,466.0L1731.0,466.0Z" fill="#fdf7f4"/>
<path d="M1731.0,88.5C1731.4,88.3 1734.6,86.5 1735.7,85.9C1736.8,85.3 1743.8,81.2 1745.4,80.1C1747.0,79.0 1755.7,72.2 1757.1,71.4C1758.5,70.6 1763.6,70.1 1764.6,69.7C1765.6,69.3 1769.6,66.3 1770.0,66.0L1731.0,60.0Z" fill="#f7ebe7"/>
<path d="M2055.9,466.0C2055.9,465.8 2055.8,465.1 2055.7,463.2C2055.6,461.3 2055.1,444.2 2054.9,440.6C2054.7,437.0 2052.8,419.9 2052.4,415.5C2052.0,411.1 2050.3,387.1 2049.9,382.1C2049.5,377.1 2047.8,353.0 2047.4,348.6C2047.0,344.2 2044.5,326.6 2044.0,323.5C2043.5,320.4 2041.3,308.6 2040.7,306.8C2040.1,305.0 2037.2,300.7 2036.5,300.1C2035.8,299.5 2031.8,298.8 2030.7,299.3C2029.6,299.8 2023.1,306.7 2022.3,306.8C2021.5,306.9 2020.5,302.9 2020.6,301.0C2020.7,299.1 2022.8,284.4 2023.1,281.7C2023.4,279.0 2024.4,268.1 2024.8,265.0C2025.2,261.9 2028.3,244.6 2029.0,240.6C2029.7,236.6 2033.2,216.3 2034.0,212.2C2034.8,208.1 2038.2,189.2 2039.0,185.4C2039.8,181.6 2043.3,164.3 2044.0,162.0C2044.7,159.7 2047.4,155.4 2048.2,154.5C2049.0,153.6 2053.2,150.5 2054.1,150.6C2055.0,150.7 2059.0,154.3 2059.9,155.3C2060.8,156.3 2065.5,161.7 2066.3,163.7C2067.1,165.7 2069.4,179.5 2070.0,182.1C2070.6,184.7 2073.4,196.0 2074.1,198.8C2074.8,201.6 2078.4,216.0 2079.2,218.8C2080.0,221.6 2083.4,233.3 2084.2,235.6C2084.9,237.9 2088.4,246.7 2089.2,248.9C2090.0,251.1 2094.1,262.5 2095.0,265.0C2095.9,267.5 2099.9,279.0 2100.9,281.7C2101.9,284.4 2107.2,298.5 2107.9,301.0C2108.6,303.5 2109.4,312.3 2109.6,315.2C2109.8,318.1 2110.2,336.5 2110.1,340.3C2110.0,344.1 2108.8,361.5 2108.4,365.3C2108.0,369.1 2105.6,386.9 2105.1,390.4C2104.6,393.9 2102.1,409.1 2101.7,412.2C2101.3,415.3 2099.4,429.4 2099.2,432.2C2099.0,435.0 2098.9,446.6 2098.9,448.9C2098.9,451.2 2099.2,461.9 2099.2,463.2C2099.2,464.5 2099.3,465.8 2099.3,466.0Z" fill="#fdf7f4"/>
<path d="M2144.0,430.5C2143.7,430.8 2140.8,434.0 2140.2,434.7C2139.6,435.4 2136.4,438.5 2136.4,439.2C2136.4,439.9 2139.6,442.9 2140.2,443.6C2140.8,444.3 2143.7,447.7 2144.0,448.0Z" fill="#fdf7f4"/>
<path d="M1838.2,66.0C1838.3,66.3 1838.6,68.3 1839.0,69.7C1839.4,71.1 1842.4,82.3 1843.2,85.1C1844.0,87.9 1848.2,103.7 1849.1,106.8C1850.0,109.9 1854.2,124.4 1854.9,126.9C1855.7,129.4 1858.4,138.4 1859.1,140.3C1859.8,142.2 1863.3,150.6 1864.1,152.0C1864.9,153.4 1869.1,158.7 1870.0,159.5C1870.9,160.3 1875.7,161.7 1875.8,162.8C1875.9,163.9 1872.1,171.3 1871.6,173.7C1871.1,176.1 1869.4,192.3 1869.1,195.4C1868.8,198.5 1867.6,212.1 1867.5,215.5C1867.4,218.9 1868.1,236.9 1868.3,240.6C1868.5,244.3 1870.6,260.7 1870.8,265.0C1871.0,269.3 1870.6,293.4 1870.5,298.4C1870.4,303.4 1869.7,327.6 1869.5,331.9C1869.3,336.2 1868.0,351.8 1867.5,355.3C1867.0,358.8 1864.1,376.1 1863.3,378.7C1862.5,381.3 1857.7,388.4 1856.6,390.4C1855.5,392.4 1850.2,403.1 1849.1,405.5C1848.0,407.9 1843.3,420.2 1842.4,422.2C1841.5,424.2 1838.0,430.9 1837.4,432.2C1836.8,433.5 1835.0,438.2 1834.8,439.7C1834.6,441.2 1835.2,450.5 1835.3,452.3C1835.4,454.1 1836.4,462.2 1836.5,463.2C1836.6,464.2 1836.8,465.8 1836.8,466.0L1847.2,466.0C1847.2,465.8 1847.3,464.5 1847.4,463.2C1847.5,461.9 1848.0,451.2 1848.2,448.9C1848.4,446.6 1849.6,434.7 1849.9,432.2C1850.2,429.7 1851.9,417.6 1852.4,415.5C1852.9,413.4 1855.8,406.0 1856.6,404.6C1857.4,403.2 1862.1,397.9 1863.3,397.1C1864.5,396.3 1871.1,394.3 1872.5,394.1C1873.9,393.9 1881.2,394.9 1882.5,394.6C1883.8,394.3 1888.1,391.0 1889.2,389.6C1890.3,388.2 1895.6,377.3 1896.7,375.4C1897.8,373.5 1903.4,365.4 1904.2,364.5C1905.0,363.6 1907.5,362.9 1907.9,363.7C1908.3,364.5 1909.0,373.0 1909.3,375.4C1909.6,377.8 1911.5,392.6 1911.8,395.4C1912.1,398.2 1913.1,410.2 1912.9,412.2C1912.7,414.2 1910.0,421.1 1909.3,422.2C1908.6,423.3 1904.2,426.1 1904.2,426.9C1904.2,427.6 1908.4,431.4 1909.3,432.2C1910.2,433.0 1915.8,436.7 1916.8,438.1C1917.8,439.5 1921.7,449.0 1922.6,450.6C1923.5,452.2 1928.4,458.2 1929.3,459.0C1930.2,459.8 1934.2,461.3 1935.0,461.5C1935.8,461.7 1939.4,462.1 1940.4,461.8C1941.4,461.5 1947.0,458.3 1947.9,457.3C1948.8,456.3 1951.7,451.0 1952.1,448.9C1952.5,446.8 1953.1,431.7 1953.7,428.9C1954.3,426.1 1958.8,414.5 1959.6,412.2C1960.4,409.9 1964.0,400.7 1964.6,398.8C1965.2,396.9 1966.7,387.6 1967.5,387.1C1968.3,386.6 1974.2,391.7 1975.5,392.1C1976.8,392.5 1984.0,393.0 1985.5,392.9C1987.0,392.8 1994.1,390.6 1995.5,390.4C1996.9,390.2 2003.0,389.1 2003.9,389.6C2004.8,390.1 2007.6,395.4 2008.1,397.1C2008.6,398.8 2010.4,409.6 2010.6,412.2C2010.8,414.8 2010.7,430.2 2010.9,432.2C2011.1,434.2 2013.0,438.5 2013.9,438.9C2014.8,439.3 2020.7,438.2 2022.3,438.1C2023.9,438.0 2034.3,437.3 2035.7,436.9C2037.1,436.5 2040.2,433.3 2040.7,432.2C2041.2,431.1 2042.4,424.1 2042.4,422.2C2042.4,420.3 2041.1,409.6 2040.7,407.1C2040.3,404.6 2038.0,391.0 2037.4,388.7C2036.8,386.4 2033.9,378.2 2033.2,377.0C2032.5,375.8 2029.1,373.1 2028.2,372.9C2027.3,372.7 2021.7,374.2 2020.6,374.5C2019.5,374.8 2014.2,377.5 2013.1,376.7C2012.0,375.9 2007.1,366.1 2006.4,363.7C2005.7,361.3 2004.0,348.3 2003.9,345.3C2003.8,342.3 2005.1,327.6 2005.6,323.5C2006.1,319.4 2010.0,294.5 2010.6,290.1C2011.2,285.7 2013.4,268.1 2013.9,265.0C2014.4,261.9 2016.7,251.6 2017.3,248.9C2017.9,246.2 2021.6,232.8 2022.3,228.9C2023.0,225.0 2026.0,201.9 2026.5,197.1C2027.0,192.3 2028.7,169.6 2029.0,165.3C2029.3,161.0 2030.5,143.1 2030.7,140.3C2030.9,137.5 2031.0,129.9 2031.5,128.5C2032.0,127.1 2036.3,122.0 2037.4,121.0C2038.5,120.0 2044.4,116.0 2045.7,115.5C2047.0,115.0 2052.7,114.3 2054.1,114.7C2055.5,115.1 2062.5,119.2 2064.1,120.2C2065.7,121.2 2074.5,126.6 2075.8,128.5C2077.1,130.4 2079.9,142.7 2080.8,145.3C2081.7,147.9 2087.5,160.0 2088.4,162.8C2089.3,165.6 2092.6,179.5 2093.4,182.1C2094.2,184.7 2098.0,194.6 2099.2,197.1C2100.4,199.6 2107.8,212.9 2109.3,215.5C2110.8,218.1 2117.9,230.5 2119.3,232.2C2120.7,233.9 2126.9,237.5 2128.5,238.1C2130.1,238.7 2139.0,240.1 2140.2,240.3C2141.4,240.5 2144.6,240.8 2145.0,240.8L2145.0,60.0L1838.0,60.0Z" fill="#f7ebe7"/>
<path d="M1855.5,466.0C1855.5,465.8 1855.6,464.5 1855.7,463.2C1855.8,461.9 1856.3,451.2 1856.6,448.9C1856.9,446.6 1859.2,434.1 1859.9,432.2C1860.6,430.3 1864.9,424.7 1865.8,423.9C1866.7,423.1 1870.7,421.9 1871.6,421.9C1872.5,421.9 1876.4,423.1 1877.5,423.9C1878.6,424.7 1884.4,431.7 1885.8,433.1C1887.2,434.5 1894.3,441.1 1895.9,442.3C1897.5,443.5 1906.3,447.8 1907.6,448.9C1908.9,450.0 1912.8,456.2 1913.4,457.3C1914.0,458.4 1915.6,462.5 1915.9,463.2C1916.2,463.9 1916.9,465.8 1917.0,466.0Z" fill="#fcf3f0"/>
<path d="M1855.5,466.0C1855.5,465.8 1855.6,464.5 1855.7,463.2C1855.8,461.9 1856.3,451.2 1856.6,448.9C1856.9,446.6 1859.2,434.1 1859.9,432.2C1860.6,430.3 1864.9,424.7 1865.8,423.9C1866.7,423.1 1870.7,421.9 1871.6,421.9C1872.5,421.9 1876.4,423.1 1877.5,423.9C1878.6,424.7 1884.4,431.7 1885.8,433.1C1887.2,434.5 1894.3,441.1 1895.9,442.3C1897.5,443.5 1906.3,447.8 1907.6,448.9C1908.9,450.0 1912.8,456.2 1913.4,457.3C1914.0,458.4 1915.6,462.5 1915.9,463.2C1916.2,463.9 1916.9,465.8 1917.0,466.0Z" fill="#fdf7f4"/>
<path d="M1991.0,466.0C1990.8,465.8 1989.3,463.7 1988.9,463.2C1988.5,462.7 1986.4,460.1 1985.5,459.8C1984.6,459.5 1978.5,459.0 1977.2,459.0C1975.9,459.0 1969.0,460.3 1968.0,459.8C1967.0,459.3 1964.3,453.6 1963.8,452.3C1963.3,451.0 1961.8,443.8 1961.8,442.3C1961.8,440.8 1963.4,433.8 1963.8,432.2C1964.2,430.6 1966.5,422.1 1967.1,420.5C1967.7,418.9 1971.1,411.5 1972.1,410.5C1973.1,409.5 1979.1,407.3 1980.5,407.1C1981.9,406.9 1989.3,407.6 1990.5,408.0C1991.7,408.4 1995.7,411.3 1996.4,412.2C1997.1,413.1 1999.3,419.0 1999.7,420.5C2000.1,422.0 2001.4,430.3 2001.4,432.2C2001.4,434.1 1999.6,444.8 1999.7,446.4C1999.8,448.0 2002.3,452.3 2003.1,453.1C2003.9,453.9 2009.3,456.2 2010.6,456.5C2011.9,456.8 2019.5,456.8 2020.6,457.3C2021.7,457.8 2024.4,462.5 2024.8,463.2C2025.2,463.9 2026.4,465.8 2026.5,466.0Z" fill="#fdf7f4"/>
<path d="M1907.6,117.7C1908.4,117.8 1912.7,121.1 1913.4,121.9C1914.1,122.7 1916.5,125.4 1916.8,128.5C1917.1,131.6 1917.6,159.2 1917.3,163.7C1917.0,168.2 1914.1,185.0 1913.4,188.7C1912.7,192.4 1909.2,211.6 1908.4,213.0C1907.7,214.4 1904.2,209.0 1903.4,207.1C1902.6,205.2 1898.5,189.6 1897.6,187.1C1896.7,184.6 1892.6,175.5 1891.7,173.7C1890.8,171.9 1885.9,164.8 1885.8,163.7C1885.7,162.6 1889.3,160.0 1890.0,158.6C1890.7,157.2 1894.3,147.6 1895.0,145.3C1895.7,143.0 1898.3,130.3 1898.9,128.5C1899.5,126.7 1901.9,121.8 1902.6,121.0C1903.3,120.2 1906.8,117.6 1907.6,117.7Z" fill="#fcf3f0"/>
<path d="M1980.3,66.0C1980.3,66.3 1980.0,68.3 1979.7,69.7C1979.4,71.1 1976.9,82.7 1976.3,85.1C1975.7,87.5 1972.8,99.4 1972.1,101.8C1971.3,104.2 1967.1,114.8 1966.3,116.8C1965.5,118.8 1962.2,126.4 1961.8,128.5C1961.4,130.6 1961.0,142.7 1960.8,145.3C1960.6,147.9 1959.6,160.7 1959.6,163.7C1959.6,166.7 1961.1,182.1 1961.3,185.4C1961.5,188.7 1962.5,206.7 1962.9,208.0C1963.3,209.3 1965.9,203.8 1966.3,202.1C1966.7,200.4 1968.4,188.0 1968.8,185.4C1969.2,182.8 1971.5,169.8 1972.1,167.0C1972.7,164.2 1976.4,151.0 1977.2,148.6C1978.0,146.2 1981.6,136.7 1982.2,135.2C1982.8,133.7 1985.6,131.3 1985.8,128.5C1986.0,125.7 1985.5,102.8 1985.5,98.4C1985.5,94.0 1985.2,72.1 1985.2,69.7C1985.2,67.3 1985.2,66.3 1985.2,66.0Z" fill="#fcf3f0"/>
<path d="M1856.5,66.0C1856.6,66.3 1856.8,67.3 1857.4,69.7C1858.0,72.1 1863.1,94.1 1864.1,98.4C1865.1,102.8 1869.9,125.2 1870.8,127.7C1871.7,130.2 1875.4,131.8 1876.2,131.9C1877.0,132.0 1880.6,130.6 1881.3,128.5C1882.0,126.4 1885.0,107.9 1885.8,103.5C1886.6,99.1 1891.9,72.5 1892.5,69.7C1893.1,66.9 1893.1,66.3 1893.2,66.0Z" fill="#f3d9d6"/>
<path d="M2006.0,66.0C2006.0,66.3 2006.2,68.5 2006.4,69.7C2006.6,70.9 2007.6,81.1 2008.1,82.6C2008.6,84.1 2012.6,90.0 2013.4,90.1C2014.2,90.2 2017.8,85.7 2019.0,84.2C2020.2,82.7 2028.8,71.1 2029.8,69.7C2030.8,68.3 2032.3,66.3 2032.5,66.0Z" fill="#f3d9d6"/>
<path d="M2060.0,66.0C2060.2,66.3 2061.6,68.4 2062.4,69.7C2063.2,71.0 2069.5,81.4 2070.8,83.4C2072.1,85.4 2077.7,94.8 2079.2,96.8C2080.7,98.8 2089.1,108.4 2090.9,110.2C2092.7,112.0 2101.0,118.8 2102.6,120.2C2104.2,121.6 2110.5,126.7 2111.8,128.5C2113.1,130.3 2118.0,142.4 2119.3,144.4C2120.6,146.4 2127.7,154.9 2129.3,155.8C2130.9,156.7 2139.0,156.9 2140.2,157.0C2141.4,157.1 2144.6,157.5 2145.0,157.5L2145.0,60.0Z" fill="#f3d9d6"/>
<path d="M1885.0,203.8C1885.7,203.9 1888.3,207.5 1889.2,208.8C1890.1,210.1 1895.5,218.5 1896.7,220.5C1897.9,222.5 1904.3,233.3 1905.1,235.6C1905.9,237.9 1907.4,248.4 1907.6,250.6C1907.8,252.8 1908.4,262.7 1908.4,265.0C1908.4,267.3 1907.7,278.6 1907.6,281.7C1907.5,284.8 1907.3,303.3 1907.2,306.8C1907.1,310.3 1906.5,325.5 1905.9,328.5C1905.3,331.5 1900.3,344.6 1899.2,346.9C1898.1,349.2 1892.9,357.0 1891.7,358.6C1890.5,360.2 1884.2,367.0 1883.3,367.8C1882.4,368.6 1879.9,369.1 1879.2,368.7C1878.5,368.3 1874.9,364.8 1874.5,362.0C1874.1,359.2 1874.1,336.4 1874.1,331.9C1874.1,327.4 1874.8,305.6 1875.0,301.8C1875.2,298.0 1875.9,284.5 1876.1,281.7C1876.3,278.9 1878.3,267.2 1878.3,265.0C1878.3,262.8 1876.9,254.5 1876.6,252.3C1876.3,250.1 1874.6,237.4 1874.5,235.6C1874.4,233.8 1875.4,231.0 1875.8,228.9C1876.2,226.8 1879.3,209.0 1880.0,207.1C1880.7,205.2 1884.3,203.7 1885.0,203.8Z" fill="#f3d9d6"/>
<path d="M1935.2,171.2C1935.9,170.9 1937.9,170.9 1938.7,171.2C1939.5,171.5 1944.5,174.5 1945.4,175.4C1946.3,176.3 1949.7,182.1 1950.4,183.7C1951.1,185.3 1954.1,194.7 1954.6,197.1C1955.1,199.5 1956.8,212.2 1957.1,215.5C1957.4,218.8 1958.6,236.9 1958.8,240.6C1959.0,244.3 1960.2,261.3 1960.1,265.0C1960.0,268.7 1958.0,285.7 1957.9,290.1C1957.8,294.5 1958.6,319.1 1958.8,323.5C1959.0,327.9 1960.1,344.5 1960.1,348.6C1960.1,352.7 1959.2,374.9 1958.8,378.7C1958.4,382.5 1955.4,396.3 1954.6,398.8C1953.8,401.3 1949.6,410.4 1948.7,412.2C1947.8,414.0 1942.8,421.3 1942.0,422.2C1941.2,423.1 1938.1,424.4 1937.4,424.3C1936.7,424.2 1933.5,421.4 1932.7,420.5C1931.9,419.6 1927.6,413.8 1926.8,412.2C1926.0,410.6 1922.4,401.1 1921.8,398.8C1921.2,396.5 1918.9,384.9 1918.5,382.1C1918.1,379.3 1916.9,365.8 1916.8,362.0C1916.7,358.2 1917.5,336.7 1917.6,331.9C1917.7,327.1 1918.1,302.2 1918.0,298.4C1917.9,294.6 1916.2,284.2 1915.9,281.7C1915.6,279.2 1914.5,267.5 1914.6,265.0C1914.7,262.5 1916.6,251.4 1916.8,248.9C1917.0,246.4 1917.2,235.3 1917.3,232.2C1917.4,229.1 1917.4,209.7 1917.6,207.1C1917.8,204.5 1919.6,198.9 1920.1,197.1C1920.6,195.3 1923.6,185.3 1924.3,183.7C1925.0,182.1 1928.5,176.3 1929.3,175.4C1930.1,174.5 1934.5,171.5 1935.2,171.2Z" fill="#f3d9d6"/>
<path d="M2003.9,144.9C2004.7,144.9 2008.2,146.5 2008.9,147.8C2009.7,149.1 2013.4,159.4 2013.9,162.0C2014.4,164.6 2015.3,178.7 2015.6,182.1C2015.9,185.5 2018.1,203.8 2018.1,207.1C2018.1,210.4 2016.1,222.7 2015.6,225.5C2015.1,228.3 2012.1,240.9 2011.4,243.9C2010.7,246.9 2006.9,262.2 2006.4,265.0C2005.9,267.8 2005.0,278.8 2004.7,281.7C2004.4,284.6 2002.8,300.7 2002.2,303.5C2001.6,306.3 1998.0,316.6 1997.2,318.5C1996.4,320.4 1992.2,327.1 1991.4,328.5C1990.6,329.9 1987.1,336.0 1986.3,336.9C1985.5,337.8 1982.1,340.0 1981.3,339.9C1980.5,339.8 1976.4,336.7 1975.5,335.2C1974.6,333.7 1970.3,323.0 1969.6,320.2C1968.9,317.4 1966.5,302.5 1966.3,298.4C1966.1,294.3 1967.1,268.7 1967.1,265.0C1967.1,261.3 1966.4,251.1 1966.3,248.9C1966.2,246.7 1965.1,238.1 1965.4,235.6C1965.7,233.1 1969.9,218.3 1970.5,215.5C1971.1,212.7 1973.3,201.1 1973.8,198.8C1974.3,196.5 1976.6,187.3 1977.2,185.4C1977.8,183.5 1981.3,175.3 1982.2,173.7C1983.1,172.1 1988.2,165.0 1988.9,163.7C1989.7,162.4 1991.5,158.2 1992.2,157.0C1993.0,155.8 1998.0,148.7 1998.9,147.8C1999.8,146.9 2003.2,144.9 2003.9,144.9Z" fill="#f3d9d6"/>
<path d="M1894.2,274.2C1894.8,274.8 1897.2,283.0 1897.6,285.1C1898.0,287.2 1900.0,299.5 1900.1,301.8C1900.2,304.1 1899.5,313.1 1899.2,315.2C1898.9,317.3 1897.4,327.8 1896.7,329.4C1896.0,331.0 1890.8,336.7 1890.0,336.9C1889.2,337.1 1886.2,333.7 1885.8,332.7C1885.4,331.7 1884.4,325.8 1884.2,323.5C1884.0,321.2 1883.6,304.3 1883.8,301.8C1884.0,299.3 1886.2,291.9 1886.7,290.1C1887.2,288.3 1889.4,278.7 1890.0,277.5C1890.6,276.3 1893.6,273.6 1894.2,274.2Z" fill="#e5aab9"/>
<path d="M1936.0,202.5C1936.8,202.3 1940.6,203.5 1941.2,203.8C1941.8,204.1 1943.6,204.7 1943.7,207.1C1943.8,209.5 1942.7,232.5 1942.9,235.6C1943.1,238.7 1945.7,246.7 1946.2,248.9C1946.7,251.1 1949.2,261.9 1949.6,265.0C1950.0,268.1 1951.0,286.3 1951.2,290.1C1951.4,293.9 1951.9,311.1 1952.1,315.2C1952.3,319.3 1953.6,341.5 1953.7,345.3C1953.8,349.1 1953.9,362.5 1953.7,365.3C1953.5,368.1 1951.1,380.0 1950.4,382.1C1949.7,384.2 1945.4,392.5 1944.5,393.8C1943.6,395.1 1939.8,399.4 1939.0,399.6C1938.2,399.8 1935.1,397.9 1934.3,397.1C1933.5,396.3 1929.2,390.5 1928.5,388.7C1927.8,386.9 1924.7,376.7 1924.3,373.7C1923.9,370.7 1923.4,353.0 1923.5,348.6C1923.6,344.2 1924.9,320.2 1925.1,315.2C1925.3,310.2 1925.7,285.5 1925.6,281.7C1925.5,277.9 1924.0,267.5 1924.3,265.0C1924.6,262.5 1928.7,251.1 1929.3,248.9C1929.9,246.7 1932.5,237.5 1932.7,235.6C1932.9,233.7 1931.9,226.1 1931.8,223.9C1931.7,221.7 1930.7,208.4 1931.0,206.8C1931.3,205.2 1935.2,202.7 1936.0,202.5Z" fill="#e5aab9"/>
<path d="M1995.5,192.9C1996.2,192.7 1999.0,193.5 1999.7,194.1C2000.4,194.7 2004.2,200.3 2004.7,201.3C2005.2,202.3 2006.5,205.7 2006.4,207.1C2006.3,208.5 2004.5,218.4 2003.9,220.5C2003.3,222.6 1999.9,232.8 1998.9,235.6C1997.9,238.4 1990.9,255.1 1990.5,257.3C1990.1,259.5 1992.9,263.2 1993.0,265.0C1993.1,266.8 1992.1,279.1 1991.9,281.7C1991.7,284.3 1990.9,298.2 1990.5,300.1C1990.1,302.0 1987.0,306.1 1986.3,306.8C1985.6,307.5 1982.0,309.8 1981.3,309.8C1980.6,309.8 1978.0,307.7 1977.5,306.8C1977.0,305.9 1975.2,300.3 1975.1,298.4C1975.0,296.5 1975.6,284.2 1975.8,281.7C1976.0,279.2 1976.7,266.8 1977.2,265.0C1977.7,263.2 1982.7,259.5 1983.0,257.3C1983.3,255.1 1981.2,239.4 1981.3,235.6C1981.4,231.8 1983.2,210.0 1983.8,207.1C1984.4,204.2 1988.8,197.4 1989.7,196.3C1990.6,195.2 1994.8,193.1 1995.5,192.9Z" fill="#e5aab9"/>
<path d="M1936.4,309.9L1940.6,309.9L1942.0,331.9L1944.0,348.6L1943.7,363.7L1940.4,371.2L1936.2,371.2L1932.2,360.0L1934.3,331.9Z" fill="#94237c"/>
<path d="M1731.0,88.5C1731.4,88.3 1734.6,86.5 1735.7,85.9C1736.8,85.3 1743.8,81.2 1745.4,80.1C1747.0,79.0 1755.7,72.2 1757.1,71.4C1758.5,70.6 1763.6,70.1 1764.6,69.7C1765.6,69.3 1769.6,66.3 1770.0,66.0" fill="none" stroke="#000" stroke-width="1.9" stroke-linejoin="round" stroke-linecap="butt"/>
<path d="M1731.0,220.0C1731.4,219.3 1735.0,212.0 1735.7,210.5C1736.4,209.0 1739.5,202.2 1740.4,200.5C1741.3,198.8 1746.7,190.7 1747.9,187.9C1749.1,185.1 1754.9,165.4 1756.2,162.8C1757.5,160.2 1763.8,155.4 1765.4,153.6C1767.0,151.8 1775.9,140.5 1777.2,138.6C1778.5,136.7 1782.1,129.6 1783.0,128.5C1783.9,127.4 1788.6,124.6 1789.7,123.5C1790.8,122.4 1796.9,115.4 1798.1,114.3C1799.3,113.2 1804.5,109.2 1805.6,108.5C1806.7,107.8 1812.1,105.8 1813.1,105.6C1814.1,105.4 1818.1,105.3 1819.0,105.6C1819.9,105.9 1824.5,108.5 1825.6,109.3C1826.7,110.1 1832.9,115.7 1834.0,116.8C1835.1,117.9 1839.9,123.5 1840.7,124.4C1841.5,125.3 1844.0,128.3 1844.4,129.4C1844.8,130.5 1846.1,137.0 1846.5,138.6C1846.9,140.2 1848.4,148.4 1849.1,150.3C1849.8,152.2 1855.0,161.6 1855.7,163.7C1856.4,165.8 1857.9,176.2 1858.3,178.7C1858.7,181.2 1860.5,194.3 1860.8,197.1C1861.1,199.9 1862.2,212.2 1862.4,215.5C1862.6,218.8 1863.1,236.9 1863.3,240.6C1863.5,244.3 1864.7,260.7 1864.9,265.0C1865.1,269.3 1865.4,293.4 1865.4,298.4C1865.4,303.4 1865.1,327.8 1864.9,331.9C1864.7,336.0 1862.9,351.1 1862.4,353.6C1861.9,356.1 1859.3,363.7 1858.3,365.3C1857.3,366.9 1850.2,374.1 1849.1,375.4C1848.0,376.7 1844.0,380.8 1843.2,382.1C1842.4,383.4 1839.7,390.0 1839.0,392.1C1838.3,394.2 1834.8,408.0 1834.0,410.5C1833.2,413.0 1829.7,423.4 1829.0,425.5C1828.3,427.6 1824.9,436.3 1824.5,438.1C1824.1,439.9 1823.9,447.0 1824.0,448.9C1824.1,450.8 1825.4,461.9 1825.6,463.2C1825.8,464.5 1826.0,465.8 1826.0,466.0" fill="none" stroke="#000" stroke-width="1.9" stroke-linejoin="round" stroke-linecap="butt"/>
<path d="M1838.2,66.0C1838.3,66.3 1838.6,68.3 1839.0,69.7C1839.4,71.1 1842.4,82.3 1843.2,85.1C1844.0,87.9 1848.2,103.7 1849.1,106.8C1850.0,109.9 1854.2,124.4 1854.9,126.9C1855.7,129.4 1858.4,138.4 1859.1,140.3C1859.8,142.2 1863.3,150.6 1864.1,152.0C1864.9,153.4 1869.1,158.7 1870.0,159.5C1870.9,160.3 1875.7,161.7 1875.8,162.8C1875.9,163.9 1872.1,171.3 1871.6,173.7C1871.1,176.1 1869.4,192.3 1869.1,195.4C1868.8,198.5 1867.6,212.1 1867.5,215.5C1867.4,218.9 1868.1,236.9 1868.3,240.6C1868.5,244.3 1870.6,260.7 1870.8,265.0C1871.0,269.3 1870.6,293.4 1870.5,298.4C1870.4,303.4 1869.7,327.6 1869.5,331.9C1869.3,336.2 1868.0,351.8 1867.5,355.3C1867.0,358.8 1864.1,376.1 1863.3,378.7C1862.5,381.3 1857.7,388.4 1856.6,390.4C1855.5,392.4 1850.2,403.1 1849.1,405.5C1848.0,407.9 1843.3,420.2 1842.4,422.2C1841.5,424.2 1838.0,430.9 1837.4,432.2C1836.8,433.5 1835.0,438.2 1834.8,439.7C1834.6,441.2 1835.2,450.5 1835.3,452.3C1835.4,454.1 1836.4,462.2 1836.5,463.2C1836.6,464.2 1836.8,465.8 1836.8,466.0" fill="none" stroke="#000" stroke-width="1.9" stroke-linejoin="round" stroke-linecap="butt"/>
<path d="M1847.2,466.0C1847.2,465.8 1847.3,464.5 1847.4,463.2C1847.5,461.9 1848.0,451.2 1848.2,448.9C1848.4,446.6 1849.6,434.7 1849.9,432.2C1850.2,429.7 1851.9,417.6 1852.4,415.5C1852.9,413.4 1855.8,406.0 1856.6,404.6C1857.4,403.2 1862.1,397.9 1863.3,397.1C1864.5,396.3 1871.1,394.3 1872.5,394.1C1873.9,393.9 1881.2,394.9 1882.5,394.6C1883.8,394.3 1888.1,391.0 1889.2,389.6C1890.3,388.2 1895.6,377.3 1896.7,375.4C1897.8,373.5 1903.4,365.4 1904.2,364.5C1905.0,363.6 1907.5,362.9 1907.9,363.7C1908.3,364.5 1909.0,373.0 1909.3,375.4C1909.6,377.8 1911.5,392.6 1911.8,395.4C1912.1,398.2 1913.1,410.2 1912.9,412.2C1912.7,414.2 1910.0,421.1 1909.3,422.2C1908.6,423.3 1904.2,426.1 1904.2,426.9C1904.2,427.6 1908.4,431.4 1909.3,432.2C1910.2,433.0 1915.8,436.7 1916.8,438.1C1917.8,439.5 1921.7,449.0 1922.6,450.6C1923.5,452.2 1928.4,458.2 1929.3,459.0C1930.2,459.8 1934.2,461.3 1935.0,461.5C1935.8,461.7 1939.4,462.1 1940.4,461.8C1941.4,461.5 1947.0,458.3 1947.9,457.3C1948.8,456.3 1951.7,451.0 1952.1,448.9C1952.5,446.8 1953.1,431.7 1953.7,428.9C1954.3,426.1 1958.8,414.5 1959.6,412.2C1960.4,409.9 1964.0,400.7 1964.6,398.8C1965.2,396.9 1966.7,387.6 1967.5,387.1C1968.3,386.6 1974.2,391.7 1975.5,392.1C1976.8,392.5 1984.0,393.0 1985.5,392.9C1987.0,392.8 1994.1,390.6 1995.5,390.4C1996.9,390.2 2003.0,389.1 2003.9,389.6C2004.8,390.1 2007.6,395.4 2008.1,397.1C2008.6,398.8 2010.4,409.6 2010.6,412.2C2010.8,414.8 2010.7,430.2 2010.9,432.2C2011.1,434.2 2013.0,438.5 2013.9,438.9C2014.8,439.3 2020.7,438.2 2022.3,438.1C2023.9,438.0 2034.3,437.3 2035.7,436.9C2037.1,436.5 2040.2,433.3 2040.7,432.2C2041.2,431.1 2042.4,424.1 2042.4,422.2C2042.4,420.3 2041.1,409.6 2040.7,407.1C2040.3,404.6 2038.0,391.0 2037.4,388.7C2036.8,386.4 2033.9,378.2 2033.2,377.0C2032.5,375.8 2029.1,373.1 2028.2,372.9C2027.3,372.7 2021.7,374.2 2020.6,374.5C2019.5,374.8 2014.2,377.5 2013.1,376.7C2012.0,375.9 2007.1,366.1 2006.4,363.7C2005.7,361.3 2004.0,348.3 2003.9,345.3C2003.8,342.3 2005.1,327.6 2005.6,323.5C2006.1,319.4 2010.0,294.5 2010.6,290.1C2011.2,285.7 2013.4,268.1 2013.9,265.0C2014.4,261.9 2016.7,251.6 2017.3,248.9C2017.9,246.2 2021.6,232.8 2022.3,228.9C2023.0,225.0 2026.0,201.9 2026.5,197.1C2027.0,192.3 2028.7,169.6 2029.0,165.3C2029.3,161.0 2030.5,143.1 2030.7,140.3C2030.9,137.5 2031.0,129.9 2031.5,128.5C2032.0,127.1 2036.3,122.0 2037.4,121.0C2038.5,120.0 2044.4,116.0 2045.7,115.5C2047.0,115.0 2052.7,114.3 2054.1,114.7C2055.5,115.1 2062.5,119.2 2064.1,120.2C2065.7,121.2 2074.5,126.6 2075.8,128.5C2077.1,130.4 2079.9,142.7 2080.8,145.3C2081.7,147.9 2087.5,160.0 2088.4,162.8C2089.3,165.6 2092.6,179.5 2093.4,182.1C2094.2,184.7 2098.0,194.6 2099.2,197.1C2100.4,199.6 2107.8,212.9 2109.3,215.5C2110.8,218.1 2117.9,230.5 2119.3,232.2C2120.7,233.9 2126.9,237.5 2128.5,238.1C2130.1,238.7 2139.0,240.1 2140.2,240.3C2141.4,240.5 2144.6,240.8 2145.0,240.8" fill="none" stroke="#000" stroke-width="1.9" stroke-linejoin="round" stroke-linecap="butt"/>
<path d="M1855.5,466.0C1855.5,465.8 1855.6,464.5 1855.7,463.2C1855.8,461.9 1856.3,451.2 1856.6,448.9C1856.9,446.6 1859.2,434.1 1859.9,432.2C1860.6,430.3 1864.9,424.7 1865.8,423.9C1866.7,423.1 1870.7,421.9 1871.6,421.9C1872.5,421.9 1876.4,423.1 1877.5,423.9C1878.6,424.7 1884.4,431.7 1885.8,433.1C1887.2,434.5 1894.3,441.1 1895.9,442.3C1897.5,443.5 1906.3,447.8 1907.6,448.9C1908.9,450.0 1912.8,456.2 1913.4,457.3C1914.0,458.4 1915.6,462.5 1915.9,463.2C1916.2,463.9 1916.9,465.8 1917.0,466.0" fill="none" stroke="#000" stroke-width="1.9" stroke-linejoin="round" stroke-linecap="butt"/>
<path d="M1991.0,466.0C1990.8,465.8 1989.3,463.7 1988.9,463.2C1988.5,462.7 1986.4,460.1 1985.5,459.8C1984.6,459.5 1978.5,459.0 1977.2,459.0C1975.9,459.0 1969.0,460.3 1968.0,459.8C1967.0,459.3 1964.3,453.6 1963.8,452.3C1963.3,451.0 1961.8,443.8 1961.8,442.3C1961.8,440.8 1963.4,433.8 1963.8,432.2C1964.2,430.6 1966.5,422.1 1967.1,420.5C1967.7,418.9 1971.1,411.5 1972.1,410.5C1973.1,409.5 1979.1,407.3 1980.5,407.1C1981.9,406.9 1989.3,407.6 1990.5,408.0C1991.7,408.4 1995.7,411.3 1996.4,412.2C1997.1,413.1 1999.3,419.0 1999.7,420.5C2000.1,422.0 2001.4,430.3 2001.4,432.2C2001.4,434.1 1999.6,444.8 1999.7,446.4C1999.8,448.0 2002.3,452.3 2003.1,453.1C2003.9,453.9 2009.3,456.2 2010.6,456.5C2011.9,456.8 2019.5,456.8 2020.6,457.3C2021.7,457.8 2024.4,462.5 2024.8,463.2C2025.2,463.9 2026.4,465.8 2026.5,466.0" fill="none" stroke="#000" stroke-width="1.9" stroke-linejoin="round" stroke-linecap="butt"/>
<path d="M2055.9,466.0C2055.9,465.8 2055.8,465.1 2055.7,463.2C2055.6,461.3 2055.1,444.2 2054.9,440.6C2054.7,437.0 2052.8,419.9 2052.4,415.5C2052.0,411.1 2050.3,387.1 2049.9,382.1C2049.5,377.1 2047.8,353.0 2047.4,348.6C2047.0,344.2 2044.5,326.6 2044.0,323.5C2043.5,320.4 2041.3,308.6 2040.7,306.8C2040.1,305.0 2037.2,300.7 2036.5,300.1C2035.8,299.5 2031.8,298.8 2030.7,299.3C2029.6,299.8 2023.1,306.7 2022.3,306.8C2021.5,306.9 2020.5,302.9 2020.6,301.0C2020.7,299.1 2022.8,284.4 2023.1,281.7C2023.4,279.0 2024.4,268.1 2024.8,265.0C2025.2,261.9 2028.3,244.6 2029.0,240.6C2029.7,236.6 2033.2,216.3 2034.0,212.2C2034.8,208.1 2038.2,189.2 2039.0,185.4C2039.8,181.6 2043.3,164.3 2044.0,162.0C2044.7,159.7 2047.4,155.4 2048.2,154.5C2049.0,153.6 2053.2,150.5 2054.1,150.6C2055.0,150.7 2059.0,154.3 2059.9,155.3C2060.8,156.3 2065.5,161.7 2066.3,163.7C2067.1,165.7 2069.4,179.5 2070.0,182.1C2070.6,184.7 2073.4,196.0 2074.1,198.8C2074.8,201.6 2078.4,216.0 2079.2,218.8C2080.0,221.6 2083.4,233.3 2084.2,235.6C2084.9,237.9 2088.4,246.7 2089.2,248.9C2090.0,251.1 2094.1,262.5 2095.0,265.0C2095.9,267.5 2099.9,279.0 2100.9,281.7C2101.9,284.4 2107.2,298.5 2107.9,301.0C2108.6,303.5 2109.4,312.3 2109.6,315.2C2109.8,318.1 2110.2,336.5 2110.1,340.3C2110.0,344.1 2108.8,361.5 2108.4,365.3C2108.0,369.1 2105.6,386.9 2105.1,390.4C2104.6,393.9 2102.1,409.1 2101.7,412.2C2101.3,415.3 2099.4,429.4 2099.2,432.2C2099.0,435.0 2098.9,446.6 2098.9,448.9C2098.9,451.2 2099.2,461.9 2099.2,463.2C2099.2,464.5 2099.3,465.8 2099.3,466.0" fill="none" stroke="#000" stroke-width="1.9" stroke-linejoin="round" stroke-linecap="butt"/>
<path d="M2144.0,430.5C2143.7,430.8 2140.8,434.0 2140.2,434.7C2139.6,435.4 2136.4,438.5 2136.4,439.2C2136.4,439.9 2139.6,442.9 2140.2,443.6C2140.8,444.3 2143.7,447.7 2144.0,448.0" fill="none" stroke="#000" stroke-width="1.9" stroke-linejoin="round" stroke-linecap="butt"/>
<path d="M1907.6,117.7C1908.4,117.8 1912.7,121.1 1913.4,121.9C1914.1,122.7 1916.5,125.4 1916.8,128.5C1917.1,131.6 1917.6,159.2 1917.3,163.7C1917.0,168.2 1914.1,185.0 1913.4,188.7C1912.7,192.4 1909.2,211.6 1908.4,213.0C1907.7,214.4 1904.2,209.0 1903.4,207.1C1902.6,205.2 1898.5,189.6 1897.6,187.1C1896.7,184.6 1892.6,175.5 1891.7,173.7C1890.8,171.9 1885.9,164.8 1885.8,163.7C1885.7,162.6 1889.3,160.0 1890.0,158.6C1890.7,157.2 1894.3,147.6 1895.0,145.3C1895.7,143.0 1898.3,130.3 1898.9,128.5C1899.5,126.7 1901.9,121.8 1902.6,121.0C1903.3,120.2 1906.8,117.6 1907.6,117.7Z" fill="none" stroke="#000" stroke-width="1.9" stroke-linejoin="round" stroke-linecap="butt"/>
<path d="M1980.3,66.0C1980.3,66.3 1980.0,68.3 1979.7,69.7C1979.4,71.1 1976.9,82.7 1976.3,85.1C1975.7,87.5 1972.8,99.4 1972.1,101.8C1971.3,104.2 1967.1,114.8 1966.3,116.8C1965.5,118.8 1962.2,126.4 1961.8,128.5C1961.4,130.6 1961.0,142.7 1960.8,145.3C1960.6,147.9 1959.6,160.7 1959.6,163.7C1959.6,166.7 1961.1,182.1 1961.3,185.4C1961.5,188.7 1962.5,206.7 1962.9,208.0C1963.3,209.3 1965.9,203.8 1966.3,202.1C1966.7,200.4 1968.4,188.0 1968.8,185.4C1969.2,182.8 1971.5,169.8 1972.1,167.0C1972.7,164.2 1976.4,151.0 1977.2,148.6C1978.0,146.2 1981.6,136.7 1982.2,135.2C1982.8,133.7 1985.6,131.3 1985.8,128.5C1986.0,125.7 1985.5,102.8 1985.5,98.4C1985.5,94.0 1985.2,72.1 1985.2,69.7C1985.2,67.3 1985.2,66.3 1985.2,66.0" fill="none" stroke="#000" stroke-width="1.9" stroke-linejoin="round" stroke-linecap="butt"/>
<path d="M1856.5,66.0C1856.6,66.3 1856.8,67.3 1857.4,69.7C1858.0,72.1 1863.1,94.1 1864.1,98.4C1865.1,102.8 1869.9,125.2 1870.8,127.7C1871.7,130.2 1875.4,131.8 1876.2,131.9C1877.0,132.0 1880.6,130.6 1881.3,128.5C1882.0,126.4 1885.0,107.9 1885.8,103.5C1886.6,99.1 1891.9,72.5 1892.5,69.7C1893.1,66.9 1893.1,66.3 1893.2,66.0" fill="none" stroke="#000" stroke-width="1.9" stroke-linejoin="round" stroke-linecap="butt"/>
<path d="M2006.0,66.0C2006.0,66.3 2006.2,68.5 2006.4,69.7C2006.6,70.9 2007.6,81.1 2008.1,82.6C2008.6,84.1 2012.6,90.0 2013.4,90.1C2014.2,90.2 2017.8,85.7 2019.0,84.2C2020.2,82.7 2028.8,71.1 2029.8,69.7C2030.8,68.3 2032.3,66.3 2032.5,66.0" fill="none" stroke="#000" stroke-width="1.9" stroke-linejoin="round" stroke-linecap="butt"/>
<path d="M2060.0,66.0C2060.2,66.3 2061.6,68.4 2062.4,69.7C2063.2,71.0 2069.5,81.4 2070.8,83.4C2072.1,85.4 2077.7,94.8 2079.2,96.8C2080.7,98.8 2089.1,108.4 2090.9,110.2C2092.7,112.0 2101.0,118.8 2102.6,120.2C2104.2,121.6 2110.5,126.7 2111.8,128.5C2113.1,130.3 2118.0,142.4 2119.3,144.4C2120.6,146.4 2127.7,154.9 2129.3,155.8C2130.9,156.7 2139.0,156.9 2140.2,157.0C2141.4,157.1 2144.6,157.5 2145.0,157.5" fill="none" stroke="#000" stroke-width="1.9" stroke-linejoin="round" stroke-linecap="butt"/>
<path d="M1885.0,203.8C1885.7,203.9 1888.3,207.5 1889.2,208.8C1890.1,210.1 1895.5,218.5 1896.7,220.5C1897.9,222.5 1904.3,233.3 1905.1,235.6C1905.9,237.9 1907.4,248.4 1907.6,250.6C1907.8,252.8 1908.4,262.7 1908.4,265.0C1908.4,267.3 1907.7,278.6 1907.6,281.7C1907.5,284.8 1907.3,303.3 1907.2,306.8C1907.1,310.3 1906.5,325.5 1905.9,328.5C1905.3,331.5 1900.3,344.6 1899.2,346.9C1898.1,349.2 1892.9,357.0 1891.7,358.6C1890.5,360.2 1884.2,367.0 1883.3,367.8C1882.4,368.6 1879.9,369.1 1879.2,368.7C1878.5,368.3 1874.9,364.8 1874.5,362.0C1874.1,359.2 1874.1,336.4 1874.1,331.9C1874.1,327.4 1874.8,305.6 1875.0,301.8C1875.2,298.0 1875.9,284.5 1876.1,281.7C1876.3,278.9 1878.3,267.2 1878.3,265.0C1878.3,262.8 1876.9,254.5 1876.6,252.3C1876.3,250.1 1874.6,237.4 1874.5,235.6C1874.4,233.8 1875.4,231.0 1875.8,228.9C1876.2,226.8 1879.3,209.0 1880.0,207.1C1880.7,205.2 1884.3,203.7 1885.0,203.8Z" fill="none" stroke="#000" stroke-width="1.9" stroke-linejoin="round" stroke-linecap="butt"/>
<path d="M1935.2,171.2C1935.9,170.9 1937.9,170.9 1938.7,171.2C1939.5,171.5 1944.5,174.5 1945.4,175.4C1946.3,176.3 1949.7,182.1 1950.4,183.7C1951.1,185.3 1954.1,194.7 1954.6,197.1C1955.1,199.5 1956.8,212.2 1957.1,215.5C1957.4,218.8 1958.6,236.9 1958.8,240.6C1959.0,244.3 1960.2,261.3 1960.1,265.0C1960.0,268.7 1958.0,285.7 1957.9,290.1C1957.8,294.5 1958.6,319.1 1958.8,323.5C1959.0,327.9 1960.1,344.5 1960.1,348.6C1960.1,352.7 1959.2,374.9 1958.8,378.7C1958.4,382.5 1955.4,396.3 1954.6,398.8C1953.8,401.3 1949.6,410.4 1948.7,412.2C1947.8,414.0 1942.8,421.3 1942.0,422.2C1941.2,423.1 1938.1,424.4 1937.4,424.3C1936.7,424.2 1933.5,421.4 1932.7,420.5C1931.9,419.6 1927.6,413.8 1926.8,412.2C1926.0,410.6 1922.4,401.1 1921.8,398.8C1921.2,396.5 1918.9,384.9 1918.5,382.1C1918.1,379.3 1916.9,365.8 1916.8,362.0C1916.7,358.2 1917.5,336.7 1917.6,331.9C1917.7,327.1 1918.1,302.2 1918.0,298.4C1917.9,294.6 1916.2,284.2 1915.9,281.7C1915.6,279.2 1914.5,267.5 1914.6,265.0C1914.7,262.5 1916.6,251.4 1916.8,248.9C1917.0,246.4 1917.2,235.3 1917.3,232.2C1917.4,229.1 1917.4,209.7 1917.6,207.1C1917.8,204.5 1919.6,198.9 1920.1,197.1C1920.6,195.3 1923.6,185.3 1924.3,183.7C1925.0,182.1 1928.5,176.3 1929.3,175.4C1930.1,174.5 1934.5,171.5 1935.2,171.2Z" fill="none" stroke="#000" stroke-width="1.9" stroke-linejoin="round" stroke-linecap="butt"/>
<path d="M2003.9,144.9C2004.7,144.9 2008.2,146.5 2008.9,147.8C2009.7,149.1 2013.4,159.4 2013.9,162.0C2014.4,164.6 2015.3,178.7 2015.6,182.1C2015.9,185.5 2018.1,203.8 2018.1,207.1C2018.1,210.4 2016.1,222.7 2015.6,225.5C2015.1,228.3 2012.1,240.9 2011.4,243.9C2010.7,246.9 2006.9,262.2 2006.4,265.0C2005.9,267.8 2005.0,278.8 2004.7,281.7C2004.4,284.6 2002.8,300.7 2002.2,303.5C2001.6,306.3 1998.0,316.6 1997.2,318.5C1996.4,320.4 1992.2,327.1 1991.4,328.5C1990.6,329.9 1987.1,336.0 1986.3,336.9C1985.5,337.8 1982.1,340.0 1981.3,339.9C1980.5,339.8 1976.4,336.7 1975.5,335.2C1974.6,333.7 1970.3,323.0 1969.6,320.2C1968.9,317.4 1966.5,302.5 1966.3,298.4C1966.1,294.3 1967.1,268.7 1967.1,265.0C1967.1,261.3 1966.4,251.1 1966.3,248.9C1966.2,246.7 1965.1,238.1 1965.4,235.6C1965.7,233.1 1969.9,218.3 1970.5,215.5C1971.1,212.7 1973.3,201.1 1973.8,198.8C1974.3,196.5 1976.6,187.3 1977.2,185.4C1977.8,183.5 1981.3,175.3 1982.2,173.7C1983.1,172.1 1988.2,165.0 1988.9,163.7C1989.7,162.4 1991.5,158.2 1992.2,157.0C1993.0,155.8 1998.0,148.7 1998.9,147.8C1999.8,146.9 2003.2,144.9 2003.9,144.9Z" fill="none" stroke="#000" stroke-width="1.9" stroke-linejoin="round" stroke-linecap="butt"/>
<path d="M1894.2,274.2C1894.8,274.8 1897.2,283.0 1897.6,285.1C1898.0,287.2 1900.0,299.5 1900.1,301.8C1900.2,304.1 1899.5,313.1 1899.2,315.2C1898.9,317.3 1897.4,327.8 1896.7,329.4C1896.0,331.0 1890.8,336.7 1890.0,336.9C1889.2,337.1 1886.2,333.7 1885.8,332.7C1885.4,331.7 1884.4,325.8 1884.2,323.5C1884.0,321.2 1883.6,304.3 1883.8,301.8C1884.0,299.3 1886.2,291.9 1886.7,290.1C1887.2,288.3 1889.4,278.7 1890.0,277.5C1890.6,276.3 1893.6,273.6 1894.2,274.2Z" fill="none" stroke="#000" stroke-width="1.9" stroke-linejoin="round" stroke-linecap="butt"/>
<path d="M1936.0,202.5C1936.8,202.3 1940.6,203.5 1941.2,203.8C1941.8,204.1 1943.6,204.7 1943.7,207.1C1943.8,209.5 1942.7,232.5 1942.9,235.6C1943.1,238.7 1945.7,246.7 1946.2,248.9C1946.7,251.1 1949.2,261.9 1949.6,265.0C1950.0,268.1 1951.0,286.3 1951.2,290.1C1951.4,293.9 1951.9,311.1 1952.1,315.2C1952.3,319.3 1953.6,341.5 1953.7,345.3C1953.8,349.1 1953.9,362.5 1953.7,365.3C1953.5,368.1 1951.1,380.0 1950.4,382.1C1949.7,384.2 1945.4,392.5 1944.5,393.8C1943.6,395.1 1939.8,399.4 1939.0,399.6C1938.2,399.8 1935.1,397.9 1934.3,397.1C1933.5,396.3 1929.2,390.5 1928.5,388.7C1927.8,386.9 1924.7,376.7 1924.3,373.7C1923.9,370.7 1923.4,353.0 1923.5,348.6C1923.6,344.2 1924.9,320.2 1925.1,315.2C1925.3,310.2 1925.7,285.5 1925.6,281.7C1925.5,277.9 1924.0,267.5 1924.3,265.0C1924.6,262.5 1928.7,251.1 1929.3,248.9C1929.9,246.7 1932.5,237.5 1932.7,235.6C1932.9,233.7 1931.9,226.1 1931.8,223.9C1931.7,221.7 1930.7,208.4 1931.0,206.8C1931.3,205.2 1935.2,202.7 1936.0,202.5Z" fill="none" stroke="#000" stroke-width="1.9" stroke-linejoin="round" stroke-linecap="butt"/>
<path d="M1995.5,192.9C1996.2,192.7 1999.0,193.5 1999.7,194.1C2000.4,194.7 2004.2,200.3 2004.7,201.3C2005.2,202.3 2006.5,205.7 2006.4,207.1C2006.3,208.5 2004.5,218.4 2003.9,220.5C2003.3,222.6 1999.9,232.8 1998.9,235.6C1997.9,238.4 1990.9,255.1 1990.5,257.3C1990.1,259.5 1992.9,263.2 1993.0,265.0C1993.1,266.8 1992.1,279.1 1991.9,281.7C1991.7,284.3 1990.9,298.2 1990.5,300.1C1990.1,302.0 1987.0,306.1 1986.3,306.8C1985.6,307.5 1982.0,309.8 1981.3,309.8C1980.6,309.8 1978.0,307.7 1977.5,306.8C1977.0,305.9 1975.2,300.3 1975.1,298.4C1975.0,296.5 1975.6,284.2 1975.8,281.7C1976.0,279.2 1976.7,266.8 1977.2,265.0C1977.7,263.2 1982.7,259.5 1983.0,257.3C1983.3,255.1 1981.2,239.4 1981.3,235.6C1981.4,231.8 1983.2,210.0 1983.8,207.1C1984.4,204.2 1988.8,197.4 1989.7,196.3C1990.6,195.2 1994.8,193.1 1995.5,192.9Z" fill="none" stroke="#000" stroke-width="1.9" stroke-linejoin="round" stroke-linecap="butt"/>
<path d="M1936.4,309.9L1940.6,309.9L1942.0,331.9L1944.0,348.6L1943.7,363.7L1940.4,371.2L1936.2,371.2L1932.2,360.0L1934.3,331.9Z" fill="none" stroke="#000" stroke-width="1.9" stroke-linejoin="round" stroke-linecap="butt"/>
<circle cx="1903.7" cy="163.7" r="1.6" fill="#000"/>
</g>
<rect x="1735.60" y="68.55" width="405.20" height="394.35" fill="none" stroke="#000" stroke-width="1.1"/>
<text transform="translate(1727.90,79.25) scale(1,1.03)" font-size="23.6" text-anchor="end" >1.0</text>
<text transform="translate(1727.90,276.42) scale(1,1.03)" font-size="23.6" text-anchor="end" >10.0</text>
<text transform="translate(1727.90,473.60) scale(1,1.03)" font-size="23.6" text-anchor="end" >100.0</text>
<path d="M1735.60,68.55h-4.6M1735.60,265.72h-4.6M1735.60,462.90h-4.6" stroke="#000" stroke-width="1.1" fill="none"/>
<text transform="translate(1727.20,138.61) scale(1,1.03)" font-size="23.6" text-anchor="end" >2.0</text>
<text transform="translate(1727.20,173.33) scale(1,1.03)" font-size="23.6" text-anchor="end" >3.0</text>
<text transform="translate(1727.20,217.07) scale(1,1.03)" font-size="23.6" text-anchor="end" >5.0</text>
<text transform="translate(1727.20,245.88) scale(1,1.03)" font-size="23.6" text-anchor="end" >7.0</text>
<text transform="translate(1727.20,335.78) scale(1,1.03)" font-size="23.6" text-anchor="end" >20.0</text>
<text transform="translate(1727.20,370.50) scale(1,1.03)" font-size="23.6" text-anchor="end" >30.0</text>
<text transform="translate(1727.20,414.24) scale(1,1.03)" font-size="23.6" text-anchor="end" >50.0</text>
<text transform="translate(1727.20,443.06) scale(1,1.03)" font-size="23.6" text-anchor="end" >70.0</text>
<path d="M1735.60,127.91h-2.8M1735.60,162.63h-2.8M1735.60,206.37h-2.8M1735.60,235.18h-2.8M1735.60,325.08h-2.8M1735.60,359.80h-2.8M1735.60,403.54h-2.8M1735.60,432.36h-2.8M1735.60,187.26h-2.8M1735.60,221.98h-2.8M1735.60,246.62h-2.8M1735.60,256.70h-2.8M1735.60,384.44h-2.8M1735.60,419.16h-2.8M1735.60,443.79h-2.8M1735.60,453.88h-2.8" stroke="#000" stroke-width="0.9" fill="none"/>
<text transform="translate(1758.11,492.50) scale(1,1.03)" font-size="23.6" text-anchor="middle" >80S</text>
<text transform="translate(1803.13,492.50) scale(1,1.03)" font-size="23.6" text-anchor="middle" >60S</text>
<text transform="translate(1848.16,492.50) scale(1,1.03)" font-size="23.6" text-anchor="middle" >40S</text>
<text transform="translate(1893.18,492.50) scale(1,1.03)" font-size="23.6" text-anchor="middle" >20S</text>
<text transform="translate(1938.20,492.50) scale(1,1.03)" font-size="23.6" text-anchor="middle" >0</text>
<text transform="translate(1983.22,492.50) scale(1,1.03)" font-size="23.6" text-anchor="middle" >20N</text>
<text transform="translate(2028.24,492.50) scale(1,1.03)" font-size="23.6" text-anchor="middle" >40N</text>
<text transform="translate(2073.27,492.50) scale(1,1.03)" font-size="23.6" text-anchor="middle" >60N</text>
<text transform="translate(2118.29,492.50) scale(1,1.03)" font-size="23.6" text-anchor="middle" >80N</text>
<path d="M1758.11,462.90v4.6M1803.13,462.90v4.6M1848.16,462.90v4.6M1893.18,462.90v4.6M1938.20,462.90v4.6M1983.22,462.90v4.6M2028.24,462.90v4.6M2073.27,462.90v4.6M2118.29,462.90v4.6" stroke="#000" stroke-width="1.1" fill="none"/>
<text transform="translate(1938.20,524.80) scale(1,1.03)" font-size="23.6" text-anchor="middle" letter-spacing="0.15">Latitude (deg)</text>
<text transform="translate(1735.60,57.80) scale(1,1.03)" font-size="27.8" text-anchor="start" >(d) U in W-GAMIL1.0</text>
<text transform="translate(1672.00,265.72) rotate(-90) scale(1,1.06)" font-size="23.6" text-anchor="middle" letter-spacing="0.1">Pressure (hPa)</text>
<path d="M289.5,554.6L263.3,568.1500000000001L289.5,581.7Z" fill="#fdf7f3"/>
<rect x="289.50" y="554.6" width="67.95" height="27.100000000000023" fill="#fbf0ed"/>
<rect x="356.95" y="554.6" width="67.95" height="27.100000000000023" fill="#f4e0de"/>
<rect x="424.40" y="554.6" width="67.95" height="27.100000000000023" fill="#ecc3c0"/>
<rect x="491.85" y="554.6" width="67.95" height="27.100000000000023" fill="#e099ae"/>
<rect x="559.30" y="554.6" width="67.95" height="27.100000000000023" fill="#d3669d"/>
<rect x="626.75" y="554.6" width="67.95" height="27.100000000000023" fill="#ae378b"/>
<rect x="694.20" y="554.6" width="67.95" height="27.100000000000023" fill="#841f78"/>
<rect x="761.65" y="554.6" width="67.95" height="27.100000000000023" fill="#551670"/>
<path d="M829.1,554.6L855.3000000000001,568.1500000000001L829.1,581.7Z" fill="#3f1168"/>
<path d="M289.5,554.6L263.3,568.1500000000001L289.5,581.7L829.1,581.7L855.3000000000001,568.1500000000001L829.1,554.6Z" fill="none" stroke="#000" stroke-width="1.6" stroke-linejoin="miter"/>
<text transform="translate(291.10,617.80) scale(1,1.045)" font-size="34.5" text-anchor="middle" >1</text>
<text transform="translate(358.55,617.80) scale(1,1.045)" font-size="34.5" text-anchor="middle" >2</text>
<text transform="translate(426.00,617.80) scale(1,1.045)" font-size="34.5" text-anchor="middle" >4</text>
<text transform="translate(493.45,617.80) scale(1,1.045)" font-size="34.5" text-anchor="middle" >6</text>
<text transform="translate(560.90,617.80) scale(1,1.045)" font-size="34.5" text-anchor="middle" >8</text>
<text transform="translate(628.35,617.80) scale(1,1.045)" font-size="34.5" text-anchor="middle" >10</text>
<text transform="translate(695.80,617.80) scale(1,1.045)" font-size="34.5" text-anchor="middle" >12</text>
<text transform="translate(763.25,617.80) scale(1,1.045)" font-size="34.5" text-anchor="middle" >14</text>
<text transform="translate(830.70,617.80) scale(1,1.045)" font-size="34.5" text-anchor="middle" >16</text>
<path d="M289.50,581.7v6.3M356.95,581.7v6.3M424.40,581.7v6.3M491.85,581.7v6.3M559.30,581.7v6.3M626.75,581.7v6.3M694.20,581.7v6.3M761.65,581.7v6.3M829.10,581.7v6.3" stroke="#000" stroke-width="1.4" fill="none"/>
<text transform="translate(874.00,612.20) scale(1,1.045)" font-size="34.5" text-anchor="start" >(m s<tspan dy="-11.8" font-size="24">-1</tspan><tspan dy="11.8">)</tspan></text>
<path d="M1371.2,550.1L1345.0,563.6500000000001L1371.2,577.2Z" fill="#fdf7f4"/>
<rect x="1371.20" y="550.1" width="108.50" height="27.100000000000023" fill="#fcf3f0"/>
<rect x="1479.20" y="550.1" width="108.50" height="27.100000000000023" fill="#f7ebe7"/>
<rect x="1587.20" y="550.1" width="108.50" height="27.100000000000023" fill="#f3d9d6"/>
<rect x="1695.20" y="550.1" width="108.50" height="27.100000000000023" fill="#e5aab9"/>
<rect x="1803.20" y="550.1" width="108.50" height="27.100000000000023" fill="#94237c"/>
<path d="M1911.2,550.1L1937.4,563.6500000000001L1911.2,577.2Z" fill="#3b0f6b"/>
<path d="M1371.2,550.1L1345.0,563.6500000000001L1371.2,577.2L1911.2,577.2L1937.4,563.6500000000001L1911.2,550.1Z" fill="none" stroke="#000" stroke-width="1.1" stroke-linejoin="miter"/>
<text transform="translate(1371.20,617.50) scale(1,1.03)" font-size="36.1" text-anchor="middle" >0.05</text>
<text transform="translate(1479.20,617.50) scale(1,1.03)" font-size="36.1" text-anchor="middle" >0.10</text>
<text transform="translate(1587.20,617.50) scale(1,1.03)" font-size="36.1" text-anchor="middle" >0.20</text>
<text transform="translate(1695.20,617.50) scale(1,1.03)" font-size="36.1" text-anchor="middle" >0.40</text>
<text transform="translate(1803.20,617.50) scale(1,1.03)" font-size="36.1" text-anchor="middle" >0.80</text>
<text transform="translate(1911.20,617.50) scale(1,1.03)" font-size="36.1" text-anchor="middle" >1.60</text>
<path d="M1371.20,577.2v6.3M1479.20,577.2v6.3M1587.20,577.2v6.3M1695.20,577.2v6.3M1803.20,577.2v6.3M1911.20,577.2v6.3" stroke="#000" stroke-width="1.4" fill="none"/>
<text transform="translate(1980.50,612.20) scale(1,1.03)" font-size="36.1" text-anchor="start" >(K)</text>
<clipPath id="clipe"><rect x="114.5" y="689.3" width="405.55999999999995" height="394.79999999999995"/></clipPath>
<g clip-path="url(#clipe)">
<path d="M151.2,688.8L158.0,748.4L177.5,783.0L215.5,807.7L268.0,826.8L367.5,855.7L453.0,886.2L520.0,945.6L477.5,980.3L412.5,1005.0L342.5,1024.0L222.5,1052.9L146.2,1084.5" stroke="#4070b4" stroke-width="1.8" fill="none" stroke-linejoin="round"/>
<path d="M158.0,688.8L171.2,748.4L197.5,783.0L220.0,807.7L243.8,826.8L296.2,855.7L370.0,886.2L443.8,945.6L477.5,980.3L412.5,1004.6L317.5,1024.0L208.8,1052.9L152.5,1084.5" stroke="#e3822d" stroke-width="1.85" fill="none" stroke-dasharray="6.9,3.0" stroke-linejoin="round"/>
<ellipse cx="173.75" cy="1073.75" rx="4.35" ry="4.65" fill="#2b1de8"/>
<ellipse cx="177.5" cy="1072.5" rx="4.35" ry="4.65" fill="#2b1de8"/>
<ellipse cx="519.5" cy="945.8" rx="4.35" ry="4.65" fill="#da2d20"/>
<ellipse cx="477.5" cy="981" rx="4.35" ry="4.65" fill="#da2d20"/>
</g>
<rect x="114.50" y="689.30" width="405.56" height="394.80" fill="none" stroke="#000" stroke-width="1.1"/>
<text transform="translate(115.60,677.30) scale(1,1.03)" font-size="27.8" text-anchor="start" >(e) MERRA2</text>
<text transform="translate(106.80,697.40) scale(1,1.03)" font-size="23.6" text-anchor="end" >1.0</text>
<text transform="translate(106.80,894.80) scale(1,1.03)" font-size="23.6" text-anchor="end" >10.0</text>
<text transform="translate(106.80,1092.20) scale(1,1.03)" font-size="23.6" text-anchor="end" >100.0</text>
<path d="M114.50,689.30h-4.6M114.50,886.70h-4.6M114.50,1084.10h-4.6" stroke="#000" stroke-width="1.1" fill="none"/>
<text transform="translate(106.10,756.82) scale(1,1.03)" font-size="23.6" text-anchor="end" >2.0</text>
<text transform="translate(106.10,791.58) scale(1,1.03)" font-size="23.6" text-anchor="end" >3.0</text>
<text transform="translate(106.10,835.38) scale(1,1.03)" font-size="23.6" text-anchor="end" >5.0</text>
<text transform="translate(106.10,864.22) scale(1,1.03)" font-size="23.6" text-anchor="end" >7.0</text>
<text transform="translate(106.10,954.22) scale(1,1.03)" font-size="23.6" text-anchor="end" >20.0</text>
<text transform="translate(106.10,988.98) scale(1,1.03)" font-size="23.6" text-anchor="end" >30.0</text>
<text transform="translate(106.10,1032.78) scale(1,1.03)" font-size="23.6" text-anchor="end" >50.0</text>
<text transform="translate(106.10,1061.62) scale(1,1.03)" font-size="23.6" text-anchor="end" >70.0</text>
<path d="M114.50,748.72h-2.8M114.50,783.48h-2.8M114.50,827.28h-2.8M114.50,856.12h-2.8M114.50,946.12h-2.8M114.50,980.88h-2.8M114.50,1024.68h-2.8M114.50,1053.52h-2.8M114.50,808.15h-2.8M114.50,842.91h-2.8M114.50,867.57h-2.8M114.50,877.67h-2.8M114.50,1005.55h-2.8M114.50,1040.31h-2.8M114.50,1064.97h-2.8M114.50,1075.07h-2.8" stroke="#000" stroke-width="0.9" fill="none"/>
<text transform="translate(139.85,1108.00) scale(1,1.03)" font-size="23.6" text-anchor="middle" >0</text>
<text transform="translate(190.54,1108.00) scale(1,1.03)" font-size="23.6" text-anchor="middle" >2</text>
<text transform="translate(241.24,1108.00) scale(1,1.03)" font-size="23.6" text-anchor="middle" >4</text>
<text transform="translate(291.93,1108.00) scale(1,1.03)" font-size="23.6" text-anchor="middle" >6</text>
<text transform="translate(342.63,1108.00) scale(1,1.03)" font-size="23.6" text-anchor="middle" >8</text>
<text transform="translate(393.32,1108.00) scale(1,1.03)" font-size="23.6" text-anchor="middle" >10</text>
<text transform="translate(444.02,1108.00) scale(1,1.03)" font-size="23.6" text-anchor="middle" >12</text>
<text transform="translate(494.71,1108.00) scale(1,1.03)" font-size="23.6" text-anchor="middle" >14</text>
<path d="M139.85,1084.10v4.6M190.54,1084.10v4.6M241.24,1084.10v4.6M291.93,1084.10v4.6M342.63,1084.10v4.6M393.32,1084.10v4.6M444.02,1084.10v4.6M494.71,1084.10v4.6" stroke="#000" stroke-width="1.1" fill="none"/>
<text transform="translate(315.78,1140.00) scale(1,1.03)" font-size="23.6" text-anchor="middle" letter-spacing="0.12">Amplitude (m s<tspan dy="-7.8" font-size="16.5">-1</tspan><tspan dy="7.8">, K 10.0</tspan><tspan dy="-7.8" font-size="16.5">-1</tspan><tspan dy="7.8">)</tspan></text>
<text transform="translate(52.90,896.20) rotate(-90) scale(1,1.06)" font-size="23.6" text-anchor="middle" letter-spacing="0.1">Pressure (hPa)</text>
<path d="M328.05,713.4h46.9" stroke="#5470be" stroke-width="4.9" fill="none"/>
<path d="M328.05,740.6h46.9" stroke="#e3822d" stroke-width="4.9" fill="none" stroke-dasharray="13.8,4.1"/>
<text transform="translate(381.95,722.10) scale(1,1.03)" font-size="23.6" text-anchor="start" style="white-space:pre" letter-spacing="0.18">Zonal  Wind</text>
<text transform="translate(381.95,749.10) scale(1,1.03)" font-size="23.6" text-anchor="start" letter-spacing="0.18">Temperature</text>
<clipPath id="clipf"><rect x="646.6" y="689.3" width="404.9" height="394.79999999999995"/></clipPath>
<g clip-path="url(#clipf)">
<path d="M686.0,689.0L699.0,748.4L707.2,783.3L721.0,826.8L796.8,855.7L824.2,877.0L831.0,887.5L857.2,922.0L918.0,945.8L920.2,965.0L883.5,980.0L823.5,993.8L790.5,1005.0L772.2,1016.2L766.0,1025.0L762.2,1032.5L756.0,1040.0L744.8,1047.0L721.0,1057.5L696.5,1068.8L682.2,1077.5L677.2,1080.0L674.0,1084.5" stroke="#4070b4" stroke-width="1.8" fill="none" stroke-linejoin="round"/>
<path d="M718.0,689.0L707.2,748.4L711.0,783.3L776.0,826.5L774.8,856.0L796.0,878.0L813.5,887.5L833.5,902.5L856.0,920.0L862.2,932.5L867.2,946.2L879.8,966.2L883.5,980.0L857.2,994.2L821.0,1003.8L786.0,1013.2L756.0,1024.2L731.0,1036.2L716.0,1046.2L711.0,1053.8L711.0,1063.8L708.5,1071.2L698.5,1080.0L694.0,1083.8" stroke="#e3822d" stroke-width="1.85" fill="none" stroke-dasharray="6.9,3.0" stroke-linejoin="round"/>
<ellipse cx="696.5" cy="1068.75" rx="4.35" ry="4.65" fill="#2b1de8"/>
<ellipse cx="694.25" cy="1083.9" rx="4.35" ry="4.65" fill="#2b1de8"/>
<ellipse cx="920.5" cy="965.5" rx="4.35" ry="4.65" fill="#da2d20"/>
<ellipse cx="884" cy="980.75" rx="4.35" ry="4.65" fill="#da2d20"/>
</g>
<rect x="646.60" y="689.30" width="404.90" height="394.80" fill="none" stroke="#000" stroke-width="1.1"/>
<text transform="translate(647.50,677.30) scale(1,1.03)" font-size="27.8" text-anchor="start" >(f) W-GAMIL1.0</text>
<text transform="translate(638.90,697.40) scale(1,1.03)" font-size="23.6" text-anchor="end" >1.0</text>
<text transform="translate(638.90,894.80) scale(1,1.03)" font-size="23.6" text-anchor="end" >10.0</text>
<text transform="translate(638.90,1092.20) scale(1,1.03)" font-size="23.6" text-anchor="end" >100.0</text>
<path d="M646.60,689.30h-4.6M646.60,886.70h-4.6M646.60,1084.10h-4.6" stroke="#000" stroke-width="1.1" fill="none"/>
<text transform="translate(638.20,756.82) scale(1,1.03)" font-size="23.6" text-anchor="end" >2.0</text>
<text transform="translate(638.20,791.58) scale(1,1.03)" font-size="23.6" text-anchor="end" >3.0</text>
<text transform="translate(638.20,835.38) scale(1,1.03)" font-size="23.6" text-anchor="end" >5.0</text>
<text transform="translate(638.20,864.22) scale(1,1.03)" font-size="23.6" text-anchor="end" >7.0</text>
<text transform="translate(638.20,954.22) scale(1,1.03)" font-size="23.6" text-anchor="end" >20.0</text>
<text transform="translate(638.20,988.98) scale(1,1.03)" font-size="23.6" text-anchor="end" >30.0</text>
<text transform="translate(638.20,1032.78) scale(1,1.03)" font-size="23.6" text-anchor="end" >50.0</text>
<text transform="translate(638.20,1061.62) scale(1,1.03)" font-size="23.6" text-anchor="end" >70.0</text>
<path d="M646.60,748.72h-2.8M646.60,783.48h-2.8M646.60,827.28h-2.8M646.60,856.12h-2.8M646.60,946.12h-2.8M646.60,980.88h-2.8M646.60,1024.68h-2.8M646.60,1053.52h-2.8M646.60,808.15h-2.8M646.60,842.91h-2.8M646.60,867.57h-2.8M646.60,877.67h-2.8M646.60,1005.55h-2.8M646.60,1040.31h-2.8M646.60,1064.97h-2.8M646.60,1075.07h-2.8" stroke="#000" stroke-width="0.9" fill="none"/>
<text transform="translate(671.91,1108.00) scale(1,1.03)" font-size="23.6" text-anchor="middle" >0</text>
<text transform="translate(722.52,1108.00) scale(1,1.03)" font-size="23.6" text-anchor="middle" >2</text>
<text transform="translate(773.13,1108.00) scale(1,1.03)" font-size="23.6" text-anchor="middle" >4</text>
<text transform="translate(823.74,1108.00) scale(1,1.03)" font-size="23.6" text-anchor="middle" >6</text>
<text transform="translate(874.36,1108.00) scale(1,1.03)" font-size="23.6" text-anchor="middle" >8</text>
<text transform="translate(924.97,1108.00) scale(1,1.03)" font-size="23.6" text-anchor="middle" >10</text>
<text transform="translate(975.58,1108.00) scale(1,1.03)" font-size="23.6" text-anchor="middle" >12</text>
<text transform="translate(1026.19,1108.00) scale(1,1.03)" font-size="23.6" text-anchor="middle" >14</text>
<path d="M671.91,1084.10v4.6M722.52,1084.10v4.6M773.13,1084.10v4.6M823.74,1084.10v4.6M874.36,1084.10v4.6M924.97,1084.10v4.6M975.58,1084.10v4.6M1026.19,1084.10v4.6" stroke="#000" stroke-width="1.1" fill="none"/>
<text transform="translate(847.55,1140.00) scale(1,1.03)" font-size="23.6" text-anchor="middle" letter-spacing="0.12">Amplitude (m s<tspan dy="-7.8" font-size="16.5">-1</tspan><tspan dy="7.8">, K 10.0</tspan><tspan dy="-7.8" font-size="16.5">-1</tspan><tspan dy="7.8">)</tspan></text>
<text transform="translate(585.00,896.20) rotate(-90) scale(1,1.06)" font-size="23.6" text-anchor="middle" letter-spacing="0.1">Pressure (hPa)</text>
<path d="M863.05,713.4h46.9" stroke="#5470be" stroke-width="4.9" fill="none"/>
<path d="M863.05,740.6h46.9" stroke="#e3822d" stroke-width="4.9" fill="none" stroke-dasharray="13.8,4.1"/>
<text transform="translate(916.95,722.10) scale(1,1.03)" font-size="23.6" text-anchor="start" style="white-space:pre" letter-spacing="0.18">Zonal  Wind</text>
<text transform="translate(916.95,749.10) scale(1,1.03)" font-size="23.6" text-anchor="start" letter-spacing="0.18">Temperature</text>
<clipPath id="clipg"><rect x="1203.7" y="691.6" width="404.70000000000005" height="393.9"/></clipPath>
<g clip-path="url(#clipg)">
<path d="M1221.8,1062.5C1229.5,1062.1 1254.0,1060.2 1268.0,1060.0C1282.0,1059.8 1294.7,1060.7 1305.5,1061.0C1316.3,1061.3 1325.1,1061.9 1333.0,1061.8C1340.9,1061.6 1348.2,1061.1 1353.0,1060.0C1357.8,1058.9 1359.2,1057.9 1361.8,1055.0C1364.2,1052.1 1366.3,1047.5 1368.0,1042.5C1369.7,1037.5 1370.5,1033.3 1371.8,1025.0C1373.0,1016.7 1374.2,1006.2 1375.5,992.5C1376.8,978.8 1378.2,955.8 1379.2,942.5C1380.3,929.2 1380.9,922.5 1381.8,912.5C1382.6,902.5 1383.5,893.8 1384.5,882.5C1385.5,871.2 1386.8,858.8 1388.0,845.0C1389.2,831.2 1390.7,815.0 1392.0,800.0C1393.3,785.0 1394.7,768.0 1396.0,755.0C1397.3,742.0 1398.8,730.2 1400.0,722.0C1401.2,713.8 1402.0,709.7 1403.0,706.0C1404.0,702.3 1405.0,700.0 1406.0,700.0C1407.0,700.0 1408.0,702.3 1409.0,706.0C1410.0,709.7 1410.8,713.8 1412.0,722.0C1413.2,730.2 1414.7,742.0 1416.0,755.0C1417.3,768.0 1418.7,785.0 1420.0,800.0C1421.3,815.0 1422.8,831.2 1424.0,845.0C1425.2,858.8 1426.2,871.2 1427.2,882.5C1428.3,893.8 1429.5,900.4 1430.5,912.5C1431.5,924.6 1432.2,940.4 1433.5,955.0C1434.8,969.6 1436.4,986.7 1438.0,1000.0C1439.6,1013.3 1441.3,1026.5 1443.0,1035.0C1444.7,1043.5 1446.1,1047.3 1448.0,1051.2C1449.9,1055.2 1452.2,1057.4 1454.2,1058.8C1456.3,1060.1 1458.2,1059.4 1460.5,1059.5C1462.8,1059.6 1464.2,1059.1 1468.0,1059.5C1471.8,1059.9 1476.8,1061.7 1483.0,1061.8C1489.2,1061.8 1497.6,1060.7 1505.5,1060.0C1513.4,1059.3 1523.8,1058.1 1530.5,1057.5C1537.2,1056.9 1540.5,1056.4 1545.5,1056.5C1550.5,1056.6 1555.5,1057.3 1560.5,1058.0C1565.5,1058.7 1570.5,1059.8 1575.5,1060.5C1580.5,1061.2 1588.0,1062.2 1590.5,1062.5" stroke="#4070b4" stroke-width="1.8" fill="none" stroke-linejoin="round"/>
<path d="M1221.8,1056.5C1227.4,1056.7 1245.7,1057.4 1255.5,1057.8C1265.3,1058.1 1273.0,1058.5 1280.5,1058.5C1288.0,1058.5 1295.1,1058.3 1300.5,1057.8C1305.9,1057.2 1309.7,1056.1 1313.0,1055.0C1316.3,1053.9 1318.0,1053.1 1320.5,1051.2C1323.0,1049.4 1325.5,1046.2 1328.0,1043.8C1330.5,1041.2 1333.2,1038.0 1335.5,1036.2C1337.8,1034.5 1339.7,1033.5 1341.8,1033.2C1343.8,1033.0 1345.7,1033.6 1348.0,1034.5C1350.3,1035.4 1352.8,1037.0 1355.5,1038.8C1358.2,1040.5 1361.8,1043.3 1364.2,1045.0C1366.8,1046.7 1368.8,1048.5 1370.5,1048.8C1372.2,1049.0 1373.0,1048.3 1374.2,1046.2C1375.5,1044.2 1377.0,1040.6 1378.0,1036.2C1379.0,1031.9 1379.7,1027.3 1380.5,1020.0C1381.3,1012.7 1382.2,1003.3 1383.0,992.5C1383.8,981.7 1384.7,967.5 1385.5,955.0C1386.3,942.5 1387.2,927.4 1388.0,917.5C1388.8,907.6 1389.2,906.8 1390.0,895.5C1390.8,884.2 1392.0,865.1 1393.0,850.0C1394.0,834.9 1395.0,818.7 1396.0,805.0C1397.0,791.3 1398.0,778.5 1399.0,768.0C1400.0,757.5 1401.2,748.0 1402.0,742.0C1402.8,736.0 1403.3,734.3 1404.0,732.0C1404.7,729.7 1405.3,728.0 1406.0,728.0C1406.7,728.0 1407.3,729.7 1408.0,732.0C1408.7,734.3 1409.2,736.0 1410.0,742.0C1410.8,748.0 1412.0,757.5 1413.0,768.0C1414.0,778.5 1415.0,791.3 1416.0,805.0C1417.0,818.7 1418.1,834.9 1419.0,850.0C1419.9,865.1 1420.5,882.2 1421.2,895.5C1422.0,908.8 1422.7,915.9 1423.5,930.0C1424.3,944.1 1425.2,965.4 1426.0,980.0C1426.8,994.6 1427.7,1007.9 1428.5,1017.5C1429.3,1027.1 1430.0,1032.6 1431.0,1037.5C1432.0,1042.4 1433.2,1045.1 1434.2,1047.0C1435.3,1048.9 1436.4,1049.3 1437.5,1048.8C1438.6,1048.2 1439.7,1046.5 1441.0,1043.8C1442.3,1041.0 1443.9,1035.6 1445.5,1032.5C1447.1,1029.4 1448.6,1027.0 1450.5,1025.0C1452.4,1023.0 1454.7,1021.2 1456.8,1020.8C1458.8,1020.3 1460.3,1021.4 1463.0,1022.5C1465.7,1023.6 1469.7,1025.6 1473.0,1027.5C1476.3,1029.4 1479.7,1031.0 1483.0,1033.8C1486.3,1036.5 1489.7,1040.4 1493.0,1043.8C1496.3,1047.1 1499.7,1051.4 1503.0,1053.8C1506.3,1056.1 1509.2,1057.3 1513.0,1058.0C1516.8,1058.7 1520.5,1058.5 1525.5,1058.0C1530.5,1057.5 1537.6,1056.1 1543.0,1055.0C1548.4,1053.9 1553.0,1052.4 1558.0,1051.2C1563.0,1050.1 1567.6,1048.8 1573.0,1048.2C1578.4,1047.7 1587.6,1047.8 1590.5,1047.8" stroke="#e3822d" stroke-width="1.85" fill="none" stroke-dasharray="6.9,3.0" stroke-linejoin="round"/>
<ellipse cx="1384.5" cy="881.25" rx="4.35" ry="4.65" fill="#2b1de8"/>
<ellipse cx="1427.25" cy="881.25" rx="4.35" ry="4.65" fill="#2b1de8"/>
<ellipse cx="1390" cy="895.5" rx="4.35" ry="4.65" fill="#da2d20"/>
<ellipse cx="1421.25" cy="895.5" rx="4.35" ry="4.65" fill="#da2d20"/>
</g>
<rect x="1203.70" y="691.60" width="404.70" height="393.90" fill="none" stroke="#000" stroke-width="1.1"/>
<text transform="translate(1203.30,678.80) scale(1,1.03)" font-size="27.8" text-anchor="start" >(g) MERRA2</text>
<text transform="translate(1195.50,1071.03) scale(1,1.03)" font-size="23.6" text-anchor="end" >0</text>
<text transform="translate(1195.50,1024.69) scale(1,1.03)" font-size="23.6" text-anchor="end" >2.0</text>
<text transform="translate(1195.50,978.35) scale(1,1.03)" font-size="23.6" text-anchor="end" >4.0</text>
<text transform="translate(1195.50,932.01) scale(1,1.03)" font-size="23.6" text-anchor="end" >6.0</text>
<text transform="translate(1195.50,885.66) scale(1,1.03)" font-size="23.6" text-anchor="end" >8.0</text>
<text transform="translate(1195.50,839.32) scale(1,1.03)" font-size="23.6" text-anchor="end" >10.0</text>
<text transform="translate(1195.50,792.98) scale(1,1.03)" font-size="23.6" text-anchor="end" >12.0</text>
<text transform="translate(1195.50,746.64) scale(1,1.03)" font-size="23.6" text-anchor="end" >14.0</text>
<text transform="translate(1195.50,700.30) scale(1,1.03)" font-size="23.6" text-anchor="end" >16.0</text>
<path d="M1203.70,1062.33h-4.6M1203.70,1015.99h-4.6M1203.70,969.65h-4.6M1203.70,923.31h-4.6M1203.70,876.96h-4.6M1203.70,830.62h-4.6M1203.70,784.28h-4.6M1203.70,737.94h-4.6M1203.70,691.60h-4.6" stroke="#000" stroke-width="1.1" fill="none"/>
<text transform="translate(1252.75,1108.00) scale(1,1.03)" font-size="23.6" text-anchor="middle" >75S</text>
<text transform="translate(1303.85,1108.00) scale(1,1.03)" font-size="23.6" text-anchor="middle" >50S</text>
<text transform="translate(1354.95,1108.00) scale(1,1.03)" font-size="23.6" text-anchor="middle" >25S</text>
<text transform="translate(1406.05,1108.00) scale(1,1.03)" font-size="23.6" text-anchor="middle" >0</text>
<text transform="translate(1457.15,1108.00) scale(1,1.03)" font-size="23.6" text-anchor="middle" >25N</text>
<text transform="translate(1508.25,1108.00) scale(1,1.03)" font-size="23.6" text-anchor="middle" >50N</text>
<text transform="translate(1559.35,1108.00) scale(1,1.03)" font-size="23.6" text-anchor="middle" >75N</text>
<path d="M1252.75,1085.50v4.6M1303.85,1085.50v4.6M1354.95,1085.50v4.6M1406.05,1085.50v4.6M1457.15,1085.50v4.6M1508.25,1085.50v4.6M1559.35,1085.50v4.6" stroke="#000" stroke-width="1.1" fill="none"/>
<text transform="translate(1409.35,1140.30) scale(1,1.03)" font-size="23.6" text-anchor="middle" letter-spacing="0.15">Latitude (deg)</text>
<text transform="translate(1139.20,889.05) rotate(-90) scale(1,1.06)" font-size="23.6" text-anchor="middle" letter-spacing="0.18">Amplitude (m s<tspan dy="-7.8" font-size="16.5">-1</tspan><tspan dy="7.8">, K 10.0</tspan><tspan dy="-7.8" font-size="16.5">-1</tspan><tspan dy="7.8">)</tspan></text>
<path d="M1421.95,713.4h46.9" stroke="#5470be" stroke-width="4.9" fill="none"/>
<path d="M1421.95,740.6h46.9" stroke="#e3822d" stroke-width="4.9" fill="none" stroke-dasharray="13.8,4.1"/>
<text transform="translate(1475.85,722.10) scale(1,1.03)" font-size="23.6" text-anchor="start" style="white-space:pre" letter-spacing="0.18">Zonal  Wind</text>
<text transform="translate(1475.85,749.10) scale(1,1.03)" font-size="23.6" text-anchor="start" letter-spacing="0.18">Temperature</text>
<clipPath id="cliph"><rect x="1735.6" y="691.6" width="405.0" height="393.9"/></clipPath>
<g clip-path="url(#cliph)">
<path d="M1763.8,1057.0C1766.0,1057.6 1772.3,1059.7 1777.5,1060.5C1782.7,1061.3 1784.6,1061.5 1795.0,1061.8C1805.4,1062.0 1829.6,1062.0 1840.0,1061.8C1850.4,1061.5 1852.9,1061.0 1857.5,1060.5C1862.1,1060.0 1864.6,1059.0 1867.5,1058.8C1870.4,1058.5 1872.1,1058.5 1875.0,1058.8C1877.9,1059.0 1882.1,1060.0 1885.0,1060.2C1887.9,1060.5 1890.2,1060.5 1892.5,1060.0C1894.8,1059.5 1896.9,1058.5 1898.8,1057.0C1900.6,1055.5 1902.3,1053.7 1903.8,1051.2C1905.2,1048.8 1906.2,1046.9 1907.5,1042.5C1908.8,1038.1 1910.0,1032.9 1911.2,1025.0C1912.5,1017.1 1913.9,1005.4 1915.0,995.0C1916.1,984.6 1917.1,970.7 1918.0,962.5C1918.9,954.3 1919.5,955.3 1920.5,945.8C1921.5,936.2 1922.8,916.0 1923.8,905.0C1924.7,894.0 1925.6,886.7 1926.2,880.0C1926.9,873.3 1926.7,871.7 1927.5,865.0C1928.3,858.3 1929.9,846.0 1931.2,840.0C1932.6,834.0 1934.4,830.2 1935.8,828.8C1937.1,827.3 1938.2,828.5 1939.5,831.2C1940.8,834.0 1942.3,838.1 1943.8,845.0C1945.2,851.9 1946.8,862.9 1948.0,872.5C1949.2,882.1 1950.2,890.3 1951.2,902.5C1952.3,914.7 1953.5,932.8 1954.5,945.8C1955.5,958.7 1956.4,968.9 1957.5,980.0C1958.6,991.1 1960.0,1003.3 1961.2,1012.5C1962.5,1021.7 1963.5,1028.5 1965.0,1035.0C1966.5,1041.5 1968.1,1047.4 1970.0,1051.2C1971.9,1055.1 1973.8,1056.5 1976.2,1058.0C1978.8,1059.5 1981.0,1059.8 1985.0,1060.0C1989.0,1060.2 1995.0,1058.9 2000.0,1059.0C2005.0,1059.1 2010.0,1060.0 2015.0,1060.5C2020.0,1061.0 2025.8,1061.9 2030.0,1062.0C2034.2,1062.1 2036.2,1061.8 2040.0,1061.2C2043.8,1060.7 2048.3,1059.5 2052.5,1058.8C2056.7,1058.0 2060.8,1057.0 2065.0,1056.5C2069.2,1056.0 2073.3,1055.9 2077.5,1056.0C2081.7,1056.1 2086.7,1056.6 2090.0,1057.0C2093.3,1057.4 2094.0,1057.9 2097.5,1058.2C2101.0,1058.6 2109.0,1058.9 2111.2,1059.0" stroke="#4070b4" stroke-width="1.8" fill="none" stroke-linejoin="round"/>
<path d="M1753.8,1056.5C1759.8,1056.8 1779.8,1057.5 1790.0,1058.0C1800.2,1058.5 1807.9,1059.0 1815.0,1059.2C1822.1,1059.5 1827.1,1059.7 1832.5,1059.2C1837.9,1058.8 1842.9,1057.6 1847.5,1056.8C1852.1,1055.9 1856.9,1055.2 1860.0,1054.2C1863.1,1053.3 1864.4,1053.2 1866.2,1051.2C1868.1,1049.3 1869.6,1046.5 1871.2,1042.5C1872.9,1038.5 1874.6,1032.5 1876.2,1027.5C1877.9,1022.5 1879.8,1016.0 1881.2,1012.5C1882.7,1009.0 1884.0,1007.5 1885.0,1006.2C1886.0,1005.0 1886.5,1004.8 1887.5,1005.0C1888.5,1005.2 1889.8,1005.2 1891.2,1007.5C1892.7,1009.8 1894.6,1015.0 1896.2,1018.8C1897.9,1022.5 1899.6,1026.9 1901.2,1030.0C1902.9,1033.1 1904.8,1036.0 1906.2,1037.5C1907.7,1039.0 1908.8,1039.6 1910.0,1038.8C1911.2,1037.9 1912.5,1036.9 1913.8,1032.5C1915.0,1028.1 1916.4,1020.4 1917.5,1012.5C1918.6,1004.6 1919.5,993.8 1920.5,985.0C1921.5,976.2 1922.1,970.8 1923.2,959.5C1924.4,948.2 1926.2,931.6 1927.5,917.5C1928.8,903.4 1930.0,885.1 1931.2,875.0C1932.5,864.9 1933.6,859.8 1935.0,856.8C1936.4,853.7 1938.2,853.7 1939.5,856.8C1940.8,859.8 1941.9,867.4 1943.0,875.0C1944.1,882.6 1944.9,888.4 1946.2,902.5C1947.6,916.6 1949.8,945.3 1951.0,959.5C1952.2,973.7 1952.8,978.2 1953.8,987.5C1954.8,996.8 1956.0,1007.9 1957.0,1015.0C1958.0,1022.1 1958.9,1026.6 1960.0,1030.0C1961.1,1033.4 1962.5,1035.1 1963.8,1035.5C1965.0,1035.9 1966.0,1034.0 1967.5,1032.5C1969.0,1031.0 1970.6,1027.8 1972.5,1026.2C1974.4,1024.7 1976.7,1023.2 1978.8,1023.0C1980.8,1022.8 1982.7,1023.4 1985.0,1025.0C1987.3,1026.6 1990.0,1030.0 1992.5,1032.5C1995.0,1035.0 1997.5,1038.2 2000.0,1040.0C2002.5,1041.8 2005.0,1042.5 2007.5,1043.0C2010.0,1043.5 2012.5,1043.1 2015.0,1043.0C2017.5,1042.9 2020.0,1042.1 2022.5,1042.5C2025.0,1042.9 2027.1,1043.8 2030.0,1045.5C2032.9,1047.2 2036.7,1050.2 2040.0,1052.5C2043.3,1054.8 2047.1,1058.0 2050.0,1059.5C2052.9,1061.0 2055.0,1061.2 2057.5,1061.2C2060.0,1061.3 2061.7,1061.0 2065.0,1060.0C2068.3,1059.0 2073.3,1056.5 2077.5,1055.0C2081.7,1053.5 2085.4,1052.5 2090.0,1051.2C2094.6,1050.0 2099.8,1048.4 2105.0,1047.5C2110.2,1046.6 2118.5,1046.0 2121.2,1045.8" stroke="#e3822d" stroke-width="1.85" fill="none" stroke-dasharray="6.9,3.0" stroke-linejoin="round"/>
<ellipse cx="1920.3" cy="945.75" rx="4.35" ry="4.65" fill="#2b1de8"/>
<ellipse cx="1954.6" cy="945.75" rx="4.35" ry="4.65" fill="#2b1de8"/>
<ellipse cx="1923.4" cy="959.5" rx="4.35" ry="4.65" fill="#da2d20"/>
<ellipse cx="1951" cy="959.5" rx="4.35" ry="4.65" fill="#da2d20"/>
</g>
<rect x="1735.60" y="691.60" width="405.00" height="393.90" fill="none" stroke="#000" stroke-width="1.1"/>
<text transform="translate(1738.90,678.80) scale(1,1.03)" font-size="27.8" text-anchor="start" >(h) W-GAMIL1.0</text>
<text transform="translate(1727.40,1071.03) scale(1,1.03)" font-size="23.6" text-anchor="end" >0</text>
<text transform="translate(1727.40,1024.69) scale(1,1.03)" font-size="23.6" text-anchor="end" >2.0</text>
<text transform="translate(1727.40,978.35) scale(1,1.03)" font-size="23.6" text-anchor="end" >4.0</text>
<text transform="translate(1727.40,932.01) scale(1,1.03)" font-size="23.6" text-anchor="end" >6.0</text>
<text transform="translate(1727.40,885.66) scale(1,1.03)" font-size="23.6" text-anchor="end" >8.0</text>
<text transform="translate(1727.40,839.32) scale(1,1.03)" font-size="23.6" text-anchor="end" >10.0</text>
<text transform="translate(1727.40,792.98) scale(1,1.03)" font-size="23.6" text-anchor="end" >12.0</text>
<text transform="translate(1727.40,746.64) scale(1,1.03)" font-size="23.6" text-anchor="end" >14.0</text>
<text transform="translate(1727.40,700.30) scale(1,1.03)" font-size="23.6" text-anchor="end" >16.0</text>
<path d="M1735.60,1062.33h-4.6M1735.60,1015.99h-4.6M1735.60,969.65h-4.6M1735.60,923.31h-4.6M1735.60,876.96h-4.6M1735.60,830.62h-4.6M1735.60,784.28h-4.6M1735.60,737.94h-4.6M1735.60,691.60h-4.6" stroke="#000" stroke-width="1.1" fill="none"/>
<text transform="translate(1784.69,1108.00) scale(1,1.03)" font-size="23.6" text-anchor="middle" >75S</text>
<text transform="translate(1835.83,1108.00) scale(1,1.03)" font-size="23.6" text-anchor="middle" >50S</text>
<text transform="translate(1886.96,1108.00) scale(1,1.03)" font-size="23.6" text-anchor="middle" >25S</text>
<text transform="translate(1938.10,1108.00) scale(1,1.03)" font-size="23.6" text-anchor="middle" >0</text>
<text transform="translate(1989.24,1108.00) scale(1,1.03)" font-size="23.6" text-anchor="middle" >25N</text>
<text transform="translate(2040.37,1108.00) scale(1,1.03)" font-size="23.6" text-anchor="middle" >50N</text>
<text transform="translate(2091.51,1108.00) scale(1,1.03)" font-size="23.6" text-anchor="middle" >75N</text>
<path d="M1784.69,1085.50v4.6M1835.83,1085.50v4.6M1886.96,1085.50v4.6M1938.10,1085.50v4.6M1989.24,1085.50v4.6M2040.37,1085.50v4.6M2091.51,1085.50v4.6" stroke="#000" stroke-width="1.1" fill="none"/>
<text transform="translate(1941.40,1140.30) scale(1,1.03)" font-size="23.6" text-anchor="middle" letter-spacing="0.15">Latitude (deg)</text>
<text transform="translate(1671.10,889.05) rotate(-90) scale(1,1.06)" font-size="23.6" text-anchor="middle" letter-spacing="0.18">Amplitude (m s<tspan dy="-7.8" font-size="16.5">-1</tspan><tspan dy="7.8">, K 10.0</tspan><tspan dy="-7.8" font-size="16.5">-1</tspan><tspan dy="7.8">)</tspan></text>
<path d="M1950.94,713.4h46.9" stroke="#5470be" stroke-width="4.9" fill="none"/>
<path d="M1950.94,740.6h46.9" stroke="#e3822d" stroke-width="4.9" fill="none" stroke-dasharray="13.8,4.1"/>
<text transform="translate(2004.84,722.10) scale(1,1.03)" font-size="23.6" text-anchor="start" style="white-space:pre" letter-spacing="0.18">Zonal  Wind</text>
<text transform="translate(2004.84,749.10) scale(1,1.03)" font-size="23.6" text-anchor="start" letter-spacing="0.18">Temperature</text>
</svg>
</body></html>
